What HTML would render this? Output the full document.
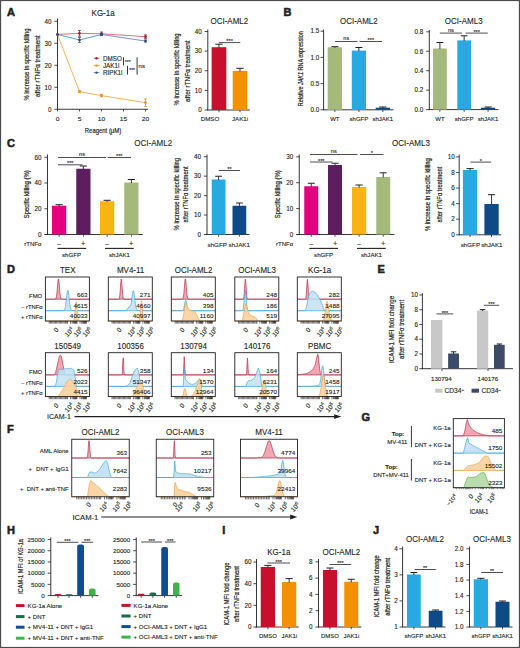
<!DOCTYPE html>
<html><head><meta charset="utf-8"><title>Figure</title>
<style>
html,body{margin:0;padding:0;background:#fff;}
body{width:520px;height:648px;overflow:hidden;}
svg{display:block;font-family:"Liberation Sans",sans-serif;}
text{stroke:#231f20;stroke-width:0.12px;}
text.yl{stroke-width:0.2px;}
text.pl{stroke-width:0.55px;}
</style></head><body>
<svg width="520" height="648" viewBox="0 0 520 648" fill="#231f20">
<rect width="520" height="648" fill="#fff"/>
<rect x="0.5" y="0.5" width="519" height="647" fill="none" stroke="#4a4a4a" stroke-width="1.2"/>
<text transform="translate(7 16.2)" font-size="11" class="pl" font-weight="bold">A</text>
<text transform="translate(103.1 16.3)" font-size="8.5" text-anchor="middle" textLength="23.12" lengthAdjust="spacingAndGlyphs">KG-1a</text>
<line x1="57.5" y1="18.5" x2="57.5" y2="109.65" stroke="#231f20" stroke-width="0.9"/>
<line x1="54.4" y1="109.25" x2="57.5" y2="109.25" stroke="#231f20" stroke-width="0.8"/>
<text transform="translate(51.4 111.52)" font-size="6.3" text-anchor="end">0</text>
<line x1="54.4" y1="87.25" x2="57.5" y2="87.25" stroke="#231f20" stroke-width="0.8"/>
<text transform="translate(51.4 89.52)" font-size="6.3" text-anchor="end">10</text>
<line x1="54.4" y1="65.25" x2="57.5" y2="65.25" stroke="#231f20" stroke-width="0.8"/>
<text transform="translate(51.4 67.52)" font-size="6.3" text-anchor="end">20</text>
<line x1="54.4" y1="43.25" x2="57.5" y2="43.25" stroke="#231f20" stroke-width="0.8"/>
<text transform="translate(51.4 45.52)" font-size="6.3" text-anchor="end">30</text>
<line x1="54.4" y1="21.25" x2="57.5" y2="21.25" stroke="#231f20" stroke-width="0.8"/>
<text transform="translate(51.4 23.52)" font-size="6.3" text-anchor="end">40</text>
<line x1="57.05" y1="109.25" x2="148" y2="109.25" stroke="#231f20" stroke-width="0.9"/>
<line x1="57.5" y1="109.25" x2="57.5" y2="111.45" stroke="#231f20" stroke-width="0.8"/>
<line x1="79.5" y1="109.25" x2="79.5" y2="111.45" stroke="#231f20" stroke-width="0.8"/>
<line x1="101.5" y1="109.25" x2="101.5" y2="111.45" stroke="#231f20" stroke-width="0.8"/>
<line x1="123.5" y1="109.25" x2="123.5" y2="111.45" stroke="#231f20" stroke-width="0.8"/>
<line x1="145.5" y1="109.25" x2="145.5" y2="111.45" stroke="#231f20" stroke-width="0.8"/>
<text transform="translate(57.5 121) scale(1 0.88)" font-size="6.6" text-anchor="middle">0</text>
<text transform="translate(79.5 121) scale(1 0.88)" font-size="6.6" text-anchor="middle">5</text>
<text transform="translate(101.5 121) scale(1 0.88)" font-size="6.6" text-anchor="middle">10</text>
<text transform="translate(123.5 121) scale(1 0.88)" font-size="6.6" text-anchor="middle">15</text>
<text transform="translate(145.5 121) scale(1 0.88)" font-size="6.6" text-anchor="middle">20</text>
<text transform="translate(103 132.9)" font-size="7.4" class="yl" text-anchor="middle" textLength="36.4" lengthAdjust="spacingAndGlyphs">Reagent (μM)</text>
<text transform="translate(28.51 64.5) rotate(-90)" font-size="6.91" class="yl" text-anchor="middle" textLength="72" lengthAdjust="spacingAndGlyphs">% increase in specific killing</text>
<text transform="translate(39.51 66.2) rotate(-90)" font-size="6.91" class="yl" text-anchor="middle" textLength="61.5" lengthAdjust="spacingAndGlyphs">after rTNFα treatment</text>
<path d="M57.5 34.45 L79.5 91.65 L101.5 95.61 L145.5 102.65" fill="none" stroke="#f2a63e" stroke-width="0.85"/>
<circle cx="57.5" cy="34.45" r="1.3" fill="#e8900e"/>
<line x1="79.5" y1="90.55" x2="79.5" y2="92.75" stroke="#e8900e" stroke-width="0.8"/>
<line x1="78.1" y1="90.55" x2="80.9" y2="90.55" stroke="#e8900e" stroke-width="0.8"/>
<line x1="78.1" y1="92.75" x2="80.9" y2="92.75" stroke="#e8900e" stroke-width="0.8"/>
<circle cx="79.5" cy="91.65" r="1.3" fill="#e8900e"/>
<line x1="101.5" y1="94.29" x2="101.5" y2="96.93" stroke="#e8900e" stroke-width="0.8"/>
<line x1="100.1" y1="94.29" x2="102.9" y2="94.29" stroke="#e8900e" stroke-width="0.8"/>
<line x1="100.1" y1="96.93" x2="102.9" y2="96.93" stroke="#e8900e" stroke-width="0.8"/>
<circle cx="101.5" cy="95.61" r="1.3" fill="#e8900e"/>
<line x1="145.5" y1="98.91" x2="145.5" y2="106.39" stroke="#e8900e" stroke-width="0.8"/>
<line x1="144.1" y1="98.91" x2="146.9" y2="98.91" stroke="#e8900e" stroke-width="0.8"/>
<line x1="144.1" y1="106.39" x2="146.9" y2="106.39" stroke="#e8900e" stroke-width="0.8"/>
<circle cx="145.5" cy="102.65" r="1.3" fill="#e8900e"/>
<path d="M57.5 34.45 L79.5 33.35 L101.5 33.79 L145.5 36.65" fill="none" stroke="#d4566c" stroke-width="0.85"/>
<circle cx="57.5" cy="34.45" r="1.3" fill="#a8142f"/>
<line x1="79.5" y1="30.49" x2="79.5" y2="36.21" stroke="#a8142f" stroke-width="0.8"/>
<line x1="78.1" y1="30.49" x2="80.9" y2="30.49" stroke="#a8142f" stroke-width="0.8"/>
<line x1="78.1" y1="36.21" x2="80.9" y2="36.21" stroke="#a8142f" stroke-width="0.8"/>
<circle cx="79.5" cy="33.35" r="1.3" fill="#a8142f"/>
<line x1="101.5" y1="32.03" x2="101.5" y2="35.55" stroke="#a8142f" stroke-width="0.8"/>
<line x1="100.1" y1="32.03" x2="102.9" y2="32.03" stroke="#a8142f" stroke-width="0.8"/>
<line x1="100.1" y1="35.55" x2="102.9" y2="35.55" stroke="#a8142f" stroke-width="0.8"/>
<circle cx="101.5" cy="33.79" r="1.3" fill="#a8142f"/>
<line x1="145.5" y1="34.89" x2="145.5" y2="38.41" stroke="#a8142f" stroke-width="0.8"/>
<line x1="144.1" y1="34.89" x2="146.9" y2="34.89" stroke="#a8142f" stroke-width="0.8"/>
<line x1="144.1" y1="38.41" x2="146.9" y2="38.41" stroke="#a8142f" stroke-width="0.8"/>
<circle cx="145.5" cy="36.65" r="1.3" fill="#a8142f"/>
<path d="M57.5 34.45 L79.5 39.95 L101.5 34.45 L145.5 41.05" fill="none" stroke="#5582b2" stroke-width="0.85"/>
<circle cx="57.5" cy="34.45" r="1.3" fill="#244f7e"/>
<line x1="79.5" y1="37.53" x2="79.5" y2="42.37" stroke="#244f7e" stroke-width="0.8"/>
<line x1="78.1" y1="37.53" x2="80.9" y2="37.53" stroke="#244f7e" stroke-width="0.8"/>
<line x1="78.1" y1="42.37" x2="80.9" y2="42.37" stroke="#244f7e" stroke-width="0.8"/>
<circle cx="79.5" cy="39.95" r="1.3" fill="#244f7e"/>
<line x1="101.5" y1="33.35" x2="101.5" y2="35.55" stroke="#244f7e" stroke-width="0.8"/>
<line x1="100.1" y1="33.35" x2="102.9" y2="33.35" stroke="#244f7e" stroke-width="0.8"/>
<line x1="100.1" y1="35.55" x2="102.9" y2="35.55" stroke="#244f7e" stroke-width="0.8"/>
<circle cx="101.5" cy="34.45" r="1.3" fill="#244f7e"/>
<line x1="145.5" y1="39.95" x2="145.5" y2="42.15" stroke="#244f7e" stroke-width="0.8"/>
<line x1="144.1" y1="39.95" x2="146.9" y2="39.95" stroke="#244f7e" stroke-width="0.8"/>
<line x1="144.1" y1="42.15" x2="146.9" y2="42.15" stroke="#244f7e" stroke-width="0.8"/>
<circle cx="145.5" cy="41.05" r="1.3" fill="#244f7e"/>
<line x1="93.6" y1="58.3" x2="99.4" y2="58.3" stroke="#d4566c" stroke-width="0.8"/>
<circle cx="96.5" cy="58.3" r="1.2" fill="#a8142f"/>
<text transform="translate(102.9 60.5)" font-size="6.3">DMSO</text>
<line x1="93.6" y1="65.6" x2="99.4" y2="65.6" stroke="#f2a63e" stroke-width="0.8"/>
<circle cx="96.5" cy="65.6" r="1.2" fill="#e8900e"/>
<text transform="translate(102.9 67.8)" font-size="6.3">JAK1i</text>
<line x1="93.6" y1="72.6" x2="99.4" y2="72.6" stroke="#5582b2" stroke-width="0.8"/>
<circle cx="96.5" cy="72.6" r="1.2" fill="#244f7e"/>
<text transform="translate(102.9 74.8)" font-size="6.3">RIPK1i</text>
<line x1="123.5" y1="57.3" x2="123.5" y2="65.4" stroke="#231f20" stroke-width="0.9"/>
<text transform="translate(124.8 64)" font-size="5">***</text>
<line x1="127.5" y1="65.8" x2="127.5" y2="74.6" stroke="#231f20" stroke-width="0.9"/>
<text transform="translate(129.2 72.4)" font-size="5">***</text>
<line x1="137.1" y1="57.3" x2="137.1" y2="74.6" stroke="#231f20" stroke-width="0.9"/>
<text transform="translate(138.6 67.8)" font-size="6">ns</text>
<text transform="translate(229.3 23.6)" font-size="8.5" text-anchor="middle" textLength="37.78" lengthAdjust="spacingAndGlyphs">OCI-AML2</text>
<line x1="207.8" y1="29.6" x2="207.8" y2="110.4" stroke="#231f20" stroke-width="0.9"/>
<line x1="204.7" y1="110" x2="207.8" y2="110" stroke="#231f20" stroke-width="0.8"/>
<text transform="translate(201.8 112.27)" font-size="6.3" text-anchor="end">0</text>
<line x1="204.7" y1="90.38" x2="207.8" y2="90.38" stroke="#231f20" stroke-width="0.8"/>
<text transform="translate(201.8 92.64)" font-size="6.3" text-anchor="end">10</text>
<line x1="204.7" y1="70.75" x2="207.8" y2="70.75" stroke="#231f20" stroke-width="0.8"/>
<text transform="translate(201.8 73.02)" font-size="6.3" text-anchor="end">20</text>
<line x1="204.7" y1="51.12" x2="207.8" y2="51.12" stroke="#231f20" stroke-width="0.8"/>
<text transform="translate(201.8 53.39)" font-size="6.3" text-anchor="end">30</text>
<line x1="204.7" y1="31.5" x2="207.8" y2="31.5" stroke="#231f20" stroke-width="0.8"/>
<text transform="translate(201.8 33.77)" font-size="6.3" text-anchor="end">40</text>
<line x1="207.35" y1="110" x2="249.8" y2="110" stroke="#231f20" stroke-width="0.9"/>
<line x1="219" y1="110" x2="219" y2="112.2" stroke="#231f20" stroke-width="0.8"/>
<line x1="240" y1="110" x2="240" y2="112.2" stroke="#231f20" stroke-width="0.8"/>
<rect x="211.6" y="47.2" width="14.7" height="62.8" fill="#c8102e"/>
<line x1="218.95" y1="47.7" x2="218.95" y2="44.2" stroke="#231f20" stroke-width="0.9"/>
<line x1="215.27" y1="44.2" x2="222.62" y2="44.2" stroke="#231f20" stroke-width="1"/>
<rect x="232.7" y="70.9" width="14.6" height="39.1" fill="#f39200"/>
<line x1="240" y1="71.4" x2="240" y2="68.3" stroke="#231f20" stroke-width="0.9"/>
<line x1="236.35" y1="68.3" x2="243.65" y2="68.3" stroke="#231f20" stroke-width="1"/>
<line x1="218.8" y1="42.6" x2="240.3" y2="42.6" stroke="#231f20" stroke-width="0.8"/>
<text transform="translate(229.55 43.2)" font-size="5.5" text-anchor="middle">***</text>
<text transform="translate(210 120.6)" font-size="6.2" text-anchor="middle">DMSO</text>
<text transform="translate(240 120.6)" font-size="6.2" text-anchor="middle">JAK1i</text>
<text transform="translate(179.21 69.4) rotate(-90)" font-size="6.91" class="yl" text-anchor="middle" textLength="72" lengthAdjust="spacingAndGlyphs">% increase in specific killing</text>
<text transform="translate(190.11 71.2) rotate(-90)" font-size="6.91" class="yl" text-anchor="middle" textLength="61.5" lengthAdjust="spacingAndGlyphs">after rTNFα treatment</text>
<text transform="translate(283.4 16.2)" font-size="11" class="pl" font-weight="bold">B</text>
<text transform="translate(358.8 23.6)" font-size="8.5" text-anchor="middle" textLength="37.78" lengthAdjust="spacingAndGlyphs">OCI-AML2</text>
<line x1="323.6" y1="29.5" x2="323.6" y2="110.2" stroke="#231f20" stroke-width="0.9"/>
<line x1="320.5" y1="109.8" x2="323.6" y2="109.8" stroke="#231f20" stroke-width="0.8"/>
<text transform="translate(319.3 112.07)" font-size="6.3" text-anchor="end">0.0</text>
<line x1="320.5" y1="83.6" x2="323.6" y2="83.6" stroke="#231f20" stroke-width="0.8"/>
<text transform="translate(319.3 85.87)" font-size="6.3" text-anchor="end">0.5</text>
<line x1="320.5" y1="57.4" x2="323.6" y2="57.4" stroke="#231f20" stroke-width="0.8"/>
<text transform="translate(319.3 59.67)" font-size="6.3" text-anchor="end">1.0</text>
<line x1="320.5" y1="31.2" x2="323.6" y2="31.2" stroke="#231f20" stroke-width="0.8"/>
<text transform="translate(319.3 33.47)" font-size="6.3" text-anchor="end">1.5</text>
<line x1="323.35" y1="109.8" x2="393.5" y2="109.8" stroke="#231f20" stroke-width="0.9"/>
<line x1="334.85" y1="109.8" x2="334.85" y2="112" stroke="#231f20" stroke-width="0.8"/>
<line x1="358.9" y1="109.8" x2="358.9" y2="112" stroke="#231f20" stroke-width="0.8"/>
<line x1="382.85" y1="109.8" x2="382.85" y2="112" stroke="#231f20" stroke-width="0.8"/>
<rect x="327.7" y="47.3" width="14.3" height="62.5" fill="#a5b97c"/>
<line x1="334.85" y1="47.8" x2="334.85" y2="46.7" stroke="#231f20" stroke-width="0.9"/>
<line x1="331.28" y1="46.7" x2="338.43" y2="46.7" stroke="#231f20" stroke-width="1"/>
<rect x="351.8" y="50.6" width="14.2" height="59.2" fill="#29a9e1"/>
<line x1="358.9" y1="51.1" x2="358.9" y2="47.5" stroke="#231f20" stroke-width="0.9"/>
<line x1="355.35" y1="47.5" x2="362.45" y2="47.5" stroke="#231f20" stroke-width="1"/>
<rect x="375.7" y="107.7" width="14.3" height="2.1" fill="#0d4a86"/>
<line x1="382.85" y1="108.2" x2="382.85" y2="107" stroke="#231f20" stroke-width="0.9"/>
<line x1="379.28" y1="107" x2="386.43" y2="107" stroke="#231f20" stroke-width="1"/>
<line x1="335" y1="41.5" x2="357.5" y2="41.5" stroke="#231f20" stroke-width="0.8"/>
<text transform="translate(346.25 40) scale(1 0.9)" font-size="5.6" text-anchor="middle">ns</text>
<line x1="359.6" y1="41.5" x2="382" y2="41.5" stroke="#231f20" stroke-width="0.8"/>
<text transform="translate(370.8 42.1)" font-size="5.5" text-anchor="middle">***</text>
<text transform="translate(334.85 121.2)" font-size="6" text-anchor="middle">WT</text>
<text transform="translate(358.9 121.2)" font-size="6" text-anchor="middle">shGFP</text>
<text transform="translate(382.85 121.2)" font-size="6" text-anchor="middle">shJAK1</text>
<text transform="translate(303.44 68.8) rotate(-90)" font-size="6.7" class="yl" text-anchor="middle" textLength="75" lengthAdjust="spacingAndGlyphs">Relative <tspan font-style="italic">JAK1</tspan> RNA expression</text>
<text transform="translate(463.7 23.6)" font-size="8.5" text-anchor="middle" textLength="37.78" lengthAdjust="spacingAndGlyphs">OCI-AML3</text>
<line x1="429.3" y1="30" x2="429.3" y2="110" stroke="#231f20" stroke-width="0.9"/>
<line x1="426.2" y1="109.6" x2="429.3" y2="109.6" stroke="#231f20" stroke-width="0.8"/>
<text transform="translate(423.3 111.87)" font-size="6.3" text-anchor="end">0.0</text>
<line x1="426.2" y1="90.15" x2="429.3" y2="90.15" stroke="#231f20" stroke-width="0.8"/>
<text transform="translate(423.3 92.42)" font-size="6.3" text-anchor="end">0.2</text>
<line x1="426.2" y1="70.7" x2="429.3" y2="70.7" stroke="#231f20" stroke-width="0.8"/>
<text transform="translate(423.3 72.97)" font-size="6.3" text-anchor="end">0.4</text>
<line x1="426.2" y1="51.25" x2="429.3" y2="51.25" stroke="#231f20" stroke-width="0.8"/>
<text transform="translate(423.3 53.52)" font-size="6.3" text-anchor="end">0.6</text>
<line x1="426.2" y1="31.8" x2="429.3" y2="31.8" stroke="#231f20" stroke-width="0.8"/>
<text transform="translate(423.3 34.07)" font-size="6.3" text-anchor="end">0.8</text>
<line x1="428.85" y1="109.6" x2="498.5" y2="109.6" stroke="#231f20" stroke-width="0.9"/>
<line x1="439.9" y1="109.6" x2="439.9" y2="111.8" stroke="#231f20" stroke-width="0.8"/>
<line x1="464.15" y1="109.6" x2="464.15" y2="111.8" stroke="#231f20" stroke-width="0.8"/>
<line x1="488.1" y1="109.6" x2="488.1" y2="111.8" stroke="#231f20" stroke-width="0.8"/>
<rect x="433" y="48.5" width="13.8" height="61.1" fill="#a5b97c"/>
<line x1="439.9" y1="49" x2="439.9" y2="42.5" stroke="#231f20" stroke-width="0.9"/>
<line x1="436.45" y1="42.5" x2="443.35" y2="42.5" stroke="#231f20" stroke-width="1"/>
<rect x="457.3" y="40.4" width="13.7" height="69.2" fill="#29a9e1"/>
<line x1="464.15" y1="40.9" x2="464.15" y2="35.8" stroke="#231f20" stroke-width="0.9"/>
<line x1="460.72" y1="35.8" x2="467.57" y2="35.8" stroke="#231f20" stroke-width="1"/>
<rect x="481" y="107.7" width="14.2" height="1.9" fill="#0d4a86"/>
<line x1="488.1" y1="108.2" x2="488.1" y2="107" stroke="#231f20" stroke-width="0.9"/>
<line x1="484.55" y1="107" x2="491.65" y2="107" stroke="#231f20" stroke-width="1"/>
<line x1="439.8" y1="33.1" x2="462" y2="33.1" stroke="#231f20" stroke-width="0.8"/>
<text transform="translate(450.9 31.6) scale(1 0.9)" font-size="5.6" text-anchor="middle">ns</text>
<line x1="465.6" y1="33.1" x2="487.7" y2="33.1" stroke="#231f20" stroke-width="0.8"/>
<text transform="translate(476.65 33.7)" font-size="5.5" text-anchor="middle">***</text>
<text transform="translate(439.9 121)" font-size="6" text-anchor="middle">WT</text>
<text transform="translate(464.15 121)" font-size="6" text-anchor="middle">shGFP</text>
<text transform="translate(488.1 121)" font-size="6" text-anchor="middle">shJAK1</text>
<text transform="translate(7 147.2)" font-size="11" class="pl" font-weight="bold">C</text>
<text transform="translate(153.2 145.8)" font-size="8.5" text-anchor="middle" textLength="37.78" lengthAdjust="spacingAndGlyphs">OCI-AML2</text>
<text transform="translate(411 145.8)" font-size="8.5" text-anchor="middle" textLength="37.78" lengthAdjust="spacingAndGlyphs">OCI-AML3</text>
<line x1="47.5" y1="154.5" x2="47.5" y2="234.9" stroke="#231f20" stroke-width="0.9"/>
<line x1="44.4" y1="234.5" x2="47.5" y2="234.5" stroke="#231f20" stroke-width="0.8"/>
<text transform="translate(41.5 236.77)" font-size="6.3" text-anchor="end">0</text>
<line x1="44.4" y1="208.75" x2="47.5" y2="208.75" stroke="#231f20" stroke-width="0.8"/>
<text transform="translate(41.5 211.02)" font-size="6.3" text-anchor="end">20</text>
<line x1="44.4" y1="183" x2="47.5" y2="183" stroke="#231f20" stroke-width="0.8"/>
<text transform="translate(41.5 185.27)" font-size="6.3" text-anchor="end">40</text>
<line x1="44.4" y1="157.25" x2="47.5" y2="157.25" stroke="#231f20" stroke-width="0.8"/>
<text transform="translate(41.5 159.52)" font-size="6.3" text-anchor="end">60</text>
<line x1="44.75" y1="234.5" x2="142.7" y2="234.5" stroke="#231f20" stroke-width="0.9"/>
<line x1="59.12" y1="234.5" x2="59.12" y2="236.7" stroke="#231f20" stroke-width="0.8"/>
<line x1="83.38" y1="234.5" x2="83.38" y2="236.7" stroke="#231f20" stroke-width="0.8"/>
<line x1="107.12" y1="234.5" x2="107.12" y2="236.7" stroke="#231f20" stroke-width="0.8"/>
<line x1="131.38" y1="234.5" x2="131.38" y2="236.7" stroke="#231f20" stroke-width="0.8"/>
<rect x="52" y="205.75" width="14.25" height="28.75" fill="#e5007e"/>
<line x1="59.12" y1="206.25" x2="59.12" y2="204.7" stroke="#231f20" stroke-width="0.9"/>
<line x1="55.56" y1="204.7" x2="62.69" y2="204.7" stroke="#231f20" stroke-width="1"/>
<rect x="76.25" y="168.75" width="14.25" height="65.75" fill="#5c1e5f"/>
<line x1="83.38" y1="169.25" x2="83.38" y2="166" stroke="#231f20" stroke-width="0.9"/>
<line x1="79.81" y1="166" x2="86.94" y2="166" stroke="#231f20" stroke-width="1"/>
<rect x="100" y="201.25" width="14.25" height="33.25" fill="#f7b413"/>
<line x1="107.12" y1="201.75" x2="107.12" y2="200.3" stroke="#231f20" stroke-width="0.9"/>
<line x1="103.56" y1="200.3" x2="110.69" y2="200.3" stroke="#231f20" stroke-width="1"/>
<rect x="124.25" y="182.5" width="14.25" height="52" fill="#a5b97c"/>
<line x1="131.38" y1="183" x2="131.38" y2="179.5" stroke="#231f20" stroke-width="0.9"/>
<line x1="127.81" y1="179.5" x2="134.94" y2="179.5" stroke="#231f20" stroke-width="1"/>
<line x1="58" y1="164.8" x2="82.5" y2="164.8" stroke="#231f20" stroke-width="0.8"/>
<text transform="translate(70.25 165.4)" font-size="5.5" text-anchor="middle">***</text>
<line x1="58" y1="157.5" x2="106" y2="157.5" stroke="#231f20" stroke-width="0.8"/>
<text transform="translate(82 156) scale(1 0.9)" font-size="5.6" text-anchor="middle">ns</text>
<line x1="107.5" y1="157.5" x2="131" y2="157.5" stroke="#231f20" stroke-width="0.8"/>
<text transform="translate(119.25 158.1)" font-size="5.5" text-anchor="middle">***</text>
<text transform="translate(41.4 246)" font-size="6" text-anchor="end">rTNFα</text>
<text transform="translate(59 246.2)" font-size="7.2" text-anchor="middle">–</text>
<text transform="translate(83 246.2)" font-size="7.2" text-anchor="middle">+</text>
<text transform="translate(107 246.2)" font-size="7.2" text-anchor="middle">–</text>
<text transform="translate(131 246.2)" font-size="7.2" text-anchor="middle">+</text>
<line x1="57.5" y1="248.4" x2="86.25" y2="248.4" stroke="#231f20" stroke-width="1.1"/>
<line x1="105" y1="248.4" x2="133.75" y2="248.4" stroke="#231f20" stroke-width="1.1"/>
<text transform="translate(71.5 257.4)" font-size="6.1" text-anchor="middle">shGFP</text>
<text transform="translate(119.5 257.4)" font-size="6.1" text-anchor="middle">shJAK1</text>
<text transform="translate(28.81 194.3) rotate(-90)" font-size="6.91" class="yl" text-anchor="middle" textLength="48" lengthAdjust="spacingAndGlyphs">Specific killing (%)</text>
<line x1="299.25" y1="154.5" x2="299.25" y2="234.9" stroke="#231f20" stroke-width="0.9"/>
<line x1="296.15" y1="234.5" x2="299.25" y2="234.5" stroke="#231f20" stroke-width="0.8"/>
<text transform="translate(293.25 236.77)" font-size="6.3" text-anchor="end">0</text>
<line x1="296.15" y1="208.6" x2="299.25" y2="208.6" stroke="#231f20" stroke-width="0.8"/>
<text transform="translate(293.25 210.87)" font-size="6.3" text-anchor="end">10</text>
<line x1="296.15" y1="182.7" x2="299.25" y2="182.7" stroke="#231f20" stroke-width="0.8"/>
<text transform="translate(293.25 184.97)" font-size="6.3" text-anchor="end">20</text>
<line x1="296.15" y1="156.8" x2="299.25" y2="156.8" stroke="#231f20" stroke-width="0.8"/>
<text transform="translate(293.25 159.07)" font-size="6.3" text-anchor="end">30</text>
<line x1="296.5" y1="234.5" x2="394.4" y2="234.5" stroke="#231f20" stroke-width="0.9"/>
<line x1="311.25" y1="234.5" x2="311.25" y2="236.7" stroke="#231f20" stroke-width="0.8"/>
<line x1="335" y1="234.5" x2="335" y2="236.7" stroke="#231f20" stroke-width="0.8"/>
<line x1="359.12" y1="234.5" x2="359.12" y2="236.7" stroke="#231f20" stroke-width="0.8"/>
<line x1="383.23" y1="234.5" x2="383.23" y2="236.7" stroke="#231f20" stroke-width="0.8"/>
<rect x="304.25" y="186.25" width="14" height="48.25" fill="#e5007e"/>
<line x1="311.25" y1="186.75" x2="311.25" y2="183.25" stroke="#231f20" stroke-width="0.9"/>
<line x1="307.75" y1="183.25" x2="314.75" y2="183.25" stroke="#231f20" stroke-width="1"/>
<rect x="328" y="165" width="14" height="69.5" fill="#5c1e5f"/>
<line x1="335" y1="165.5" x2="335" y2="163.25" stroke="#231f20" stroke-width="0.9"/>
<line x1="331.5" y1="163.25" x2="338.5" y2="163.25" stroke="#231f20" stroke-width="1"/>
<rect x="352" y="187" width="14.25" height="47.5" fill="#f7b413"/>
<line x1="359.12" y1="187.5" x2="359.12" y2="185" stroke="#231f20" stroke-width="0.9"/>
<line x1="355.56" y1="185" x2="362.69" y2="185" stroke="#231f20" stroke-width="1"/>
<rect x="376.25" y="177" width="13.95" height="57.5" fill="#a5b97c"/>
<line x1="383.23" y1="177.5" x2="383.23" y2="172.8" stroke="#231f20" stroke-width="0.9"/>
<line x1="379.74" y1="172.8" x2="386.71" y2="172.8" stroke="#231f20" stroke-width="1"/>
<line x1="310" y1="162" x2="332.5" y2="162" stroke="#231f20" stroke-width="0.8"/>
<text transform="translate(321.25 162.6)" font-size="5.5" text-anchor="middle">***</text>
<line x1="310" y1="154.5" x2="357.5" y2="154.5" stroke="#231f20" stroke-width="0.8"/>
<text transform="translate(333.75 153) scale(1 0.9)" font-size="5.6" text-anchor="middle">ns</text>
<line x1="360" y1="154.5" x2="383.5" y2="154.5" stroke="#231f20" stroke-width="0.8"/>
<text transform="translate(371.75 155.1)" font-size="5.5" text-anchor="middle">*</text>
<text transform="translate(293.15 246)" font-size="6" text-anchor="end">rTNFα</text>
<text transform="translate(311.25 246.2)" font-size="7.2" text-anchor="middle">–</text>
<text transform="translate(335 246.2)" font-size="7.2" text-anchor="middle">+</text>
<text transform="translate(359 246.2)" font-size="7.2" text-anchor="middle">–</text>
<text transform="translate(383 246.2)" font-size="7.2" text-anchor="middle">+</text>
<line x1="309.25" y1="248.4" x2="338" y2="248.4" stroke="#231f20" stroke-width="1.1"/>
<line x1="357" y1="248.4" x2="385.75" y2="248.4" stroke="#231f20" stroke-width="1.1"/>
<text transform="translate(323.6 257.4)" font-size="6.1" text-anchor="middle">shGFP</text>
<text transform="translate(371.4 257.4)" font-size="6.1" text-anchor="middle">shJAK1</text>
<text transform="translate(280.21 194.3) rotate(-90)" font-size="6.91" class="yl" text-anchor="middle" textLength="48" lengthAdjust="spacingAndGlyphs">Specific killing (%)</text>
<line x1="207" y1="154.5" x2="207" y2="234.9" stroke="#231f20" stroke-width="0.9"/>
<line x1="203.9" y1="234.5" x2="207" y2="234.5" stroke="#231f20" stroke-width="0.8"/>
<text transform="translate(201 236.77)" font-size="6.3" text-anchor="end">0</text>
<line x1="203.9" y1="215.05" x2="207" y2="215.05" stroke="#231f20" stroke-width="0.8"/>
<text transform="translate(201 217.32)" font-size="6.3" text-anchor="end">10</text>
<line x1="203.9" y1="195.6" x2="207" y2="195.6" stroke="#231f20" stroke-width="0.8"/>
<text transform="translate(201 197.87)" font-size="6.3" text-anchor="end">20</text>
<line x1="203.9" y1="176.15" x2="207" y2="176.15" stroke="#231f20" stroke-width="0.8"/>
<text transform="translate(201 178.42)" font-size="6.3" text-anchor="end">30</text>
<line x1="203.9" y1="156.7" x2="207" y2="156.7" stroke="#231f20" stroke-width="0.8"/>
<text transform="translate(201 158.97)" font-size="6.3" text-anchor="end">40</text>
<line x1="206.55" y1="234.5" x2="249.5" y2="234.5" stroke="#231f20" stroke-width="0.9"/>
<line x1="218.6" y1="234.5" x2="218.6" y2="236.7" stroke="#231f20" stroke-width="0.8"/>
<line x1="239.4" y1="234.5" x2="239.4" y2="236.7" stroke="#231f20" stroke-width="0.8"/>
<rect x="211.75" y="179.5" width="13.75" height="55" fill="#29a9e1"/>
<line x1="218.62" y1="180" x2="218.62" y2="176.25" stroke="#231f20" stroke-width="0.9"/>
<line x1="215.19" y1="176.25" x2="222.06" y2="176.25" stroke="#231f20" stroke-width="1"/>
<rect x="232.5" y="205.75" width="13.75" height="28.75" fill="#0d4a86"/>
<line x1="239.38" y1="206.25" x2="239.38" y2="203" stroke="#231f20" stroke-width="0.9"/>
<line x1="235.94" y1="203" x2="242.81" y2="203" stroke="#231f20" stroke-width="1"/>
<line x1="218.75" y1="170.5" x2="240" y2="170.5" stroke="#231f20" stroke-width="0.8"/>
<text transform="translate(229.38 171.1)" font-size="5.5" text-anchor="middle">**</text>
<text transform="translate(217.2 246.6)" font-size="6.2" text-anchor="middle">shGFP</text>
<text transform="translate(239.2 246.6)" font-size="6.2" text-anchor="middle">shJAK1</text>
<text transform="translate(178.71 194.2) rotate(-90)" font-size="6.91" class="yl" text-anchor="middle" textLength="72.5" lengthAdjust="spacingAndGlyphs">% increase in specific killing</text>
<text transform="translate(188.41 194.5) rotate(-90)" font-size="6.91" class="yl" text-anchor="middle" textLength="56" lengthAdjust="spacingAndGlyphs">after rTNFα treatment</text>
<line x1="459.2" y1="154.5" x2="459.2" y2="235.2" stroke="#231f20" stroke-width="0.9"/>
<line x1="456.1" y1="234.8" x2="459.2" y2="234.8" stroke="#231f20" stroke-width="0.8"/>
<text transform="translate(454.8 237.07)" font-size="6.3" text-anchor="end">0</text>
<line x1="456.1" y1="219.22" x2="459.2" y2="219.22" stroke="#231f20" stroke-width="0.8"/>
<text transform="translate(454.8 221.49)" font-size="6.3" text-anchor="end">2</text>
<line x1="456.1" y1="203.64" x2="459.2" y2="203.64" stroke="#231f20" stroke-width="0.8"/>
<text transform="translate(454.8 205.91)" font-size="6.3" text-anchor="end">4</text>
<line x1="456.1" y1="188.06" x2="459.2" y2="188.06" stroke="#231f20" stroke-width="0.8"/>
<text transform="translate(454.8 190.33)" font-size="6.3" text-anchor="end">6</text>
<line x1="456.1" y1="172.48" x2="459.2" y2="172.48" stroke="#231f20" stroke-width="0.8"/>
<text transform="translate(454.8 174.75)" font-size="6.3" text-anchor="end">8</text>
<line x1="456.1" y1="156.9" x2="459.2" y2="156.9" stroke="#231f20" stroke-width="0.8"/>
<text transform="translate(454.8 159.17)" font-size="6.3" text-anchor="end">10</text>
<line x1="458.75" y1="234.8" x2="501.2" y2="234.8" stroke="#231f20" stroke-width="0.9"/>
<line x1="470.1" y1="234.8" x2="470.1" y2="237" stroke="#231f20" stroke-width="0.8"/>
<line x1="491.5" y1="234.8" x2="491.5" y2="237" stroke="#231f20" stroke-width="0.8"/>
<rect x="462.9" y="170" width="14.3" height="64.8" fill="#29a9e1"/>
<line x1="470.05" y1="170.5" x2="470.05" y2="168.6" stroke="#231f20" stroke-width="0.9"/>
<line x1="466.47" y1="168.6" x2="473.62" y2="168.6" stroke="#231f20" stroke-width="1"/>
<rect x="484.4" y="204" width="14.3" height="30.8" fill="#0d4a86"/>
<line x1="491.55" y1="204.5" x2="491.55" y2="194.7" stroke="#231f20" stroke-width="0.9"/>
<line x1="487.97" y1="194.7" x2="495.12" y2="194.7" stroke="#231f20" stroke-width="1"/>
<line x1="470.4" y1="162.1" x2="491.1" y2="162.1" stroke="#231f20" stroke-width="0.8"/>
<text transform="translate(480.75 162.7)" font-size="5.5" text-anchor="middle">*</text>
<text transform="translate(470.4 246.6)" font-size="6.2" text-anchor="middle">shGFP</text>
<text transform="translate(491.8 246.6)" font-size="6.2" text-anchor="middle">shJAK1</text>
<text transform="translate(430.41 194.6) rotate(-90)" font-size="6.91" class="yl" text-anchor="middle" textLength="73" lengthAdjust="spacingAndGlyphs">% increase in specific killing</text>
<text transform="translate(441.71 194.6) rotate(-90)" font-size="6.91" class="yl" text-anchor="middle" textLength="56" lengthAdjust="spacingAndGlyphs">after rTNFα treatment</text>
<text transform="translate(7 272.6)" font-size="11" class="pl" font-weight="bold">D</text>
<text transform="translate(67.7 272.6)" font-size="8.5" text-anchor="middle" textLength="15.56" lengthAdjust="spacingAndGlyphs">TEX</text>
<path d="M45.4 299.2 L45.4 299.2 54.9 299.2 55.2 299.1 55.6 298.9 55.9 298.3 56.3 297.2 56.6 295.2 57 292.1 57.3 288.1 57.7 283.9 58 280.5 58.4 278.9 58.7 279.8 59.1 282.8 59.4 286.9 59.8 291 60.1 294.4 60.5 296.7 60.8 298.1 61.2 298.7 61.5 299 61.9 299.1 62.2 299.2 89.1 299.2 L89.4 299.2 Z" fill="#ee9dab" fill-opacity="0.9"/>
<path d="M45.4 299.2 54.9 299.2 55.2 299.1 55.6 298.9 55.9 298.3 56.3 297.2 56.6 295.2 57 292.1 57.3 288.1 57.7 283.9 58 280.5 58.4 278.9 58.7 279.8 59.1 282.8 59.4 286.9 59.8 291 60.1 294.4 60.5 296.7 60.8 298.1 61.2 298.7 61.5 299 61.9 299.1 62.2 299.2 89.1 299.2" fill="none" stroke="#b5304c" stroke-width="0.7"/>
<line x1="45.4" y1="299.2" x2="89.4" y2="299.2" stroke="#b5304c" stroke-width="0.7"/>
<path d="M45.4 310.7 L45.4 310.7 62.9 310.7 63.3 310.6 63.6 310.5 64 310.3 64.3 310 64.7 309.4 65 308.3 65.4 306.8 65.7 304.6 66.1 301.9 66.4 298.7 66.8 295.6 67.1 292.8 67.5 290.9 67.8 290.2 68.2 290.9 68.5 292.8 68.8 295.6 69.2 298.7 69.5 301.9 69.9 304.6 70.2 306.8 70.6 308.3 70.9 309.4 71.3 310 71.6 310.3 72 310.5 72.3 310.6 72.7 310.7 89.1 310.7 L89.4 310.7 Z" fill="#bfe0f5" fill-opacity="0.85"/>
<path d="M45.4 310.7 62.9 310.7 63.3 310.6 63.6 310.5 64 310.3 64.3 310 64.7 309.4 65 308.3 65.4 306.8 65.7 304.6 66.1 301.9 66.4 298.7 66.8 295.6 67.1 292.8 67.5 290.9 67.8 290.2 68.2 290.9 68.5 292.8 68.8 295.6 69.2 298.7 69.5 301.9 69.9 304.6 70.2 306.8 70.6 308.3 70.9 309.4 71.3 310 71.6 310.3 72 310.5 72.3 310.6 72.7 310.7 89.1 310.7" fill="none" stroke="#42a8d6" stroke-width="0.7"/>
<line x1="45.4" y1="310.7" x2="89.4" y2="310.7" stroke="#42a8d6" stroke-width="0.7"/>
<path d="M45.4 321 L45.4 321 72.7 321 73 320.9 73.4 320.7 73.7 320.3 74.1 319.3 74.4 317.5 74.8 314.5 75.1 310.5 75.5 306.3 75.8 303 76.2 301.7 76.5 303 76.9 306.3 77.2 310.5 77.6 314.5 77.9 317.5 78.3 319.3 78.6 320.3 79 320.7 79.3 320.9 79.7 321 89.1 321 L89.4 321 Z" fill="#f9d19c" fill-opacity="0.9"/>
<path d="M45.4 321 72.7 321 73 320.9 73.4 320.7 73.7 320.3 74.1 319.3 74.4 317.5 74.8 314.5 75.1 310.5 75.5 306.3 75.8 303 76.2 301.7 76.5 303 76.9 306.3 77.2 310.5 77.6 314.5 77.9 317.5 78.3 319.3 78.6 320.3 79 320.7 79.3 320.9 79.7 321 89.1 321" fill="none" stroke="#eca24a" stroke-width="0.7"/>
<text transform="translate(87.6 297) scale(1 0.85)" font-size="6.4" text-anchor="end">663</text>
<text transform="translate(87.6 308.1) scale(1 0.85)" font-size="6.4" text-anchor="end">4615</text>
<text transform="translate(87.6 317.9) scale(1 0.85)" font-size="6.4" text-anchor="end">40033</text>
<rect x="45.4" y="277" width="44" height="44" fill="none" stroke="#231f20" stroke-width="0.9"/>
<line x1="49.2" y1="321" x2="49.2" y2="323.6" stroke="#231f20" stroke-width="0.65"/>
<line x1="50.45" y1="321" x2="50.45" y2="323.6" stroke="#231f20" stroke-width="0.65"/>
<line x1="51.7" y1="321" x2="51.7" y2="323.6" stroke="#231f20" stroke-width="0.65"/>
<line x1="52.95" y1="321" x2="52.95" y2="323.6" stroke="#231f20" stroke-width="0.65"/>
<line x1="54.2" y1="321" x2="54.2" y2="323.6" stroke="#231f20" stroke-width="0.65"/>
<line x1="55.45" y1="321" x2="55.45" y2="323.6" stroke="#231f20" stroke-width="0.65"/>
<line x1="56.7" y1="321" x2="56.7" y2="323.6" stroke="#231f20" stroke-width="0.65"/>
<line x1="57.95" y1="321" x2="57.95" y2="323.6" stroke="#231f20" stroke-width="0.65"/>
<line x1="59.2" y1="321" x2="59.2" y2="323.6" stroke="#231f20" stroke-width="0.65"/>
<line x1="60.45" y1="321" x2="60.45" y2="323.6" stroke="#231f20" stroke-width="0.65"/>
<line x1="61.7" y1="321" x2="61.7" y2="323.6" stroke="#231f20" stroke-width="0.65"/>
<line x1="62.95" y1="321" x2="62.95" y2="323.6" stroke="#231f20" stroke-width="0.65"/>
<line x1="64.2" y1="321" x2="64.2" y2="323.6" stroke="#231f20" stroke-width="0.65"/>
<line x1="65.45" y1="321" x2="65.45" y2="323.6" stroke="#231f20" stroke-width="0.65"/>
<line x1="66.7" y1="321" x2="66.7" y2="323.6" stroke="#231f20" stroke-width="0.65"/>
<line x1="67.5" y1="321" x2="67.5" y2="323.6" stroke="#231f20" stroke-width="0.65"/>
<line x1="70.5" y1="321" x2="70.5" y2="323.6" stroke="#231f20" stroke-width="0.65"/>
<line x1="72.1" y1="321" x2="72.1" y2="323.6" stroke="#231f20" stroke-width="0.65"/>
<line x1="73.2" y1="321" x2="73.2" y2="323.6" stroke="#231f20" stroke-width="0.65"/>
<line x1="74" y1="321" x2="74" y2="323.6" stroke="#231f20" stroke-width="0.65"/>
<line x1="74.7" y1="321" x2="74.7" y2="323.6" stroke="#231f20" stroke-width="0.65"/>
<line x1="75.3" y1="321" x2="75.3" y2="323.6" stroke="#231f20" stroke-width="0.65"/>
<line x1="75.8" y1="321" x2="75.8" y2="323.6" stroke="#231f20" stroke-width="0.65"/>
<line x1="76.3" y1="321" x2="76.3" y2="323.6" stroke="#231f20" stroke-width="0.65"/>
<line x1="77" y1="321" x2="77" y2="323.6" stroke="#231f20" stroke-width="0.65"/>
<line x1="80" y1="321" x2="80" y2="323.6" stroke="#231f20" stroke-width="0.65"/>
<line x1="81.6" y1="321" x2="81.6" y2="323.6" stroke="#231f20" stroke-width="0.65"/>
<line x1="82.7" y1="321" x2="82.7" y2="323.6" stroke="#231f20" stroke-width="0.65"/>
<line x1="83.5" y1="321" x2="83.5" y2="323.6" stroke="#231f20" stroke-width="0.65"/>
<line x1="84.2" y1="321" x2="84.2" y2="323.6" stroke="#231f20" stroke-width="0.65"/>
<line x1="84.8" y1="321" x2="84.8" y2="323.6" stroke="#231f20" stroke-width="0.65"/>
<line x1="85.3" y1="321" x2="85.3" y2="323.6" stroke="#231f20" stroke-width="0.65"/>
<line x1="85.8" y1="321" x2="85.8" y2="323.6" stroke="#231f20" stroke-width="0.65"/>
<line x1="86.4" y1="321" x2="86.4" y2="323.6" stroke="#231f20" stroke-width="0.65"/>
<text transform="translate(57.7 331.5) rotate(-48)" font-size="6.6" text-anchor="middle">0</text>
<text transform="translate(67.5 337.2) rotate(-48)" font-size="6.6">10<tspan font-size="4.75" dy="-2.4">4</tspan></text>
<text transform="translate(76.5 337.2) rotate(-48)" font-size="6.6">10<tspan font-size="4.75" dy="-2.4">5</tspan></text>
<text transform="translate(85.5 337.2) rotate(-48)" font-size="6.6">10<tspan font-size="4.75" dy="-2.4">6</tspan></text>
<text transform="translate(130.6 272.6)" font-size="8.5" text-anchor="middle" textLength="27.42" lengthAdjust="spacingAndGlyphs">MV4-11</text>
<path d="M108.3 299.2 L108.3 299.2 118.4 299.2 118.8 299 119.1 298.7 119.5 297.6 119.8 295.3 120.2 291.3 120.5 286.1 120.9 281.3 121.2 278.9 121.6 280.3 121.9 284.6 122.3 289.9 122.6 294.3 123 297.1 123.3 298.4 123.7 299 124 299.1 124.4 299.2 152 299.2 L152.3 299.2 Z" fill="#ee9dab" fill-opacity="0.9"/>
<path d="M108.3 299.2 118.4 299.2 118.8 299 119.1 298.7 119.5 297.6 119.8 295.3 120.2 291.3 120.5 286.1 120.9 281.3 121.2 278.9 121.6 280.3 121.9 284.6 122.3 289.9 122.6 294.3 123 297.1 123.3 298.4 123.7 299 124 299.1 124.4 299.2 152 299.2" fill="none" stroke="#b5304c" stroke-width="0.7"/>
<line x1="108.3" y1="299.2" x2="152.3" y2="299.2" stroke="#b5304c" stroke-width="0.7"/>
<path d="M108.3 310.7 L108.3 310.7 125.1 310.7 125.4 310.5 125.8 310.3 126.1 310.1 126.5 309.9 126.8 309.7 127.2 309.5 127.5 309.1 127.9 308.5 128.2 308 128.6 307.4 128.9 306.8 129.3 306.9 129.6 306.8 130 306.5 130.3 305.8 130.7 305.2 131 304.1 131.4 302.2 131.7 299.4 132.1 296.4 132.4 293.8 132.8 291.8 133.1 290.7 133.5 290.8 133.8 292 134.2 294.1 134.5 296.8 134.9 299.8 135.2 302.6 135.6 305 135.9 306.9 136.3 308.3 136.6 309.3 137 309.9 137.3 310.3 137.7 310.5 138 310.6 138.4 310.7 152 310.7 L152.3 310.7 Z" fill="#bfe0f5" fill-opacity="0.85"/>
<path d="M108.3 310.7 125.1 310.7 125.4 310.5 125.8 310.3 126.1 310.1 126.5 309.9 126.8 309.7 127.2 309.5 127.5 309.1 127.9 308.5 128.2 308 128.6 307.4 128.9 306.8 129.3 306.9 129.6 306.8 130 306.5 130.3 305.8 130.7 305.2 131 304.1 131.4 302.2 131.7 299.4 132.1 296.4 132.4 293.8 132.8 291.8 133.1 290.7 133.5 290.8 133.8 292 134.2 294.1 134.5 296.8 134.9 299.8 135.2 302.6 135.6 305 135.9 306.9 136.3 308.3 136.6 309.3 137 309.9 137.3 310.3 137.7 310.5 138 310.6 138.4 310.7 152 310.7" fill="none" stroke="#42a8d6" stroke-width="0.7"/>
<line x1="108.3" y1="310.7" x2="152.3" y2="310.7" stroke="#42a8d6" stroke-width="0.7"/>
<path d="M108.3 321 L108.3 321 138 321 138.4 320.9 138.7 320.8 139.1 320.4 139.4 319.5 139.8 317.6 140.1 314.5 140.5 310.2 140.8 305.5 141.2 302 141.5 300.9 141.9 302.8 142.2 306.8 142.6 311.5 142.9 315.5 143.3 318.3 143.6 319.8 144 320.6 144.3 320.9 144.7 321 152 321 L152.3 321 Z" fill="#f9d19c" fill-opacity="0.9"/>
<path d="M108.3 321 138 321 138.4 320.9 138.7 320.8 139.1 320.4 139.4 319.5 139.8 317.6 140.1 314.5 140.5 310.2 140.8 305.5 141.2 302 141.5 300.9 141.9 302.8 142.2 306.8 142.6 311.5 142.9 315.5 143.3 318.3 143.6 319.8 144 320.6 144.3 320.9 144.7 321 152 321" fill="none" stroke="#eca24a" stroke-width="0.7"/>
<text transform="translate(150.5 297) scale(1 0.85)" font-size="6.4" text-anchor="end">271</text>
<text transform="translate(150.5 308.1) scale(1 0.85)" font-size="6.4" text-anchor="end">4660</text>
<text transform="translate(150.5 317.9) scale(1 0.85)" font-size="6.4" text-anchor="end">40997</text>
<rect x="108.3" y="277" width="44" height="44" fill="none" stroke="#231f20" stroke-width="0.9"/>
<line x1="112.1" y1="321" x2="112.1" y2="323.6" stroke="#231f20" stroke-width="0.65"/>
<line x1="113.35" y1="321" x2="113.35" y2="323.6" stroke="#231f20" stroke-width="0.65"/>
<line x1="114.6" y1="321" x2="114.6" y2="323.6" stroke="#231f20" stroke-width="0.65"/>
<line x1="115.85" y1="321" x2="115.85" y2="323.6" stroke="#231f20" stroke-width="0.65"/>
<line x1="117.1" y1="321" x2="117.1" y2="323.6" stroke="#231f20" stroke-width="0.65"/>
<line x1="118.35" y1="321" x2="118.35" y2="323.6" stroke="#231f20" stroke-width="0.65"/>
<line x1="119.6" y1="321" x2="119.6" y2="323.6" stroke="#231f20" stroke-width="0.65"/>
<line x1="120.85" y1="321" x2="120.85" y2="323.6" stroke="#231f20" stroke-width="0.65"/>
<line x1="122.1" y1="321" x2="122.1" y2="323.6" stroke="#231f20" stroke-width="0.65"/>
<line x1="123.35" y1="321" x2="123.35" y2="323.6" stroke="#231f20" stroke-width="0.65"/>
<line x1="124.6" y1="321" x2="124.6" y2="323.6" stroke="#231f20" stroke-width="0.65"/>
<line x1="125.85" y1="321" x2="125.85" y2="323.6" stroke="#231f20" stroke-width="0.65"/>
<line x1="127.1" y1="321" x2="127.1" y2="323.6" stroke="#231f20" stroke-width="0.65"/>
<line x1="128.35" y1="321" x2="128.35" y2="323.6" stroke="#231f20" stroke-width="0.65"/>
<line x1="129.6" y1="321" x2="129.6" y2="323.6" stroke="#231f20" stroke-width="0.65"/>
<line x1="130.4" y1="321" x2="130.4" y2="323.6" stroke="#231f20" stroke-width="0.65"/>
<line x1="133.4" y1="321" x2="133.4" y2="323.6" stroke="#231f20" stroke-width="0.65"/>
<line x1="135" y1="321" x2="135" y2="323.6" stroke="#231f20" stroke-width="0.65"/>
<line x1="136.1" y1="321" x2="136.1" y2="323.6" stroke="#231f20" stroke-width="0.65"/>
<line x1="136.9" y1="321" x2="136.9" y2="323.6" stroke="#231f20" stroke-width="0.65"/>
<line x1="137.6" y1="321" x2="137.6" y2="323.6" stroke="#231f20" stroke-width="0.65"/>
<line x1="138.2" y1="321" x2="138.2" y2="323.6" stroke="#231f20" stroke-width="0.65"/>
<line x1="138.7" y1="321" x2="138.7" y2="323.6" stroke="#231f20" stroke-width="0.65"/>
<line x1="139.2" y1="321" x2="139.2" y2="323.6" stroke="#231f20" stroke-width="0.65"/>
<line x1="139.9" y1="321" x2="139.9" y2="323.6" stroke="#231f20" stroke-width="0.65"/>
<line x1="142.9" y1="321" x2="142.9" y2="323.6" stroke="#231f20" stroke-width="0.65"/>
<line x1="144.5" y1="321" x2="144.5" y2="323.6" stroke="#231f20" stroke-width="0.65"/>
<line x1="145.6" y1="321" x2="145.6" y2="323.6" stroke="#231f20" stroke-width="0.65"/>
<line x1="146.4" y1="321" x2="146.4" y2="323.6" stroke="#231f20" stroke-width="0.65"/>
<line x1="147.1" y1="321" x2="147.1" y2="323.6" stroke="#231f20" stroke-width="0.65"/>
<line x1="147.7" y1="321" x2="147.7" y2="323.6" stroke="#231f20" stroke-width="0.65"/>
<line x1="148.2" y1="321" x2="148.2" y2="323.6" stroke="#231f20" stroke-width="0.65"/>
<line x1="148.7" y1="321" x2="148.7" y2="323.6" stroke="#231f20" stroke-width="0.65"/>
<line x1="149.3" y1="321" x2="149.3" y2="323.6" stroke="#231f20" stroke-width="0.65"/>
<text transform="translate(120.6 331.5) rotate(-48)" font-size="6.6" text-anchor="middle">0</text>
<text transform="translate(130.4 337.2) rotate(-48)" font-size="6.6">10<tspan font-size="4.75" dy="-2.4">4</tspan></text>
<text transform="translate(139.4 337.2) rotate(-48)" font-size="6.6">10<tspan font-size="4.75" dy="-2.4">5</tspan></text>
<text transform="translate(148.4 337.2) rotate(-48)" font-size="6.6">10<tspan font-size="4.75" dy="-2.4">6</tspan></text>
<text transform="translate(193.6 272.6)" font-size="8.5" text-anchor="middle" textLength="37.78" lengthAdjust="spacingAndGlyphs">OCI-AML2</text>
<path d="M171.3 299.2 L171.3 299.2 181.8 299.2 182.1 299.1 182.5 299 182.8 298.6 183.2 297.8 183.5 296.1 183.9 293.3 184.2 289.3 184.6 284.8 184.9 280.9 185.3 278.8 185.6 279.4 186 282.4 186.3 286.8 186.7 291.2 187 294.7 187.4 297 187.7 298.2 188.1 298.8 188.4 299.1 188.8 299.2 215 299.2 L215.3 299.2 Z" fill="#ee9dab" fill-opacity="0.9"/>
<path d="M171.3 299.2 181.8 299.2 182.1 299.1 182.5 299 182.8 298.6 183.2 297.8 183.5 296.1 183.9 293.3 184.2 289.3 184.6 284.8 184.9 280.9 185.3 278.8 185.6 279.4 186 282.4 186.3 286.8 186.7 291.2 187 294.7 187.4 297 187.7 298.2 188.1 298.8 188.4 299.1 188.8 299.2 215 299.2" fill="none" stroke="#b5304c" stroke-width="0.7"/>
<line x1="171.3" y1="299.2" x2="215.3" y2="299.2" stroke="#b5304c" stroke-width="0.7"/>
<path d="M171.3 310.7 L171.3 310.7 182.1 310.7 182.5 310.6 182.8 310.5 183.2 310.2 183.5 309.6 183.9 308.6 184.2 307 184.6 304.9 184.9 302.7 185.3 300.9 185.6 300.1 186 300.5 186.3 302.1 186.7 304.2 187 306.4 187.4 308.2 187.7 309.4 188.1 310.1 188.4 310.5 188.8 310.6 189.1 310.7 215 310.7 L215.3 310.7 Z" fill="#bfe0f5" fill-opacity="0.85"/>
<path d="M171.3 310.7 182.1 310.7 182.5 310.6 182.8 310.5 183.2 310.2 183.5 309.6 183.9 308.6 184.2 307 184.6 304.9 184.9 302.7 185.3 300.9 185.6 300.1 186 300.5 186.3 302.1 186.7 304.2 187 306.4 187.4 308.2 187.7 309.4 188.1 310.1 188.4 310.5 188.8 310.6 189.1 310.7 215 310.7" fill="none" stroke="#42a8d6" stroke-width="0.7"/>
<line x1="171.3" y1="310.7" x2="215.3" y2="310.7" stroke="#42a8d6" stroke-width="0.7"/>
<path d="M171.3 321 L171.3 321 182.1 321 182.5 320 182.8 318.4 183.2 316.7 183.5 315 183.9 313.2 184.2 310.8 184.6 308.5 184.9 306.1 185.3 303.8 185.6 303.4 186 303 186.3 304 186.7 304.9 187 305.9 187.4 306.8 187.7 307.3 188.1 307.8 188.4 308.3 188.8 308.8 189.1 309.3 189.5 309.8 189.8 310 190.2 310.1 190.5 310.2 190.9 310.3 191.2 310.4 191.6 310.5 191.9 310.6 192.3 310.7 192.6 310.8 193 310.8 193.3 310.9 194 310.9 194.4 311 194.7 311.5 195.1 312.1 195.4 312.7 195.8 313.2 196.1 313.8 196.5 314.4 196.8 315 197.2 315.7 197.5 316.4 197.9 317.2 198.2 317.9 198.6 318.7 198.9 319.4 199.3 320.2 199.6 320.9 200 321 215 321 L215.3 321 Z" fill="#f9d19c" fill-opacity="0.9"/>
<path d="M171.3 321 182.1 321 182.5 320 182.8 318.4 183.2 316.7 183.5 315 183.9 313.2 184.2 310.8 184.6 308.5 184.9 306.1 185.3 303.8 185.6 303.4 186 303 186.3 304 186.7 304.9 187 305.9 187.4 306.8 187.7 307.3 188.1 307.8 188.4 308.3 188.8 308.8 189.1 309.3 189.5 309.8 189.8 310 190.2 310.1 190.5 310.2 190.9 310.3 191.2 310.4 191.6 310.5 191.9 310.6 192.3 310.7 192.6 310.8 193 310.8 193.3 310.9 194 310.9 194.4 311 194.7 311.5 195.1 312.1 195.4 312.7 195.8 313.2 196.1 313.8 196.5 314.4 196.8 315 197.2 315.7 197.5 316.4 197.9 317.2 198.2 317.9 198.6 318.7 198.9 319.4 199.3 320.2 199.6 320.9 200 321 215 321" fill="none" stroke="#eca24a" stroke-width="0.7"/>
<text transform="translate(213.5 297) scale(1 0.85)" font-size="6.4" text-anchor="end">405</text>
<text transform="translate(213.5 308.1) scale(1 0.85)" font-size="6.4" text-anchor="end">398</text>
<text transform="translate(213.5 317.9) scale(1 0.85)" font-size="6.4" text-anchor="end">1160</text>
<rect x="171.3" y="277" width="44" height="44" fill="none" stroke="#231f20" stroke-width="0.9"/>
<line x1="175.1" y1="321" x2="175.1" y2="323.6" stroke="#231f20" stroke-width="0.65"/>
<line x1="176.35" y1="321" x2="176.35" y2="323.6" stroke="#231f20" stroke-width="0.65"/>
<line x1="177.6" y1="321" x2="177.6" y2="323.6" stroke="#231f20" stroke-width="0.65"/>
<line x1="178.85" y1="321" x2="178.85" y2="323.6" stroke="#231f20" stroke-width="0.65"/>
<line x1="180.1" y1="321" x2="180.1" y2="323.6" stroke="#231f20" stroke-width="0.65"/>
<line x1="181.35" y1="321" x2="181.35" y2="323.6" stroke="#231f20" stroke-width="0.65"/>
<line x1="182.6" y1="321" x2="182.6" y2="323.6" stroke="#231f20" stroke-width="0.65"/>
<line x1="183.85" y1="321" x2="183.85" y2="323.6" stroke="#231f20" stroke-width="0.65"/>
<line x1="185.1" y1="321" x2="185.1" y2="323.6" stroke="#231f20" stroke-width="0.65"/>
<line x1="186.35" y1="321" x2="186.35" y2="323.6" stroke="#231f20" stroke-width="0.65"/>
<line x1="187.6" y1="321" x2="187.6" y2="323.6" stroke="#231f20" stroke-width="0.65"/>
<line x1="188.85" y1="321" x2="188.85" y2="323.6" stroke="#231f20" stroke-width="0.65"/>
<line x1="190.1" y1="321" x2="190.1" y2="323.6" stroke="#231f20" stroke-width="0.65"/>
<line x1="191.35" y1="321" x2="191.35" y2="323.6" stroke="#231f20" stroke-width="0.65"/>
<line x1="192.6" y1="321" x2="192.6" y2="323.6" stroke="#231f20" stroke-width="0.65"/>
<line x1="193.4" y1="321" x2="193.4" y2="323.6" stroke="#231f20" stroke-width="0.65"/>
<line x1="196.4" y1="321" x2="196.4" y2="323.6" stroke="#231f20" stroke-width="0.65"/>
<line x1="198" y1="321" x2="198" y2="323.6" stroke="#231f20" stroke-width="0.65"/>
<line x1="199.1" y1="321" x2="199.1" y2="323.6" stroke="#231f20" stroke-width="0.65"/>
<line x1="199.9" y1="321" x2="199.9" y2="323.6" stroke="#231f20" stroke-width="0.65"/>
<line x1="200.6" y1="321" x2="200.6" y2="323.6" stroke="#231f20" stroke-width="0.65"/>
<line x1="201.2" y1="321" x2="201.2" y2="323.6" stroke="#231f20" stroke-width="0.65"/>
<line x1="201.7" y1="321" x2="201.7" y2="323.6" stroke="#231f20" stroke-width="0.65"/>
<line x1="202.2" y1="321" x2="202.2" y2="323.6" stroke="#231f20" stroke-width="0.65"/>
<line x1="202.9" y1="321" x2="202.9" y2="323.6" stroke="#231f20" stroke-width="0.65"/>
<line x1="205.9" y1="321" x2="205.9" y2="323.6" stroke="#231f20" stroke-width="0.65"/>
<line x1="207.5" y1="321" x2="207.5" y2="323.6" stroke="#231f20" stroke-width="0.65"/>
<line x1="208.6" y1="321" x2="208.6" y2="323.6" stroke="#231f20" stroke-width="0.65"/>
<line x1="209.4" y1="321" x2="209.4" y2="323.6" stroke="#231f20" stroke-width="0.65"/>
<line x1="210.1" y1="321" x2="210.1" y2="323.6" stroke="#231f20" stroke-width="0.65"/>
<line x1="210.7" y1="321" x2="210.7" y2="323.6" stroke="#231f20" stroke-width="0.65"/>
<line x1="211.2" y1="321" x2="211.2" y2="323.6" stroke="#231f20" stroke-width="0.65"/>
<line x1="211.7" y1="321" x2="211.7" y2="323.6" stroke="#231f20" stroke-width="0.65"/>
<line x1="212.3" y1="321" x2="212.3" y2="323.6" stroke="#231f20" stroke-width="0.65"/>
<text transform="translate(183.6 331.5) rotate(-48)" font-size="6.6" text-anchor="middle">0</text>
<text transform="translate(193.4 337.2) rotate(-48)" font-size="6.6">10<tspan font-size="4.75" dy="-2.4">4</tspan></text>
<text transform="translate(202.4 337.2) rotate(-48)" font-size="6.6">10<tspan font-size="4.75" dy="-2.4">5</tspan></text>
<text transform="translate(211.4 337.2) rotate(-48)" font-size="6.6">10<tspan font-size="4.75" dy="-2.4">6</tspan></text>
<text transform="translate(257.1 272.6)" font-size="8.5" text-anchor="middle" textLength="37.78" lengthAdjust="spacingAndGlyphs">OCI-AML3</text>
<path d="M234.8 299.2 L234.8 299.2 242.8 299.2 243.2 299.1 243.5 298.6 243.9 297.2 244.2 293.9 244.6 288.6 244.9 282.7 245.3 279.1 245.6 280.2 246 285.1 246.3 291.1 246.7 295.6 247 297.9 247.4 298.9 247.7 299.1 248.1 299.2 278.6 299.2 L278.8 299.2 Z" fill="#ee9dab" fill-opacity="0.9"/>
<path d="M234.8 299.2 242.8 299.2 243.2 299.1 243.5 298.6 243.9 297.2 244.2 293.9 244.6 288.6 244.9 282.7 245.3 279.1 245.6 280.2 246 285.1 246.3 291.1 246.7 295.6 247 297.9 247.4 298.9 247.7 299.1 248.1 299.2 278.6 299.2" fill="none" stroke="#b5304c" stroke-width="0.7"/>
<line x1="234.8" y1="299.2" x2="278.8" y2="299.2" stroke="#b5304c" stroke-width="0.7"/>
<path d="M234.8 310.7 L234.8 310.7 241.8 310.7 242.1 310.6 242.5 310.4 242.8 309.8 243.2 308.6 243.5 306.4 243.9 303.1 244.2 298.9 244.6 294.7 244.9 291.9 245.3 291.3 245.6 293.3 246 297 246.3 301.3 246.7 305.1 247 307.8 247.4 309.4 247.7 310.2 248.1 310.5 248.4 310.6 248.8 310.7 278.6 310.7 L278.8 310.7 Z" fill="#bfe0f5" fill-opacity="0.85"/>
<path d="M234.8 310.7 241.8 310.7 242.1 310.6 242.5 310.4 242.8 309.8 243.2 308.6 243.5 306.4 243.9 303.1 244.2 298.9 244.6 294.7 244.9 291.9 245.3 291.3 245.6 293.3 246 297 246.3 301.3 246.7 305.1 247 307.8 247.4 309.4 247.7 310.2 248.1 310.5 248.4 310.6 248.8 310.7 278.6 310.7" fill="none" stroke="#42a8d6" stroke-width="0.7"/>
<line x1="234.8" y1="310.7" x2="278.8" y2="310.7" stroke="#42a8d6" stroke-width="0.7"/>
<path d="M234.8 321 L234.8 321 242.1 321 242.5 320 242.8 318.2 243.2 316.4 243.5 314.6 243.9 312.8 244.2 311 244.6 309.2 244.9 307.4 245.3 305.6 245.6 303.7 246 303.5 246.3 304.4 246.7 305.4 247 306.9 247.4 308.7 247.7 310.5 248.1 311.4 248.4 312.1 248.8 312.8 249.1 313.5 249.5 314 249.8 314.3 250.2 314.6 250.5 314.8 250.9 315.1 251.2 315.4 251.6 315.7 251.9 315.9 252.3 316 252.6 316.2 253 316.3 253.3 316.4 253.7 316.5 254 316.6 254.4 316.8 254.7 316.9 255.1 317.3 255.4 317.7 255.8 318.1 256.1 318.5 256.5 318.9 256.8 319.3 257.2 319.7 257.5 320.1 257.9 320.5 258.2 320.9 258.6 321 278.6 321 L278.8 321 Z" fill="#f9d19c" fill-opacity="0.9"/>
<path d="M234.8 321 242.1 321 242.5 320 242.8 318.2 243.2 316.4 243.5 314.6 243.9 312.8 244.2 311 244.6 309.2 244.9 307.4 245.3 305.6 245.6 303.7 246 303.5 246.3 304.4 246.7 305.4 247 306.9 247.4 308.7 247.7 310.5 248.1 311.4 248.4 312.1 248.8 312.8 249.1 313.5 249.5 314 249.8 314.3 250.2 314.6 250.5 314.8 250.9 315.1 251.2 315.4 251.6 315.7 251.9 315.9 252.3 316 252.6 316.2 253 316.3 253.3 316.4 253.7 316.5 254 316.6 254.4 316.8 254.7 316.9 255.1 317.3 255.4 317.7 255.8 318.1 256.1 318.5 256.5 318.9 256.8 319.3 257.2 319.7 257.5 320.1 257.9 320.5 258.2 320.9 258.6 321 278.6 321" fill="none" stroke="#eca24a" stroke-width="0.7"/>
<text transform="translate(277 297) scale(1 0.85)" font-size="6.4" text-anchor="end">248</text>
<text transform="translate(277 308.1) scale(1 0.85)" font-size="6.4" text-anchor="end">186</text>
<text transform="translate(277 317.9) scale(1 0.85)" font-size="6.4" text-anchor="end">519</text>
<rect x="234.8" y="277" width="44" height="44" fill="none" stroke="#231f20" stroke-width="0.9"/>
<line x1="238.6" y1="321" x2="238.6" y2="323.6" stroke="#231f20" stroke-width="0.65"/>
<line x1="239.85" y1="321" x2="239.85" y2="323.6" stroke="#231f20" stroke-width="0.65"/>
<line x1="241.1" y1="321" x2="241.1" y2="323.6" stroke="#231f20" stroke-width="0.65"/>
<line x1="242.35" y1="321" x2="242.35" y2="323.6" stroke="#231f20" stroke-width="0.65"/>
<line x1="243.6" y1="321" x2="243.6" y2="323.6" stroke="#231f20" stroke-width="0.65"/>
<line x1="244.85" y1="321" x2="244.85" y2="323.6" stroke="#231f20" stroke-width="0.65"/>
<line x1="246.1" y1="321" x2="246.1" y2="323.6" stroke="#231f20" stroke-width="0.65"/>
<line x1="247.35" y1="321" x2="247.35" y2="323.6" stroke="#231f20" stroke-width="0.65"/>
<line x1="248.6" y1="321" x2="248.6" y2="323.6" stroke="#231f20" stroke-width="0.65"/>
<line x1="249.85" y1="321" x2="249.85" y2="323.6" stroke="#231f20" stroke-width="0.65"/>
<line x1="251.1" y1="321" x2="251.1" y2="323.6" stroke="#231f20" stroke-width="0.65"/>
<line x1="252.35" y1="321" x2="252.35" y2="323.6" stroke="#231f20" stroke-width="0.65"/>
<line x1="253.6" y1="321" x2="253.6" y2="323.6" stroke="#231f20" stroke-width="0.65"/>
<line x1="254.85" y1="321" x2="254.85" y2="323.6" stroke="#231f20" stroke-width="0.65"/>
<line x1="256.1" y1="321" x2="256.1" y2="323.6" stroke="#231f20" stroke-width="0.65"/>
<line x1="256.9" y1="321" x2="256.9" y2="323.6" stroke="#231f20" stroke-width="0.65"/>
<line x1="259.9" y1="321" x2="259.9" y2="323.6" stroke="#231f20" stroke-width="0.65"/>
<line x1="261.5" y1="321" x2="261.5" y2="323.6" stroke="#231f20" stroke-width="0.65"/>
<line x1="262.6" y1="321" x2="262.6" y2="323.6" stroke="#231f20" stroke-width="0.65"/>
<line x1="263.4" y1="321" x2="263.4" y2="323.6" stroke="#231f20" stroke-width="0.65"/>
<line x1="264.1" y1="321" x2="264.1" y2="323.6" stroke="#231f20" stroke-width="0.65"/>
<line x1="264.7" y1="321" x2="264.7" y2="323.6" stroke="#231f20" stroke-width="0.65"/>
<line x1="265.2" y1="321" x2="265.2" y2="323.6" stroke="#231f20" stroke-width="0.65"/>
<line x1="265.7" y1="321" x2="265.7" y2="323.6" stroke="#231f20" stroke-width="0.65"/>
<line x1="266.4" y1="321" x2="266.4" y2="323.6" stroke="#231f20" stroke-width="0.65"/>
<line x1="269.4" y1="321" x2="269.4" y2="323.6" stroke="#231f20" stroke-width="0.65"/>
<line x1="271" y1="321" x2="271" y2="323.6" stroke="#231f20" stroke-width="0.65"/>
<line x1="272.1" y1="321" x2="272.1" y2="323.6" stroke="#231f20" stroke-width="0.65"/>
<line x1="272.9" y1="321" x2="272.9" y2="323.6" stroke="#231f20" stroke-width="0.65"/>
<line x1="273.6" y1="321" x2="273.6" y2="323.6" stroke="#231f20" stroke-width="0.65"/>
<line x1="274.2" y1="321" x2="274.2" y2="323.6" stroke="#231f20" stroke-width="0.65"/>
<line x1="274.7" y1="321" x2="274.7" y2="323.6" stroke="#231f20" stroke-width="0.65"/>
<line x1="275.2" y1="321" x2="275.2" y2="323.6" stroke="#231f20" stroke-width="0.65"/>
<line x1="275.8" y1="321" x2="275.8" y2="323.6" stroke="#231f20" stroke-width="0.65"/>
<text transform="translate(247.1 331.5) rotate(-48)" font-size="6.6" text-anchor="middle">0</text>
<text transform="translate(256.9 337.2) rotate(-48)" font-size="6.6">10<tspan font-size="4.75" dy="-2.4">4</tspan></text>
<text transform="translate(265.9 337.2) rotate(-48)" font-size="6.6">10<tspan font-size="4.75" dy="-2.4">5</tspan></text>
<text transform="translate(274.9 337.2) rotate(-48)" font-size="6.6">10<tspan font-size="4.75" dy="-2.4">6</tspan></text>
<text transform="translate(319.6 272.6)" font-size="8.5" text-anchor="middle" textLength="23.12" lengthAdjust="spacingAndGlyphs">KG-1a</text>
<path d="M297.3 299.2 L297.3 299.2 304.7 299.2 305 299.1 305.4 298.9 305.7 298.1 306.1 296.1 306.4 292 306.8 286.1 307.1 280.9 307.5 279.2 307.8 282.1 308.2 287.9 308.5 293.4 308.9 296.8 309.2 298.5 309.6 299 309.9 299.2 341.1 299.2 L341.3 299.2 Z" fill="#ee9dab" fill-opacity="0.9"/>
<path d="M297.3 299.2 304.7 299.2 305 299.1 305.4 298.9 305.7 298.1 306.1 296.1 306.4 292 306.8 286.1 307.1 280.9 307.5 279.2 307.8 282.1 308.2 287.9 308.5 293.4 308.9 296.8 309.2 298.5 309.6 299 309.9 299.2 341.1 299.2" fill="none" stroke="#b5304c" stroke-width="0.7"/>
<line x1="297.3" y1="299.2" x2="341.3" y2="299.2" stroke="#b5304c" stroke-width="0.7"/>
<path d="M297.3 310.7 L297.3 310.7 305 310.7 305.4 310.5 305.7 309.5 306.1 308.4 306.4 307.1 306.8 305.2 307.1 303.3 307.5 301.3 307.8 299.4 308.2 298.1 308.5 296.8 308.9 295.6 309.2 294.3 309.6 293.5 309.9 292.9 310.3 292.3 310.6 292.1 311 292 311.3 291.8 311.7 291.7 312 291.5 312.4 291.4 312.7 291.2 313.1 291.4 313.4 291.6 313.8 291.7 314.1 291.9 314.5 292.1 314.8 292.3 315.2 292.6 315.5 292.9 315.9 293.2 316.2 293.6 316.6 293.9 316.9 294.2 317.3 294.7 317.6 295.2 318 295.8 318.3 296.4 318.7 296.9 319 297.5 319.4 298.1 319.7 298.7 320.1 299.4 320.4 300.3 320.8 301.1 321.1 302 321.5 302.9 321.8 303.7 322.2 304.6 322.5 305.5 322.9 306.3 323.2 307.4 323.6 308.4 323.9 309.5 324.3 310.5 324.6 310.7 341.1 310.7 L341.3 310.7 Z" fill="#bfe0f5" fill-opacity="0.85"/>
<path d="M297.3 310.7 305 310.7 305.4 310.5 305.7 309.5 306.1 308.4 306.4 307.1 306.8 305.2 307.1 303.3 307.5 301.3 307.8 299.4 308.2 298.1 308.5 296.8 308.9 295.6 309.2 294.3 309.6 293.5 309.9 292.9 310.3 292.3 310.6 292.1 311 292 311.3 291.8 311.7 291.7 312 291.5 312.4 291.4 312.7 291.2 313.1 291.4 313.4 291.6 313.8 291.7 314.1 291.9 314.5 292.1 314.8 292.3 315.2 292.6 315.5 292.9 315.9 293.2 316.2 293.6 316.6 293.9 316.9 294.2 317.3 294.7 317.6 295.2 318 295.8 318.3 296.4 318.7 296.9 319 297.5 319.4 298.1 319.7 298.7 320.1 299.4 320.4 300.3 320.8 301.1 321.1 302 321.5 302.9 321.8 303.7 322.2 304.6 322.5 305.5 322.9 306.3 323.2 307.4 323.6 308.4 323.9 309.5 324.3 310.5 324.6 310.7 341.1 310.7" fill="none" stroke="#42a8d6" stroke-width="0.7"/>
<line x1="297.3" y1="310.7" x2="341.3" y2="310.7" stroke="#42a8d6" stroke-width="0.7"/>
<path d="M297.3 321 L297.3 321 321.5 321 321.8 320.9 322.2 320.8 322.5 320.7 322.9 320.4 323.2 320 323.6 319.3 323.9 318.3 324.3 317 324.6 315.2 325 313 325.3 310.5 325.7 307.9 326 305.5 326.4 303.4 326.7 301.9 327.1 301.3 327.4 301.7 327.8 302.9 328.1 304.8 328.5 307.2 328.8 309.8 329.2 312.3 329.5 314.6 329.9 316.5 330.2 318 330.6 319.1 330.9 319.8 331.3 320.3 331.6 320.6 332 320.8 332.3 320.9 332.7 321 341.1 321 L341.3 321 Z" fill="#f9d19c" fill-opacity="0.9"/>
<path d="M297.3 321 321.5 321 321.8 320.9 322.2 320.8 322.5 320.7 322.9 320.4 323.2 320 323.6 319.3 323.9 318.3 324.3 317 324.6 315.2 325 313 325.3 310.5 325.7 307.9 326 305.5 326.4 303.4 326.7 301.9 327.1 301.3 327.4 301.7 327.8 302.9 328.1 304.8 328.5 307.2 328.8 309.8 329.2 312.3 329.5 314.6 329.9 316.5 330.2 318 330.6 319.1 330.9 319.8 331.3 320.3 331.6 320.6 332 320.8 332.3 320.9 332.7 321 341.1 321" fill="none" stroke="#eca24a" stroke-width="0.7"/>
<text transform="translate(339.5 297) scale(1 0.85)" font-size="6.4" text-anchor="end">282</text>
<text transform="translate(339.5 308.1) scale(1 0.85)" font-size="6.4" text-anchor="end">1488</text>
<text transform="translate(339.5 317.9) scale(1 0.85)" font-size="6.4" text-anchor="end">27095</text>
<rect x="297.3" y="277" width="44" height="44" fill="none" stroke="#231f20" stroke-width="0.9"/>
<line x1="301.1" y1="321" x2="301.1" y2="323.6" stroke="#231f20" stroke-width="0.65"/>
<line x1="302.35" y1="321" x2="302.35" y2="323.6" stroke="#231f20" stroke-width="0.65"/>
<line x1="303.6" y1="321" x2="303.6" y2="323.6" stroke="#231f20" stroke-width="0.65"/>
<line x1="304.85" y1="321" x2="304.85" y2="323.6" stroke="#231f20" stroke-width="0.65"/>
<line x1="306.1" y1="321" x2="306.1" y2="323.6" stroke="#231f20" stroke-width="0.65"/>
<line x1="307.35" y1="321" x2="307.35" y2="323.6" stroke="#231f20" stroke-width="0.65"/>
<line x1="308.6" y1="321" x2="308.6" y2="323.6" stroke="#231f20" stroke-width="0.65"/>
<line x1="309.85" y1="321" x2="309.85" y2="323.6" stroke="#231f20" stroke-width="0.65"/>
<line x1="311.1" y1="321" x2="311.1" y2="323.6" stroke="#231f20" stroke-width="0.65"/>
<line x1="312.35" y1="321" x2="312.35" y2="323.6" stroke="#231f20" stroke-width="0.65"/>
<line x1="313.6" y1="321" x2="313.6" y2="323.6" stroke="#231f20" stroke-width="0.65"/>
<line x1="314.85" y1="321" x2="314.85" y2="323.6" stroke="#231f20" stroke-width="0.65"/>
<line x1="316.1" y1="321" x2="316.1" y2="323.6" stroke="#231f20" stroke-width="0.65"/>
<line x1="317.35" y1="321" x2="317.35" y2="323.6" stroke="#231f20" stroke-width="0.65"/>
<line x1="318.6" y1="321" x2="318.6" y2="323.6" stroke="#231f20" stroke-width="0.65"/>
<line x1="319.4" y1="321" x2="319.4" y2="323.6" stroke="#231f20" stroke-width="0.65"/>
<line x1="322.4" y1="321" x2="322.4" y2="323.6" stroke="#231f20" stroke-width="0.65"/>
<line x1="324" y1="321" x2="324" y2="323.6" stroke="#231f20" stroke-width="0.65"/>
<line x1="325.1" y1="321" x2="325.1" y2="323.6" stroke="#231f20" stroke-width="0.65"/>
<line x1="325.9" y1="321" x2="325.9" y2="323.6" stroke="#231f20" stroke-width="0.65"/>
<line x1="326.6" y1="321" x2="326.6" y2="323.6" stroke="#231f20" stroke-width="0.65"/>
<line x1="327.2" y1="321" x2="327.2" y2="323.6" stroke="#231f20" stroke-width="0.65"/>
<line x1="327.7" y1="321" x2="327.7" y2="323.6" stroke="#231f20" stroke-width="0.65"/>
<line x1="328.2" y1="321" x2="328.2" y2="323.6" stroke="#231f20" stroke-width="0.65"/>
<line x1="328.9" y1="321" x2="328.9" y2="323.6" stroke="#231f20" stroke-width="0.65"/>
<line x1="331.9" y1="321" x2="331.9" y2="323.6" stroke="#231f20" stroke-width="0.65"/>
<line x1="333.5" y1="321" x2="333.5" y2="323.6" stroke="#231f20" stroke-width="0.65"/>
<line x1="334.6" y1="321" x2="334.6" y2="323.6" stroke="#231f20" stroke-width="0.65"/>
<line x1="335.4" y1="321" x2="335.4" y2="323.6" stroke="#231f20" stroke-width="0.65"/>
<line x1="336.1" y1="321" x2="336.1" y2="323.6" stroke="#231f20" stroke-width="0.65"/>
<line x1="336.7" y1="321" x2="336.7" y2="323.6" stroke="#231f20" stroke-width="0.65"/>
<line x1="337.2" y1="321" x2="337.2" y2="323.6" stroke="#231f20" stroke-width="0.65"/>
<line x1="337.7" y1="321" x2="337.7" y2="323.6" stroke="#231f20" stroke-width="0.65"/>
<line x1="338.3" y1="321" x2="338.3" y2="323.6" stroke="#231f20" stroke-width="0.65"/>
<text transform="translate(309.6 331.5) rotate(-48)" font-size="6.6" text-anchor="middle">0</text>
<text transform="translate(319.4 337.2) rotate(-48)" font-size="6.6">10<tspan font-size="4.75" dy="-2.4">4</tspan></text>
<text transform="translate(328.4 337.2) rotate(-48)" font-size="6.6">10<tspan font-size="4.75" dy="-2.4">5</tspan></text>
<text transform="translate(337.4 337.2) rotate(-48)" font-size="6.6">10<tspan font-size="4.75" dy="-2.4">6</tspan></text>
<text transform="translate(42.2 298)" font-size="5.9" text-anchor="end">FMO</text>
<text transform="translate(42.6 308.8)" font-size="5.8" text-anchor="end">– rTNFα</text>
<text transform="translate(42.6 319)" font-size="5.8" text-anchor="end">+ rTNFα</text>
<text transform="translate(67.7 348.9)" font-size="8.5" text-anchor="middle" textLength="26.69" lengthAdjust="spacingAndGlyphs">150549</text>
<path d="M45.4 374.9 L45.4 374.9 53.5 374.9 53.8 374.6 54.2 374.3 54.5 374 54.9 373.7 55.2 373.4 55.6 372.6 55.9 371.1 56.3 369.6 56.6 368.1 57 366.6 57.3 365.1 57.7 363.6 58 362.1 58.4 360.6 58.7 359.1 59.1 357.5 59.4 356 59.8 355.6 60.1 355.2 60.5 355.2 60.8 355.7 61.2 356.1 61.5 357 61.9 358.9 62.2 360.8 62.6 362.7 62.9 364.7 63.3 366.4 63.6 368.2 64 370 64.3 371.8 64.7 373.6 65 374.9 89.1 374.9 L89.4 374.9 Z" fill="#ee9dab" fill-opacity="0.9"/>
<path d="M45.4 374.9 53.5 374.9 53.8 374.6 54.2 374.3 54.5 374 54.9 373.7 55.2 373.4 55.6 372.6 55.9 371.1 56.3 369.6 56.6 368.1 57 366.6 57.3 365.1 57.7 363.6 58 362.1 58.4 360.6 58.7 359.1 59.1 357.5 59.4 356 59.8 355.6 60.1 355.2 60.5 355.2 60.8 355.7 61.2 356.1 61.5 357 61.9 358.9 62.2 360.8 62.6 362.7 62.9 364.7 63.3 366.4 63.6 368.2 64 370 64.3 371.8 64.7 373.6 65 374.9 89.1 374.9" fill="none" stroke="#b5304c" stroke-width="0.7"/>
<line x1="45.4" y1="374.9" x2="89.4" y2="374.9" stroke="#b5304c" stroke-width="0.7"/>
<path d="M45.4 386.4 L45.4 386.4 54.9 386.4 55.2 385.6 55.6 384.6 55.9 383.7 56.3 382.7 56.6 380.9 57 378.5 57.3 376.1 57.7 373.8 58 371.8 58.4 371.1 58.7 370.4 59.1 369.7 59.4 369 59.8 369 60.1 369.1 60.5 369.1 60.8 369.2 61.2 369.2 61.5 369.3 61.9 369.3 62.2 369.4 62.6 369.4 62.9 369.3 63.3 369.2 63.6 369.1 64 369.1 64.3 369 64.7 368.9 65 368.9 65.4 368.8 65.7 368.7 66.1 368.6 66.4 368.6 66.8 368.5 67.1 368.4 67.8 368.4 68.2 368.5 68.5 368.6 68.8 368.7 69.5 368.7 69.9 368.5 70.2 368.3 70.6 368.1 70.9 368 71.3 368.3 71.6 368.6 72 368.9 72.3 369.1 72.7 369.3 73 369.5 73.4 369.7 73.7 369.9 74.1 371.2 74.4 373.4 74.8 375.5 75.1 377.7 75.5 379.9 75.8 382.5 76.2 385 76.5 386.4 89.1 386.4 L89.4 386.4 Z" fill="#bfe0f5" fill-opacity="0.85"/>
<path d="M45.4 386.4 54.9 386.4 55.2 385.6 55.6 384.6 55.9 383.7 56.3 382.7 56.6 380.9 57 378.5 57.3 376.1 57.7 373.8 58 371.8 58.4 371.1 58.7 370.4 59.1 369.7 59.4 369 59.8 369 60.1 369.1 60.5 369.1 60.8 369.2 61.2 369.2 61.5 369.3 61.9 369.3 62.2 369.4 62.6 369.4 62.9 369.3 63.3 369.2 63.6 369.1 64 369.1 64.3 369 64.7 368.9 65 368.9 65.4 368.8 65.7 368.7 66.1 368.6 66.4 368.6 66.8 368.5 67.1 368.4 67.8 368.4 68.2 368.5 68.5 368.6 68.8 368.7 69.5 368.7 69.9 368.5 70.2 368.3 70.6 368.1 70.9 368 71.3 368.3 71.6 368.6 72 368.9 72.3 369.1 72.7 369.3 73 369.5 73.4 369.7 73.7 369.9 74.1 371.2 74.4 373.4 74.8 375.5 75.1 377.7 75.5 379.9 75.8 382.5 76.2 385 76.5 386.4 89.1 386.4" fill="none" stroke="#42a8d6" stroke-width="0.7"/>
<line x1="45.4" y1="386.4" x2="89.4" y2="386.4" stroke="#42a8d6" stroke-width="0.7"/>
<path d="M45.4 396.6 L45.4 396.6 57.7 396.6 58 396.5 58.4 396 58.7 395.5 59.1 395 59.4 394.5 59.8 394 60.1 393.5 60.5 393 60.8 392.5 61.2 392 61.5 391.5 61.9 391 62.2 390.4 62.6 389.8 62.9 389.2 63.3 388.5 63.6 387.9 64 387.2 64.3 386.6 64.7 386 65 385.3 65.4 384.7 65.7 384 66.1 383.4 66.4 382.7 66.8 382.1 67.1 381.6 67.5 381.3 67.8 381 68.2 380.7 68.5 380.4 68.8 380.1 69.2 379.8 69.5 379.5 69.9 379.2 70.2 378.9 70.6 379 70.9 379.5 71.3 380 71.6 380.4 72 380.9 72.3 381.4 72.7 381.8 73 382.3 73.4 382.8 73.7 383.2 74.1 383.7 74.4 384.2 74.8 384.7 75.1 385.4 75.5 386.1 75.8 386.8 76.2 387.5 76.5 388.2 76.9 388.9 77.2 389.6 77.6 390.3 77.9 391 78.3 391.7 78.6 392.4 79 392.8 79.3 393.3 79.7 393.7 80 394.2 80.4 394.6 80.7 395.1 81.1 395.6 81.4 396 81.8 396.5 82.1 396.6 89.1 396.6 L89.4 396.6 Z" fill="#f9d19c" fill-opacity="0.9"/>
<path d="M45.4 396.6 57.7 396.6 58 396.5 58.4 396 58.7 395.5 59.1 395 59.4 394.5 59.8 394 60.1 393.5 60.5 393 60.8 392.5 61.2 392 61.5 391.5 61.9 391 62.2 390.4 62.6 389.8 62.9 389.2 63.3 388.5 63.6 387.9 64 387.2 64.3 386.6 64.7 386 65 385.3 65.4 384.7 65.7 384 66.1 383.4 66.4 382.7 66.8 382.1 67.1 381.6 67.5 381.3 67.8 381 68.2 380.7 68.5 380.4 68.8 380.1 69.2 379.8 69.5 379.5 69.9 379.2 70.2 378.9 70.6 379 70.9 379.5 71.3 380 71.6 380.4 72 380.9 72.3 381.4 72.7 381.8 73 382.3 73.4 382.8 73.7 383.2 74.1 383.7 74.4 384.2 74.8 384.7 75.1 385.4 75.5 386.1 75.8 386.8 76.2 387.5 76.5 388.2 76.9 388.9 77.2 389.6 77.6 390.3 77.9 391 78.3 391.7 78.6 392.4 79 392.8 79.3 393.3 79.7 393.7 80 394.2 80.4 394.6 80.7 395.1 81.1 395.6 81.4 396 81.8 396.5 82.1 396.6 89.1 396.6" fill="none" stroke="#eca24a" stroke-width="0.7"/>
<text transform="translate(87.6 372.7) scale(1 0.85)" font-size="6.4" text-anchor="end">526</text>
<text transform="translate(87.6 383.8) scale(1 0.85)" font-size="6.4" text-anchor="end">2023</text>
<text transform="translate(87.6 393.6) scale(1 0.85)" font-size="6.4" text-anchor="end">4415</text>
<rect x="45.4" y="352.7" width="44" height="43.9" fill="none" stroke="#231f20" stroke-width="0.9"/>
<line x1="49.2" y1="396.6" x2="49.2" y2="399.2" stroke="#231f20" stroke-width="0.65"/>
<line x1="50.45" y1="396.6" x2="50.45" y2="399.2" stroke="#231f20" stroke-width="0.65"/>
<line x1="51.7" y1="396.6" x2="51.7" y2="399.2" stroke="#231f20" stroke-width="0.65"/>
<line x1="52.95" y1="396.6" x2="52.95" y2="399.2" stroke="#231f20" stroke-width="0.65"/>
<line x1="54.2" y1="396.6" x2="54.2" y2="399.2" stroke="#231f20" stroke-width="0.65"/>
<line x1="55.45" y1="396.6" x2="55.45" y2="399.2" stroke="#231f20" stroke-width="0.65"/>
<line x1="56.7" y1="396.6" x2="56.7" y2="399.2" stroke="#231f20" stroke-width="0.65"/>
<line x1="57.95" y1="396.6" x2="57.95" y2="399.2" stroke="#231f20" stroke-width="0.65"/>
<line x1="59.2" y1="396.6" x2="59.2" y2="399.2" stroke="#231f20" stroke-width="0.65"/>
<line x1="60.45" y1="396.6" x2="60.45" y2="399.2" stroke="#231f20" stroke-width="0.65"/>
<line x1="61.7" y1="396.6" x2="61.7" y2="399.2" stroke="#231f20" stroke-width="0.65"/>
<line x1="62.95" y1="396.6" x2="62.95" y2="399.2" stroke="#231f20" stroke-width="0.65"/>
<line x1="64.2" y1="396.6" x2="64.2" y2="399.2" stroke="#231f20" stroke-width="0.65"/>
<line x1="65.45" y1="396.6" x2="65.45" y2="399.2" stroke="#231f20" stroke-width="0.65"/>
<line x1="66.7" y1="396.6" x2="66.7" y2="399.2" stroke="#231f20" stroke-width="0.65"/>
<line x1="67.5" y1="396.6" x2="67.5" y2="399.2" stroke="#231f20" stroke-width="0.65"/>
<line x1="70.5" y1="396.6" x2="70.5" y2="399.2" stroke="#231f20" stroke-width="0.65"/>
<line x1="72.1" y1="396.6" x2="72.1" y2="399.2" stroke="#231f20" stroke-width="0.65"/>
<line x1="73.2" y1="396.6" x2="73.2" y2="399.2" stroke="#231f20" stroke-width="0.65"/>
<line x1="74" y1="396.6" x2="74" y2="399.2" stroke="#231f20" stroke-width="0.65"/>
<line x1="74.7" y1="396.6" x2="74.7" y2="399.2" stroke="#231f20" stroke-width="0.65"/>
<line x1="75.3" y1="396.6" x2="75.3" y2="399.2" stroke="#231f20" stroke-width="0.65"/>
<line x1="75.8" y1="396.6" x2="75.8" y2="399.2" stroke="#231f20" stroke-width="0.65"/>
<line x1="76.3" y1="396.6" x2="76.3" y2="399.2" stroke="#231f20" stroke-width="0.65"/>
<line x1="77" y1="396.6" x2="77" y2="399.2" stroke="#231f20" stroke-width="0.65"/>
<line x1="80" y1="396.6" x2="80" y2="399.2" stroke="#231f20" stroke-width="0.65"/>
<line x1="81.6" y1="396.6" x2="81.6" y2="399.2" stroke="#231f20" stroke-width="0.65"/>
<line x1="82.7" y1="396.6" x2="82.7" y2="399.2" stroke="#231f20" stroke-width="0.65"/>
<line x1="83.5" y1="396.6" x2="83.5" y2="399.2" stroke="#231f20" stroke-width="0.65"/>
<line x1="84.2" y1="396.6" x2="84.2" y2="399.2" stroke="#231f20" stroke-width="0.65"/>
<line x1="84.8" y1="396.6" x2="84.8" y2="399.2" stroke="#231f20" stroke-width="0.65"/>
<line x1="85.3" y1="396.6" x2="85.3" y2="399.2" stroke="#231f20" stroke-width="0.65"/>
<line x1="85.8" y1="396.6" x2="85.8" y2="399.2" stroke="#231f20" stroke-width="0.65"/>
<line x1="86.4" y1="396.6" x2="86.4" y2="399.2" stroke="#231f20" stroke-width="0.65"/>
<text transform="translate(57.7 407.1) rotate(-48)" font-size="6.6" text-anchor="middle">0</text>
<text transform="translate(67.5 412.8) rotate(-48)" font-size="6.6">10<tspan font-size="4.75" dy="-2.4">4</tspan></text>
<text transform="translate(76.5 412.8) rotate(-48)" font-size="6.6">10<tspan font-size="4.75" dy="-2.4">5</tspan></text>
<text transform="translate(85.5 412.8) rotate(-48)" font-size="6.6">10<tspan font-size="4.75" dy="-2.4">6</tspan></text>
<text transform="translate(130.6 348.9)" font-size="8.5" text-anchor="middle" textLength="26.69" lengthAdjust="spacingAndGlyphs">100356</text>
<path d="M108.3 374.9 L108.3 374.9 121.6 374.9 121.9 374.5 122.3 372.5 122.6 366.4 123 358.6 123.3 357.8 123.7 365.2 124 371.9 124.4 374.4 124.7 374.9 152 374.9 L152.3 374.9 Z" fill="#ee9dab" fill-opacity="0.9"/>
<path d="M108.3 374.9 121.6 374.9 121.9 374.5 122.3 372.5 122.6 366.4 123 358.6 123.3 357.8 123.7 365.2 124 371.9 124.4 374.4 124.7 374.9 152 374.9" fill="none" stroke="#b5304c" stroke-width="0.7"/>
<line x1="108.3" y1="374.9" x2="152.3" y2="374.9" stroke="#b5304c" stroke-width="0.7"/>
<path d="M108.3 386.4 L108.3 386.4 125.1 386.4 125.4 386.3 125.8 386.2 126.1 386.1 126.5 385.9 126.8 385.8 127.2 385.6 127.5 385.5 127.9 385.3 128.2 385.2 128.6 384.7 128.9 384.2 129.3 383.7 129.6 383.2 130 382.7 130.3 382.1 130.7 381 131 379.8 131.4 378.6 131.7 377.5 132.1 376.5 132.4 375.6 132.8 374.7 133.1 373.9 133.5 373 133.8 372.1 134.2 371.3 134.5 370.8 134.9 370.4 135.2 370 135.6 369.6 135.9 369.3 136.3 368.9 136.6 368.5 137 368.2 137.3 368.3 137.7 369.2 138 370.1 138.4 371 138.7 371.9 139.1 374.5 139.4 377.4 139.8 380.2 140.1 382.4 140.5 384.6 140.8 386.4 152 386.4 L152.3 386.4 Z" fill="#bfe0f5" fill-opacity="0.85"/>
<path d="M108.3 386.4 125.1 386.4 125.4 386.3 125.8 386.2 126.1 386.1 126.5 385.9 126.8 385.8 127.2 385.6 127.5 385.5 127.9 385.3 128.2 385.2 128.6 384.7 128.9 384.2 129.3 383.7 129.6 383.2 130 382.7 130.3 382.1 130.7 381 131 379.8 131.4 378.6 131.7 377.5 132.1 376.5 132.4 375.6 132.8 374.7 133.1 373.9 133.5 373 133.8 372.1 134.2 371.3 134.5 370.8 134.9 370.4 135.2 370 135.6 369.6 135.9 369.3 136.3 368.9 136.6 368.5 137 368.2 137.3 368.3 137.7 369.2 138 370.1 138.4 371 138.7 371.9 139.1 374.5 139.4 377.4 139.8 380.2 140.1 382.4 140.5 384.6 140.8 386.4 152 386.4" fill="none" stroke="#42a8d6" stroke-width="0.7"/>
<line x1="108.3" y1="386.4" x2="152.3" y2="386.4" stroke="#42a8d6" stroke-width="0.7"/>
<path d="M108.3 396.6 L108.3 396.6 132.8 396.6 133.1 395.7 133.5 394.9 133.8 394 134.2 393.2 134.5 392.3 134.9 391.4 135.2 390.6 135.6 389.8 135.9 389.1 136.3 388.4 136.6 387.7 137 387 137.3 386.2 137.7 385.5 138 384.8 138.4 384.1 138.7 383.6 139.1 383 139.4 382.5 139.8 381.9 140.1 381.8 140.5 382.2 140.8 382.6 141.2 383 141.5 383.4 141.9 383.8 142.2 384.2 142.6 385.2 142.9 386.3 143.3 387.4 143.6 388.5 144 389.5 144.3 390.6 144.7 391.7 145 392.8 145.4 393.8 145.7 394.9 146.1 396 146.4 396.6 152 396.6 L152.3 396.6 Z" fill="#f9d19c" fill-opacity="0.9"/>
<path d="M108.3 396.6 132.8 396.6 133.1 395.7 133.5 394.9 133.8 394 134.2 393.2 134.5 392.3 134.9 391.4 135.2 390.6 135.6 389.8 135.9 389.1 136.3 388.4 136.6 387.7 137 387 137.3 386.2 137.7 385.5 138 384.8 138.4 384.1 138.7 383.6 139.1 383 139.4 382.5 139.8 381.9 140.1 381.8 140.5 382.2 140.8 382.6 141.2 383 141.5 383.4 141.9 383.8 142.2 384.2 142.6 385.2 142.9 386.3 143.3 387.4 143.6 388.5 144 389.5 144.3 390.6 144.7 391.7 145 392.8 145.4 393.8 145.7 394.9 146.1 396 146.4 396.6 152 396.6" fill="none" stroke="#eca24a" stroke-width="0.7"/>
<text transform="translate(150.5 372.7) scale(1 0.85)" font-size="6.4" text-anchor="end">358</text>
<text transform="translate(150.5 383.8) scale(1 0.85)" font-size="6.4" text-anchor="end">51347</text>
<text transform="translate(150.5 393.6) scale(1 0.85)" font-size="6.4" text-anchor="end">96406</text>
<rect x="108.3" y="352.7" width="44" height="43.9" fill="none" stroke="#231f20" stroke-width="0.9"/>
<line x1="112.1" y1="396.6" x2="112.1" y2="399.2" stroke="#231f20" stroke-width="0.65"/>
<line x1="113.35" y1="396.6" x2="113.35" y2="399.2" stroke="#231f20" stroke-width="0.65"/>
<line x1="114.6" y1="396.6" x2="114.6" y2="399.2" stroke="#231f20" stroke-width="0.65"/>
<line x1="115.85" y1="396.6" x2="115.85" y2="399.2" stroke="#231f20" stroke-width="0.65"/>
<line x1="117.1" y1="396.6" x2="117.1" y2="399.2" stroke="#231f20" stroke-width="0.65"/>
<line x1="118.35" y1="396.6" x2="118.35" y2="399.2" stroke="#231f20" stroke-width="0.65"/>
<line x1="119.6" y1="396.6" x2="119.6" y2="399.2" stroke="#231f20" stroke-width="0.65"/>
<line x1="120.85" y1="396.6" x2="120.85" y2="399.2" stroke="#231f20" stroke-width="0.65"/>
<line x1="122.1" y1="396.6" x2="122.1" y2="399.2" stroke="#231f20" stroke-width="0.65"/>
<line x1="123.35" y1="396.6" x2="123.35" y2="399.2" stroke="#231f20" stroke-width="0.65"/>
<line x1="124.6" y1="396.6" x2="124.6" y2="399.2" stroke="#231f20" stroke-width="0.65"/>
<line x1="125.85" y1="396.6" x2="125.85" y2="399.2" stroke="#231f20" stroke-width="0.65"/>
<line x1="127.1" y1="396.6" x2="127.1" y2="399.2" stroke="#231f20" stroke-width="0.65"/>
<line x1="128.35" y1="396.6" x2="128.35" y2="399.2" stroke="#231f20" stroke-width="0.65"/>
<line x1="129.6" y1="396.6" x2="129.6" y2="399.2" stroke="#231f20" stroke-width="0.65"/>
<line x1="130.4" y1="396.6" x2="130.4" y2="399.2" stroke="#231f20" stroke-width="0.65"/>
<line x1="133.4" y1="396.6" x2="133.4" y2="399.2" stroke="#231f20" stroke-width="0.65"/>
<line x1="135" y1="396.6" x2="135" y2="399.2" stroke="#231f20" stroke-width="0.65"/>
<line x1="136.1" y1="396.6" x2="136.1" y2="399.2" stroke="#231f20" stroke-width="0.65"/>
<line x1="136.9" y1="396.6" x2="136.9" y2="399.2" stroke="#231f20" stroke-width="0.65"/>
<line x1="137.6" y1="396.6" x2="137.6" y2="399.2" stroke="#231f20" stroke-width="0.65"/>
<line x1="138.2" y1="396.6" x2="138.2" y2="399.2" stroke="#231f20" stroke-width="0.65"/>
<line x1="138.7" y1="396.6" x2="138.7" y2="399.2" stroke="#231f20" stroke-width="0.65"/>
<line x1="139.2" y1="396.6" x2="139.2" y2="399.2" stroke="#231f20" stroke-width="0.65"/>
<line x1="139.9" y1="396.6" x2="139.9" y2="399.2" stroke="#231f20" stroke-width="0.65"/>
<line x1="142.9" y1="396.6" x2="142.9" y2="399.2" stroke="#231f20" stroke-width="0.65"/>
<line x1="144.5" y1="396.6" x2="144.5" y2="399.2" stroke="#231f20" stroke-width="0.65"/>
<line x1="145.6" y1="396.6" x2="145.6" y2="399.2" stroke="#231f20" stroke-width="0.65"/>
<line x1="146.4" y1="396.6" x2="146.4" y2="399.2" stroke="#231f20" stroke-width="0.65"/>
<line x1="147.1" y1="396.6" x2="147.1" y2="399.2" stroke="#231f20" stroke-width="0.65"/>
<line x1="147.7" y1="396.6" x2="147.7" y2="399.2" stroke="#231f20" stroke-width="0.65"/>
<line x1="148.2" y1="396.6" x2="148.2" y2="399.2" stroke="#231f20" stroke-width="0.65"/>
<line x1="148.7" y1="396.6" x2="148.7" y2="399.2" stroke="#231f20" stroke-width="0.65"/>
<line x1="149.3" y1="396.6" x2="149.3" y2="399.2" stroke="#231f20" stroke-width="0.65"/>
<text transform="translate(120.6 407.1) rotate(-48)" font-size="6.6" text-anchor="middle">0</text>
<text transform="translate(130.4 412.8) rotate(-48)" font-size="6.6">10<tspan font-size="4.75" dy="-2.4">4</tspan></text>
<text transform="translate(139.4 412.8) rotate(-48)" font-size="6.6">10<tspan font-size="4.75" dy="-2.4">5</tspan></text>
<text transform="translate(148.4 412.8) rotate(-48)" font-size="6.6">10<tspan font-size="4.75" dy="-2.4">6</tspan></text>
<text transform="translate(193.6 348.9)" font-size="8.5" text-anchor="middle" textLength="26.69" lengthAdjust="spacingAndGlyphs">130794</text>
<path d="M171.3 374.9 L171.3 374.9 182.8 374.9 183.2 374.3 183.5 371.2 183.9 363.2 184.2 356.6 184.6 360.6 184.9 369.3 185.3 373.8 185.6 374.8 186 374.9 215 374.9 L215.3 374.9 Z" fill="#ee9dab" fill-opacity="0.9"/>
<path d="M171.3 374.9 182.8 374.9 183.2 374.3 183.5 371.2 183.9 363.2 184.2 356.6 184.6 360.6 184.9 369.3 185.3 373.8 185.6 374.8 186 374.9 215 374.9" fill="none" stroke="#b5304c" stroke-width="0.7"/>
<line x1="171.3" y1="374.9" x2="215.3" y2="374.9" stroke="#b5304c" stroke-width="0.7"/>
<path d="M171.3 386.4 L171.3 386.4 182.5 386.4 182.8 386.2 183.2 385.3 183.5 380.9 183.9 373.8 184.2 368.3 184.6 370 184.9 375 185.3 378.6 185.6 379.9 186 380.2 186.3 380.3 186.7 380.7 187 381.2 187.4 381.6 187.7 382 188.1 382.5 188.4 382.8 188.8 383 189.1 383.2 189.5 383.4 189.8 383.7 190.2 383.9 190.5 384 190.9 384 191.2 384.1 191.6 384.1 191.9 384.2 192.3 384.3 193 384.3 193.3 384.2 193.7 384.1 194 384 194.4 383.8 194.7 383.7 195.1 383.6 195.4 383.4 195.8 383 196.1 382.6 196.5 382.2 196.8 381.8 197.2 381.3 197.5 380.9 197.9 380.6 198.2 380.2 198.6 379.8 198.9 379.4 199.3 379 199.6 378.7 200 379.1 200.3 379.6 200.7 380.1 201 381.3 201.4 382.7 201.7 384.1 202.1 385.6 202.4 386.4 215 386.4 L215.3 386.4 Z" fill="#bfe0f5" fill-opacity="0.85"/>
<path d="M171.3 386.4 182.5 386.4 182.8 386.2 183.2 385.3 183.5 380.9 183.9 373.8 184.2 368.3 184.6 370 184.9 375 185.3 378.6 185.6 379.9 186 380.2 186.3 380.3 186.7 380.7 187 381.2 187.4 381.6 187.7 382 188.1 382.5 188.4 382.8 188.8 383 189.1 383.2 189.5 383.4 189.8 383.7 190.2 383.9 190.5 384 190.9 384 191.2 384.1 191.6 384.1 191.9 384.2 192.3 384.3 193 384.3 193.3 384.2 193.7 384.1 194 384 194.4 383.8 194.7 383.7 195.1 383.6 195.4 383.4 195.8 383 196.1 382.6 196.5 382.2 196.8 381.8 197.2 381.3 197.5 380.9 197.9 380.6 198.2 380.2 198.6 379.8 198.9 379.4 199.3 379 199.6 378.7 200 379.1 200.3 379.6 200.7 380.1 201 381.3 201.4 382.7 201.7 384.1 202.1 385.6 202.4 386.4 215 386.4" fill="none" stroke="#42a8d6" stroke-width="0.7"/>
<line x1="171.3" y1="386.4" x2="215.3" y2="386.4" stroke="#42a8d6" stroke-width="0.7"/>
<path d="M171.3 396.6 L171.3 396.6 181.4 396.6 181.8 396.5 182.1 396.4 182.5 396 182.8 395.4 183.2 394.3 183.5 392.8 183.9 391.1 184.2 389.6 184.6 388.6 184.9 388.5 185.3 389.4 185.6 390.9 186 392.6 186.3 394.1 186.7 395.3 187 395.9 187.4 396.3 187.7 396.5 188.1 396.6 189.1 396.6 189.5 396.5 189.8 396.4 190.2 396.3 190.5 396.2 190.9 396.1 191.2 395.9 191.6 395.8 191.9 395.7 192.3 395.6 192.6 395 193 394.4 193.3 393.8 193.7 393.2 194 392.6 194.4 392 194.7 391.4 195.1 390.8 195.4 390 195.8 389 196.1 388 196.5 387 196.8 386 197.2 385 197.5 384 197.9 383 198.2 382.1 198.6 381.2 198.9 380.3 199.3 379.4 199.6 378.5 200 379.1 200.3 380.1 200.7 381 201 383.4 201.4 386.4 201.7 389.5 202.1 392.5 202.4 394.5 202.8 396.6 215 396.6 L215.3 396.6 Z" fill="#f9d19c" fill-opacity="0.9"/>
<path d="M171.3 396.6 181.4 396.6 181.8 396.5 182.1 396.4 182.5 396 182.8 395.4 183.2 394.3 183.5 392.8 183.9 391.1 184.2 389.6 184.6 388.6 184.9 388.5 185.3 389.4 185.6 390.9 186 392.6 186.3 394.1 186.7 395.3 187 395.9 187.4 396.3 187.7 396.5 188.1 396.6 189.1 396.6 189.5 396.5 189.8 396.4 190.2 396.3 190.5 396.2 190.9 396.1 191.2 395.9 191.6 395.8 191.9 395.7 192.3 395.6 192.6 395 193 394.4 193.3 393.8 193.7 393.2 194 392.6 194.4 392 194.7 391.4 195.1 390.8 195.4 390 195.8 389 196.1 388 196.5 387 196.8 386 197.2 385 197.5 384 197.9 383 198.2 382.1 198.6 381.2 198.9 380.3 199.3 379.4 199.6 378.5 200 379.1 200.3 380.1 200.7 381 201 383.4 201.4 386.4 201.7 389.5 202.1 392.5 202.4 394.5 202.8 396.6 215 396.6" fill="none" stroke="#eca24a" stroke-width="0.7"/>
<text transform="translate(213.5 372.7) scale(1 0.85)" font-size="6.4" text-anchor="end">134</text>
<text transform="translate(213.5 383.8) scale(1 0.85)" font-size="6.4" text-anchor="end">1570</text>
<text transform="translate(213.5 393.6) scale(1 0.85)" font-size="6.4" text-anchor="end">12964</text>
<rect x="171.3" y="352.7" width="44" height="43.9" fill="none" stroke="#231f20" stroke-width="0.9"/>
<line x1="175.1" y1="396.6" x2="175.1" y2="399.2" stroke="#231f20" stroke-width="0.65"/>
<line x1="176.35" y1="396.6" x2="176.35" y2="399.2" stroke="#231f20" stroke-width="0.65"/>
<line x1="177.6" y1="396.6" x2="177.6" y2="399.2" stroke="#231f20" stroke-width="0.65"/>
<line x1="178.85" y1="396.6" x2="178.85" y2="399.2" stroke="#231f20" stroke-width="0.65"/>
<line x1="180.1" y1="396.6" x2="180.1" y2="399.2" stroke="#231f20" stroke-width="0.65"/>
<line x1="181.35" y1="396.6" x2="181.35" y2="399.2" stroke="#231f20" stroke-width="0.65"/>
<line x1="182.6" y1="396.6" x2="182.6" y2="399.2" stroke="#231f20" stroke-width="0.65"/>
<line x1="183.85" y1="396.6" x2="183.85" y2="399.2" stroke="#231f20" stroke-width="0.65"/>
<line x1="185.1" y1="396.6" x2="185.1" y2="399.2" stroke="#231f20" stroke-width="0.65"/>
<line x1="186.35" y1="396.6" x2="186.35" y2="399.2" stroke="#231f20" stroke-width="0.65"/>
<line x1="187.6" y1="396.6" x2="187.6" y2="399.2" stroke="#231f20" stroke-width="0.65"/>
<line x1="188.85" y1="396.6" x2="188.85" y2="399.2" stroke="#231f20" stroke-width="0.65"/>
<line x1="190.1" y1="396.6" x2="190.1" y2="399.2" stroke="#231f20" stroke-width="0.65"/>
<line x1="191.35" y1="396.6" x2="191.35" y2="399.2" stroke="#231f20" stroke-width="0.65"/>
<line x1="192.6" y1="396.6" x2="192.6" y2="399.2" stroke="#231f20" stroke-width="0.65"/>
<line x1="193.4" y1="396.6" x2="193.4" y2="399.2" stroke="#231f20" stroke-width="0.65"/>
<line x1="196.4" y1="396.6" x2="196.4" y2="399.2" stroke="#231f20" stroke-width="0.65"/>
<line x1="198" y1="396.6" x2="198" y2="399.2" stroke="#231f20" stroke-width="0.65"/>
<line x1="199.1" y1="396.6" x2="199.1" y2="399.2" stroke="#231f20" stroke-width="0.65"/>
<line x1="199.9" y1="396.6" x2="199.9" y2="399.2" stroke="#231f20" stroke-width="0.65"/>
<line x1="200.6" y1="396.6" x2="200.6" y2="399.2" stroke="#231f20" stroke-width="0.65"/>
<line x1="201.2" y1="396.6" x2="201.2" y2="399.2" stroke="#231f20" stroke-width="0.65"/>
<line x1="201.7" y1="396.6" x2="201.7" y2="399.2" stroke="#231f20" stroke-width="0.65"/>
<line x1="202.2" y1="396.6" x2="202.2" y2="399.2" stroke="#231f20" stroke-width="0.65"/>
<line x1="202.9" y1="396.6" x2="202.9" y2="399.2" stroke="#231f20" stroke-width="0.65"/>
<line x1="205.9" y1="396.6" x2="205.9" y2="399.2" stroke="#231f20" stroke-width="0.65"/>
<line x1="207.5" y1="396.6" x2="207.5" y2="399.2" stroke="#231f20" stroke-width="0.65"/>
<line x1="208.6" y1="396.6" x2="208.6" y2="399.2" stroke="#231f20" stroke-width="0.65"/>
<line x1="209.4" y1="396.6" x2="209.4" y2="399.2" stroke="#231f20" stroke-width="0.65"/>
<line x1="210.1" y1="396.6" x2="210.1" y2="399.2" stroke="#231f20" stroke-width="0.65"/>
<line x1="210.7" y1="396.6" x2="210.7" y2="399.2" stroke="#231f20" stroke-width="0.65"/>
<line x1="211.2" y1="396.6" x2="211.2" y2="399.2" stroke="#231f20" stroke-width="0.65"/>
<line x1="211.7" y1="396.6" x2="211.7" y2="399.2" stroke="#231f20" stroke-width="0.65"/>
<line x1="212.3" y1="396.6" x2="212.3" y2="399.2" stroke="#231f20" stroke-width="0.65"/>
<text transform="translate(183.6 407.1) rotate(-48)" font-size="6.6" text-anchor="middle">0</text>
<text transform="translate(193.4 412.8) rotate(-48)" font-size="6.6">10<tspan font-size="4.75" dy="-2.4">4</tspan></text>
<text transform="translate(202.4 412.8) rotate(-48)" font-size="6.6">10<tspan font-size="4.75" dy="-2.4">5</tspan></text>
<text transform="translate(211.4 412.8) rotate(-48)" font-size="6.6">10<tspan font-size="4.75" dy="-2.4">6</tspan></text>
<text transform="translate(257.1 348.9)" font-size="8.5" text-anchor="middle" textLength="26.69" lengthAdjust="spacingAndGlyphs">140176</text>
<path d="M234.8 374.9 L234.8 374.9 246 374.9 246.3 374.5 246.7 372.1 247 365.1 247.4 358 247.7 360.3 248.1 368.6 248.4 373.6 248.8 374.8 249.1 374.9 278.6 374.9 L278.8 374.9 Z" fill="#ee9dab" fill-opacity="0.9"/>
<path d="M234.8 374.9 246 374.9 246.3 374.5 246.7 372.1 247 365.1 247.4 358 247.7 360.3 248.1 368.6 248.4 373.6 248.8 374.8 249.1 374.9 278.6 374.9" fill="none" stroke="#b5304c" stroke-width="0.7"/>
<line x1="234.8" y1="374.9" x2="278.8" y2="374.9" stroke="#b5304c" stroke-width="0.7"/>
<path d="M234.8 386.4 L234.8 386.4 245.6 386.4 246 385.9 246.3 384.9 246.7 383.9 247 383 247.4 382.2 247.7 381.7 248.1 381.2 248.4 380.8 248.8 380.8 249.1 380.7 249.5 380.6 249.8 380.6 250.2 380.5 250.5 380.4 250.9 380.4 251.2 380.3 251.6 380.2 251.9 380 252.3 379.7 252.6 379.4 253 379.2 253.3 378.9 253.7 378.6 254 378.3 254.4 378.1 254.7 377.3 255.1 376.4 255.4 375.4 255.8 374.4 256.1 373.5 256.5 372.6 256.8 371.7 257.2 370.9 257.5 370 257.9 369.2 258.2 368.3 258.6 368.5 258.9 369.6 259.3 370.6 259.6 371.6 260 373.5 260.3 376 260.7 378.5 261.1 381 261.4 383.5 261.8 386 262.1 386.4 278.6 386.4 L278.8 386.4 Z" fill="#bfe0f5" fill-opacity="0.85"/>
<path d="M234.8 386.4 245.6 386.4 246 385.9 246.3 384.9 246.7 383.9 247 383 247.4 382.2 247.7 381.7 248.1 381.2 248.4 380.8 248.8 380.8 249.1 380.7 249.5 380.6 249.8 380.6 250.2 380.5 250.5 380.4 250.9 380.4 251.2 380.3 251.6 380.2 251.9 380 252.3 379.7 252.6 379.4 253 379.2 253.3 378.9 253.7 378.6 254 378.3 254.4 378.1 254.7 377.3 255.1 376.4 255.4 375.4 255.8 374.4 256.1 373.5 256.5 372.6 256.8 371.7 257.2 370.9 257.5 370 257.9 369.2 258.2 368.3 258.6 368.5 258.9 369.6 259.3 370.6 259.6 371.6 260 373.5 260.3 376 260.7 378.5 261.1 381 261.4 383.5 261.8 386 262.1 386.4 278.6 386.4" fill="none" stroke="#42a8d6" stroke-width="0.7"/>
<line x1="234.8" y1="386.4" x2="278.8" y2="386.4" stroke="#42a8d6" stroke-width="0.7"/>
<path d="M234.8 396.6 L234.8 396.6 257.9 396.6 258.2 396.5 258.6 396.5 258.9 396.3 259.3 396.2 259.6 395.9 260 395.5 260.3 394.8 260.7 394 261.1 392.9 261.4 391.6 261.8 390 262.1 388.3 262.5 386.5 262.8 384.8 263.2 383.2 263.5 382.1 263.9 381.4 264.2 381.2 264.6 381.7 264.9 382.7 265.3 384.1 265.6 385.7 266 387.5 266.3 389.3 266.7 391 267 392.4 267.4 393.6 267.7 394.5 268.1 395.2 268.4 395.7 268.8 396.1 269.1 396.3 269.5 396.4 269.8 396.5 270.2 396.5 270.5 396.6 278.6 396.6 L278.8 396.6 Z" fill="#f9d19c" fill-opacity="0.9"/>
<path d="M234.8 396.6 257.9 396.6 258.2 396.5 258.6 396.5 258.9 396.3 259.3 396.2 259.6 395.9 260 395.5 260.3 394.8 260.7 394 261.1 392.9 261.4 391.6 261.8 390 262.1 388.3 262.5 386.5 262.8 384.8 263.2 383.2 263.5 382.1 263.9 381.4 264.2 381.2 264.6 381.7 264.9 382.7 265.3 384.1 265.6 385.7 266 387.5 266.3 389.3 266.7 391 267 392.4 267.4 393.6 267.7 394.5 268.1 395.2 268.4 395.7 268.8 396.1 269.1 396.3 269.5 396.4 269.8 396.5 270.2 396.5 270.5 396.6 278.6 396.6" fill="none" stroke="#eca24a" stroke-width="0.7"/>
<text transform="translate(277 372.7) scale(1 0.85)" font-size="6.4" text-anchor="end">164</text>
<text transform="translate(277 383.8) scale(1 0.85)" font-size="6.4" text-anchor="end">6231</text>
<text transform="translate(277 393.6) scale(1 0.85)" font-size="6.4" text-anchor="end">20570</text>
<rect x="234.8" y="352.7" width="44" height="43.9" fill="none" stroke="#231f20" stroke-width="0.9"/>
<line x1="238.6" y1="396.6" x2="238.6" y2="399.2" stroke="#231f20" stroke-width="0.65"/>
<line x1="239.85" y1="396.6" x2="239.85" y2="399.2" stroke="#231f20" stroke-width="0.65"/>
<line x1="241.1" y1="396.6" x2="241.1" y2="399.2" stroke="#231f20" stroke-width="0.65"/>
<line x1="242.35" y1="396.6" x2="242.35" y2="399.2" stroke="#231f20" stroke-width="0.65"/>
<line x1="243.6" y1="396.6" x2="243.6" y2="399.2" stroke="#231f20" stroke-width="0.65"/>
<line x1="244.85" y1="396.6" x2="244.85" y2="399.2" stroke="#231f20" stroke-width="0.65"/>
<line x1="246.1" y1="396.6" x2="246.1" y2="399.2" stroke="#231f20" stroke-width="0.65"/>
<line x1="247.35" y1="396.6" x2="247.35" y2="399.2" stroke="#231f20" stroke-width="0.65"/>
<line x1="248.6" y1="396.6" x2="248.6" y2="399.2" stroke="#231f20" stroke-width="0.65"/>
<line x1="249.85" y1="396.6" x2="249.85" y2="399.2" stroke="#231f20" stroke-width="0.65"/>
<line x1="251.1" y1="396.6" x2="251.1" y2="399.2" stroke="#231f20" stroke-width="0.65"/>
<line x1="252.35" y1="396.6" x2="252.35" y2="399.2" stroke="#231f20" stroke-width="0.65"/>
<line x1="253.6" y1="396.6" x2="253.6" y2="399.2" stroke="#231f20" stroke-width="0.65"/>
<line x1="254.85" y1="396.6" x2="254.85" y2="399.2" stroke="#231f20" stroke-width="0.65"/>
<line x1="256.1" y1="396.6" x2="256.1" y2="399.2" stroke="#231f20" stroke-width="0.65"/>
<line x1="256.9" y1="396.6" x2="256.9" y2="399.2" stroke="#231f20" stroke-width="0.65"/>
<line x1="259.9" y1="396.6" x2="259.9" y2="399.2" stroke="#231f20" stroke-width="0.65"/>
<line x1="261.5" y1="396.6" x2="261.5" y2="399.2" stroke="#231f20" stroke-width="0.65"/>
<line x1="262.6" y1="396.6" x2="262.6" y2="399.2" stroke="#231f20" stroke-width="0.65"/>
<line x1="263.4" y1="396.6" x2="263.4" y2="399.2" stroke="#231f20" stroke-width="0.65"/>
<line x1="264.1" y1="396.6" x2="264.1" y2="399.2" stroke="#231f20" stroke-width="0.65"/>
<line x1="264.7" y1="396.6" x2="264.7" y2="399.2" stroke="#231f20" stroke-width="0.65"/>
<line x1="265.2" y1="396.6" x2="265.2" y2="399.2" stroke="#231f20" stroke-width="0.65"/>
<line x1="265.7" y1="396.6" x2="265.7" y2="399.2" stroke="#231f20" stroke-width="0.65"/>
<line x1="266.4" y1="396.6" x2="266.4" y2="399.2" stroke="#231f20" stroke-width="0.65"/>
<line x1="269.4" y1="396.6" x2="269.4" y2="399.2" stroke="#231f20" stroke-width="0.65"/>
<line x1="271" y1="396.6" x2="271" y2="399.2" stroke="#231f20" stroke-width="0.65"/>
<line x1="272.1" y1="396.6" x2="272.1" y2="399.2" stroke="#231f20" stroke-width="0.65"/>
<line x1="272.9" y1="396.6" x2="272.9" y2="399.2" stroke="#231f20" stroke-width="0.65"/>
<line x1="273.6" y1="396.6" x2="273.6" y2="399.2" stroke="#231f20" stroke-width="0.65"/>
<line x1="274.2" y1="396.6" x2="274.2" y2="399.2" stroke="#231f20" stroke-width="0.65"/>
<line x1="274.7" y1="396.6" x2="274.7" y2="399.2" stroke="#231f20" stroke-width="0.65"/>
<line x1="275.2" y1="396.6" x2="275.2" y2="399.2" stroke="#231f20" stroke-width="0.65"/>
<line x1="275.8" y1="396.6" x2="275.8" y2="399.2" stroke="#231f20" stroke-width="0.65"/>
<text transform="translate(247.1 407.1) rotate(-48)" font-size="6.6" text-anchor="middle">0</text>
<text transform="translate(256.9 412.8) rotate(-48)" font-size="6.6">10<tspan font-size="4.75" dy="-2.4">4</tspan></text>
<text transform="translate(265.9 412.8) rotate(-48)" font-size="6.6">10<tspan font-size="4.75" dy="-2.4">5</tspan></text>
<text transform="translate(274.9 412.8) rotate(-48)" font-size="6.6">10<tspan font-size="4.75" dy="-2.4">6</tspan></text>
<text transform="translate(319.6 348.9)" font-size="8.5" text-anchor="middle" textLength="23.11" lengthAdjust="spacingAndGlyphs">PBMC</text>
<path d="M297.3 374.9 L297.3 374.7 297.7 374.7 298 374.6 299.1 374.6 299.4 374.5 300.1 374.5 300.5 374.4 301.5 374.4 301.9 374.3 302.2 374.3 302.6 374.2 302.9 374.2 303.3 374.1 303.6 374 304 373.9 304.3 373.9 304.7 373.8 305 373.7 305.4 373.7 305.7 373.6 306.1 373.5 306.4 373.4 306.8 373.4 307.1 373.3 307.5 373.2 307.8 373 308.2 372.8 308.5 372.6 308.9 372.4 309.2 372.1 309.6 371.9 309.9 371.7 310.3 371.5 310.6 371.3 311 371.1 311.3 370.9 311.7 370.7 312 370.5 312.4 370.1 312.7 369.5 313.1 368.8 313.4 368.2 313.8 367.5 314.1 366.9 314.5 366.3 314.8 365.6 315.2 364.8 315.5 363.3 315.9 361.7 316.2 360.2 316.6 358.6 316.9 357.1 317.3 355.6 317.6 354.2 318 354.3 318.3 356.6 318.7 359 319 362.8 319.4 366.6 319.7 369.1 320.1 371.3 320.4 373.6 320.8 374.9 341.1 374.9 L341.3 374.9 Z" fill="#ee9dab" fill-opacity="0.9"/>
<path d="M297.3 374.7 297.7 374.7 298 374.6 299.1 374.6 299.4 374.5 300.1 374.5 300.5 374.4 301.5 374.4 301.9 374.3 302.2 374.3 302.6 374.2 302.9 374.2 303.3 374.1 303.6 374 304 373.9 304.3 373.9 304.7 373.8 305 373.7 305.4 373.7 305.7 373.6 306.1 373.5 306.4 373.4 306.8 373.4 307.1 373.3 307.5 373.2 307.8 373 308.2 372.8 308.5 372.6 308.9 372.4 309.2 372.1 309.6 371.9 309.9 371.7 310.3 371.5 310.6 371.3 311 371.1 311.3 370.9 311.7 370.7 312 370.5 312.4 370.1 312.7 369.5 313.1 368.8 313.4 368.2 313.8 367.5 314.1 366.9 314.5 366.3 314.8 365.6 315.2 364.8 315.5 363.3 315.9 361.7 316.2 360.2 316.6 358.6 316.9 357.1 317.3 355.6 317.6 354.2 318 354.3 318.3 356.6 318.7 359 319 362.8 319.4 366.6 319.7 369.1 320.1 371.3 320.4 373.6 320.8 374.9 341.1 374.9" fill="none" stroke="#b5304c" stroke-width="0.7"/>
<line x1="297.3" y1="374.9" x2="341.3" y2="374.9" stroke="#b5304c" stroke-width="0.7"/>
<path d="M297.3 386.4 L297.3 386.4 309.9 386.4 310.3 386.3 311.3 386.3 311.7 386.2 312 386.2 312.4 386.1 312.7 386.1 313.1 386 313.4 386 313.8 385.9 314.1 385.8 314.5 385.7 314.8 385.7 315.2 385.6 315.5 385.5 315.9 385.5 316.2 385.4 318 385.4 318.3 385.3 318.7 385.3 319 385.1 319.4 384.7 319.7 384 320.1 382.7 320.4 380.9 320.8 378.4 321.1 375.4 321.5 372.1 321.8 369.1 322.2 366.8 322.5 365.7 322.9 366.1 323.2 367.8 323.6 370.6 323.9 373.9 324.3 377.2 324.6 380.1 325 382.4 325.3 384 325.7 385.1 326 385.7 326.4 386.1 326.7 386.3 327.1 386.3 327.4 386.4 341.1 386.4 L341.3 386.4 Z" fill="#bfe0f5" fill-opacity="0.85"/>
<path d="M297.3 386.4 309.9 386.4 310.3 386.3 311.3 386.3 311.7 386.2 312 386.2 312.4 386.1 312.7 386.1 313.1 386 313.4 386 313.8 385.9 314.1 385.8 314.5 385.7 314.8 385.7 315.2 385.6 315.5 385.5 315.9 385.5 316.2 385.4 318 385.4 318.3 385.3 318.7 385.3 319 385.1 319.4 384.7 319.7 384 320.1 382.7 320.4 380.9 320.8 378.4 321.1 375.4 321.5 372.1 321.8 369.1 322.2 366.8 322.5 365.7 322.9 366.1 323.2 367.8 323.6 370.6 323.9 373.9 324.3 377.2 324.6 380.1 325 382.4 325.3 384 325.7 385.1 326 385.7 326.4 386.1 326.7 386.3 327.1 386.3 327.4 386.4 341.1 386.4" fill="none" stroke="#42a8d6" stroke-width="0.7"/>
<line x1="297.3" y1="386.4" x2="341.3" y2="386.4" stroke="#42a8d6" stroke-width="0.7"/>
<path d="M297.3 396.6 L297.3 396.6 317.3 396.6 317.6 396.5 318 396.4 318.3 396.3 318.7 396.1 319 395.7 319.4 395.2 319.7 394.3 320.1 393.2 320.4 391.6 320.8 389.7 321.1 387.4 321.5 384.8 321.8 382.2 322.2 379.6 322.5 377.5 322.9 376 323.2 375.3 323.6 375.5 323.9 376.6 324.3 378.4 324.6 380.7 325 383.3 325.3 385.9 325.7 388.4 326 390.6 326.4 392.3 326.7 393.7 327.1 394.7 327.4 395.4 327.8 395.9 328.1 396.2 328.5 396.4 328.8 396.5 329.2 396.5 329.5 396.6 341.1 396.6 L341.3 396.6 Z" fill="#f9d19c" fill-opacity="0.9"/>
<path d="M297.3 396.6 317.3 396.6 317.6 396.5 318 396.4 318.3 396.3 318.7 396.1 319 395.7 319.4 395.2 319.7 394.3 320.1 393.2 320.4 391.6 320.8 389.7 321.1 387.4 321.5 384.8 321.8 382.2 322.2 379.6 322.5 377.5 322.9 376 323.2 375.3 323.6 375.5 323.9 376.6 324.3 378.4 324.6 380.7 325 383.3 325.3 385.9 325.7 388.4 326 390.6 326.4 392.3 326.7 393.7 327.1 394.7 327.4 395.4 327.8 395.9 328.1 396.2 328.5 396.4 328.8 396.5 329.2 396.5 329.5 396.6 341.1 396.6" fill="none" stroke="#eca24a" stroke-width="0.7"/>
<text transform="translate(339.5 372.7) scale(1 0.85)" font-size="6.4" text-anchor="end">245</text>
<text transform="translate(339.5 383.8) scale(1 0.85)" font-size="6.4" text-anchor="end">1458</text>
<text transform="translate(339.5 393.6) scale(1 0.85)" font-size="6.4" text-anchor="end">1917</text>
<rect x="297.3" y="352.7" width="44" height="43.9" fill="none" stroke="#231f20" stroke-width="0.9"/>
<line x1="301.1" y1="396.6" x2="301.1" y2="399.2" stroke="#231f20" stroke-width="0.65"/>
<line x1="302.35" y1="396.6" x2="302.35" y2="399.2" stroke="#231f20" stroke-width="0.65"/>
<line x1="303.6" y1="396.6" x2="303.6" y2="399.2" stroke="#231f20" stroke-width="0.65"/>
<line x1="304.85" y1="396.6" x2="304.85" y2="399.2" stroke="#231f20" stroke-width="0.65"/>
<line x1="306.1" y1="396.6" x2="306.1" y2="399.2" stroke="#231f20" stroke-width="0.65"/>
<line x1="307.35" y1="396.6" x2="307.35" y2="399.2" stroke="#231f20" stroke-width="0.65"/>
<line x1="308.6" y1="396.6" x2="308.6" y2="399.2" stroke="#231f20" stroke-width="0.65"/>
<line x1="309.85" y1="396.6" x2="309.85" y2="399.2" stroke="#231f20" stroke-width="0.65"/>
<line x1="311.1" y1="396.6" x2="311.1" y2="399.2" stroke="#231f20" stroke-width="0.65"/>
<line x1="312.35" y1="396.6" x2="312.35" y2="399.2" stroke="#231f20" stroke-width="0.65"/>
<line x1="313.6" y1="396.6" x2="313.6" y2="399.2" stroke="#231f20" stroke-width="0.65"/>
<line x1="314.85" y1="396.6" x2="314.85" y2="399.2" stroke="#231f20" stroke-width="0.65"/>
<line x1="316.1" y1="396.6" x2="316.1" y2="399.2" stroke="#231f20" stroke-width="0.65"/>
<line x1="317.35" y1="396.6" x2="317.35" y2="399.2" stroke="#231f20" stroke-width="0.65"/>
<line x1="318.6" y1="396.6" x2="318.6" y2="399.2" stroke="#231f20" stroke-width="0.65"/>
<line x1="319.4" y1="396.6" x2="319.4" y2="399.2" stroke="#231f20" stroke-width="0.65"/>
<line x1="322.4" y1="396.6" x2="322.4" y2="399.2" stroke="#231f20" stroke-width="0.65"/>
<line x1="324" y1="396.6" x2="324" y2="399.2" stroke="#231f20" stroke-width="0.65"/>
<line x1="325.1" y1="396.6" x2="325.1" y2="399.2" stroke="#231f20" stroke-width="0.65"/>
<line x1="325.9" y1="396.6" x2="325.9" y2="399.2" stroke="#231f20" stroke-width="0.65"/>
<line x1="326.6" y1="396.6" x2="326.6" y2="399.2" stroke="#231f20" stroke-width="0.65"/>
<line x1="327.2" y1="396.6" x2="327.2" y2="399.2" stroke="#231f20" stroke-width="0.65"/>
<line x1="327.7" y1="396.6" x2="327.7" y2="399.2" stroke="#231f20" stroke-width="0.65"/>
<line x1="328.2" y1="396.6" x2="328.2" y2="399.2" stroke="#231f20" stroke-width="0.65"/>
<line x1="328.9" y1="396.6" x2="328.9" y2="399.2" stroke="#231f20" stroke-width="0.65"/>
<line x1="331.9" y1="396.6" x2="331.9" y2="399.2" stroke="#231f20" stroke-width="0.65"/>
<line x1="333.5" y1="396.6" x2="333.5" y2="399.2" stroke="#231f20" stroke-width="0.65"/>
<line x1="334.6" y1="396.6" x2="334.6" y2="399.2" stroke="#231f20" stroke-width="0.65"/>
<line x1="335.4" y1="396.6" x2="335.4" y2="399.2" stroke="#231f20" stroke-width="0.65"/>
<line x1="336.1" y1="396.6" x2="336.1" y2="399.2" stroke="#231f20" stroke-width="0.65"/>
<line x1="336.7" y1="396.6" x2="336.7" y2="399.2" stroke="#231f20" stroke-width="0.65"/>
<line x1="337.2" y1="396.6" x2="337.2" y2="399.2" stroke="#231f20" stroke-width="0.65"/>
<line x1="337.7" y1="396.6" x2="337.7" y2="399.2" stroke="#231f20" stroke-width="0.65"/>
<line x1="338.3" y1="396.6" x2="338.3" y2="399.2" stroke="#231f20" stroke-width="0.65"/>
<text transform="translate(309.6 407.1) rotate(-48)" font-size="6.6" text-anchor="middle">0</text>
<text transform="translate(319.4 412.8) rotate(-48)" font-size="6.6">10<tspan font-size="4.75" dy="-2.4">4</tspan></text>
<text transform="translate(328.4 412.8) rotate(-48)" font-size="6.6">10<tspan font-size="4.75" dy="-2.4">5</tspan></text>
<text transform="translate(337.4 412.8) rotate(-48)" font-size="6.6">10<tspan font-size="4.75" dy="-2.4">6</tspan></text>
<text transform="translate(42.2 373.7)" font-size="5.9" text-anchor="end">FMO</text>
<text transform="translate(42.6 384.5)" font-size="5.8" text-anchor="end">– rTNFα</text>
<text transform="translate(42.6 394.7)" font-size="5.8" text-anchor="end">+ rTNFα</text>
<text transform="translate(47 419.2)" font-size="7.4" textLength="23.8" lengthAdjust="spacingAndGlyphs">ICAM-1</text>
<line x1="74.5" y1="416.6" x2="336" y2="416.6" stroke="#231f20" stroke-width="1.1"/>
<path d="M334.2 414.2 L341.3 416.6 L334.2 419 Z" fill="#231f20"/>
<text transform="translate(377.6 272.6)" font-size="11" class="pl" font-weight="bold">E</text>
<line x1="422.4" y1="293.2" x2="422.4" y2="369.1" stroke="#231f20" stroke-width="0.9"/>
<line x1="419.3" y1="368.7" x2="422.4" y2="368.7" stroke="#231f20" stroke-width="0.8"/>
<text transform="translate(418 370.97)" font-size="6.3" text-anchor="end">0</text>
<line x1="419.3" y1="353.96" x2="422.4" y2="353.96" stroke="#231f20" stroke-width="0.8"/>
<text transform="translate(418 356.23)" font-size="6.3" text-anchor="end">2</text>
<line x1="419.3" y1="339.22" x2="422.4" y2="339.22" stroke="#231f20" stroke-width="0.8"/>
<text transform="translate(418 341.49)" font-size="6.3" text-anchor="end">4</text>
<line x1="419.3" y1="324.48" x2="422.4" y2="324.48" stroke="#231f20" stroke-width="0.8"/>
<text transform="translate(418 326.75)" font-size="6.3" text-anchor="end">6</text>
<line x1="419.3" y1="309.74" x2="422.4" y2="309.74" stroke="#231f20" stroke-width="0.8"/>
<text transform="translate(418 312.01)" font-size="6.3" text-anchor="end">8</text>
<line x1="419.3" y1="295" x2="422.4" y2="295" stroke="#231f20" stroke-width="0.8"/>
<text transform="translate(418 297.27)" font-size="6.3" text-anchor="end">10</text>
<line x1="421.95" y1="368.7" x2="513" y2="368.7" stroke="#231f20" stroke-width="0.9"/>
<line x1="442" y1="368.7" x2="442" y2="370.9" stroke="#231f20" stroke-width="0.8"/>
<line x1="488" y1="368.7" x2="488" y2="370.9" stroke="#231f20" stroke-width="0.8"/>
<rect x="431" y="320" width="11.3" height="48.7" fill="#c8c8c8"/>
<rect x="448.1" y="353.5" width="10.9" height="15.2" fill="#3d4c66"/>
<line x1="453.55" y1="354" x2="453.55" y2="351.8" stroke="#231f20" stroke-width="0.9"/>
<line x1="450.83" y1="351.8" x2="456.27" y2="351.8" stroke="#231f20" stroke-width="1"/>
<rect x="477" y="310.6" width="11.2" height="58.1" fill="#c8c8c8"/>
<line x1="482.6" y1="311.1" x2="482.6" y2="309.6" stroke="#231f20" stroke-width="0.9"/>
<line x1="479.8" y1="309.6" x2="485.4" y2="309.6" stroke="#231f20" stroke-width="1"/>
<rect x="494" y="344.8" width="10.7" height="23.9" fill="#3d4c66"/>
<line x1="499.35" y1="345.3" x2="499.35" y2="344" stroke="#231f20" stroke-width="0.9"/>
<line x1="496.68" y1="344" x2="502.03" y2="344" stroke="#231f20" stroke-width="1"/>
<line x1="436.5" y1="313.9" x2="453.2" y2="313.9" stroke="#231f20" stroke-width="0.8"/>
<text transform="translate(444.85 314.5)" font-size="5.5" text-anchor="middle">***</text>
<line x1="483.7" y1="305.3" x2="499.3" y2="305.3" stroke="#231f20" stroke-width="0.8"/>
<text transform="translate(491.5 305.9)" font-size="5.5" text-anchor="middle">***</text>
<text transform="translate(441.3 381.4)" font-size="6.2" text-anchor="middle">130794</text>
<text transform="translate(487.8 381.4)" font-size="6.2" text-anchor="middle">140176</text>
<text transform="translate(393.61 329.4) rotate(-90)" font-size="6.91" class="yl" text-anchor="middle" textLength="67" lengthAdjust="spacingAndGlyphs">ICAM-1 MFI fold change</text>
<text transform="translate(403.71 329.4) rotate(-90)" font-size="6.91" class="yl" text-anchor="middle" textLength="59" lengthAdjust="spacingAndGlyphs">after rTNFα treatment</text>
<rect x="435.2" y="388.7" width="7.3" height="4" fill="#c8c8c8"/>
<text transform="translate(444.6 393.2)" font-size="6.6">CD34<tspan font-size="4.4" dy="-2.4">+</tspan></text>
<rect x="471.5" y="388.7" width="7.5" height="4" fill="#3d4c66"/>
<text transform="translate(481.5 393.2)" font-size="6.6">CD34<tspan font-size="4.4" dy="-2.4">–</tspan></text>
<text transform="translate(7 432.8)" font-size="11" class="pl" font-weight="bold">F</text>
<text transform="translate(100.5 434.6)" font-size="8.5" text-anchor="middle" textLength="37.78" lengthAdjust="spacingAndGlyphs">OCI-AML2</text>
<path d="M71.8 458 L71.8 458 86.4 458 86.8 457.9 87.1 457.6 87.5 456.5 87.8 453.9 88.2 449.5 88.5 444.2 88.9 440.6 89.2 440.9 89.6 444.9 89.9 450.2 90.3 454.4 90.6 456.7 91 457.6 91.3 457.9 91.7 458 129.1 458 L129.2 458 Z" fill="#ee9dab" fill-opacity="0.9"/>
<path d="M71.8 458 86.4 458 86.8 457.9 87.1 457.6 87.5 456.5 87.8 453.9 88.2 449.5 88.5 444.2 88.9 440.6 89.2 440.9 89.6 444.9 89.9 450.2 90.3 454.4 90.6 456.7 91 457.6 91.3 457.9 91.7 458 129.1 458" fill="none" stroke="#b5304c" stroke-width="0.7"/>
<line x1="71.75" y1="458" x2="129.25" y2="458" stroke="#b5304c" stroke-width="0.7"/>
<path d="M71.8 477.5 L71.8 477.5 87.5 477.5 87.8 476.6 88.2 475.6 88.5 474.5 88.9 473.7 89.2 473.2 89.6 472.7 89.9 472.2 90.3 472.1 90.6 472 91 471.9 91.3 471.8 91.7 472 92 472.1 92.4 472.3 92.7 472.4 93.1 472.5 93.4 472.7 93.8 472.8 94.1 473 94.5 473 94.8 472.9 95.2 472.7 95.5 472.6 95.9 472.5 96.2 472.3 96.6 472.2 96.9 472 97.3 471.7 97.6 471.4 98 471 98.3 470.7 98.7 470.4 99 470.1 99.4 469.8 99.7 469.5 100.1 468.9 100.4 468.3 100.8 467.7 101.1 467.1 101.5 466.5 101.8 466 102.2 465.4 102.5 464.8 102.9 464.2 103.2 463.6 103.6 463.1 103.9 462.7 104.3 462.2 104.6 461.7 105 461.3 105.3 460.9 105.7 460.8 106 460.7 106.4 460.7 106.7 461.4 107.1 462 107.4 462.7 107.8 463.5 108.1 465.3 108.5 467 108.8 468.7 109.2 470.5 109.5 471.8 109.9 473 110.2 474.3 110.6 475.5 110.9 476.4 111.3 476.9 111.6 477.4 112 477.5 129.1 477.5 L129.2 477.5 Z" fill="#bfe0f5" fill-opacity="0.9"/>
<path d="M71.8 477.5 87.5 477.5 87.8 476.6 88.2 475.6 88.5 474.5 88.9 473.7 89.2 473.2 89.6 472.7 89.9 472.2 90.3 472.1 90.6 472 91 471.9 91.3 471.8 91.7 472 92 472.1 92.4 472.3 92.7 472.4 93.1 472.5 93.4 472.7 93.8 472.8 94.1 473 94.5 473 94.8 472.9 95.2 472.7 95.5 472.6 95.9 472.5 96.2 472.3 96.6 472.2 96.9 472 97.3 471.7 97.6 471.4 98 471 98.3 470.7 98.7 470.4 99 470.1 99.4 469.8 99.7 469.5 100.1 468.9 100.4 468.3 100.8 467.7 101.1 467.1 101.5 466.5 101.8 466 102.2 465.4 102.5 464.8 102.9 464.2 103.2 463.6 103.6 463.1 103.9 462.7 104.3 462.2 104.6 461.7 105 461.3 105.3 460.9 105.7 460.8 106 460.7 106.4 460.7 106.7 461.4 107.1 462 107.4 462.7 107.8 463.5 108.1 465.3 108.5 467 108.8 468.7 109.2 470.5 109.5 471.8 109.9 473 110.2 474.3 110.6 475.5 110.9 476.4 111.3 476.9 111.6 477.4 112 477.5 129.1 477.5" fill="none" stroke="#42a8d6" stroke-width="0.7"/>
<line x1="71.75" y1="477.5" x2="129.25" y2="477.5" stroke="#42a8d6" stroke-width="0.7"/>
<path d="M71.8 496.8 L71.8 496.8 87.5 496.8 87.8 494.5 88.2 491.9 88.5 489.3 88.9 487.1 89.2 485.5 89.6 483.8 89.9 482.1 90.3 481.2 90.6 480.7 91 480.6 91.3 481.1 91.7 481.6 92 481.8 92.4 482.1 92.7 482.3 93.1 482.6 93.4 482.8 93.8 483.1 94.1 483.4 94.5 483.6 94.8 483.9 95.2 484.1 95.5 484.4 95.9 484.7 96.2 485 96.6 485.3 96.9 485.6 97.3 485.9 97.6 486.2 98 486.5 98.3 486.8 98.7 487.1 99 487.4 99.4 487.7 99.7 488 100.1 488.4 100.4 488.8 100.8 489.2 101.1 489.6 101.5 490 101.8 490.4 102.2 490.8 102.5 491.2 102.9 491.5 103.2 491.9 103.6 492.2 103.9 492.5 104.3 492.8 104.6 493.2 105 493.5 105.3 493.8 105.7 494.1 106 494.4 106.4 494.6 106.7 494.9 107.1 495.2 107.4 495.4 107.8 495.7 108.1 495.9 108.5 496.2 108.8 496.5 109.2 496.7 109.5 496.8 129.1 496.8 L129.2 496.8 Z" fill="#f9d19c" fill-opacity="0.9"/>
<path d="M71.8 496.8 87.5 496.8 87.8 494.5 88.2 491.9 88.5 489.3 88.9 487.1 89.2 485.5 89.6 483.8 89.9 482.1 90.3 481.2 90.6 480.7 91 480.6 91.3 481.1 91.7 481.6 92 481.8 92.4 482.1 92.7 482.3 93.1 482.6 93.4 482.8 93.8 483.1 94.1 483.4 94.5 483.6 94.8 483.9 95.2 484.1 95.5 484.4 95.9 484.7 96.2 485 96.6 485.3 96.9 485.6 97.3 485.9 97.6 486.2 98 486.5 98.3 486.8 98.7 487.1 99 487.4 99.4 487.7 99.7 488 100.1 488.4 100.4 488.8 100.8 489.2 101.1 489.6 101.5 490 101.8 490.4 102.2 490.8 102.5 491.2 102.9 491.5 103.2 491.9 103.6 492.2 103.9 492.5 104.3 492.8 104.6 493.2 105 493.5 105.3 493.8 105.7 494.1 106 494.4 106.4 494.6 106.7 494.9 107.1 495.2 107.4 495.4 107.8 495.7 108.1 495.9 108.5 496.2 108.8 496.5 109.2 496.7 109.5 496.8 129.1 496.8" fill="none" stroke="#eca24a" stroke-width="0.7"/>
<text transform="translate(127.05 454.85) scale(1 0.85)" font-size="6.4" text-anchor="end">363</text>
<text transform="translate(127.05 472.75) scale(1 0.85)" font-size="6.4" text-anchor="end">7642</text>
<text transform="translate(127.05 490.65) scale(1 0.85)" font-size="6.4" text-anchor="end">2283</text>
<rect x="71.75" y="439.25" width="57.5" height="57.5" fill="none" stroke="#231f20" stroke-width="0.9"/>
<line x1="76.72" y1="496.75" x2="76.72" y2="499.35" stroke="#231f20" stroke-width="0.65"/>
<line x1="78.35" y1="496.75" x2="78.35" y2="499.35" stroke="#231f20" stroke-width="0.65"/>
<line x1="79.98" y1="496.75" x2="79.98" y2="499.35" stroke="#231f20" stroke-width="0.65"/>
<line x1="81.62" y1="496.75" x2="81.62" y2="499.35" stroke="#231f20" stroke-width="0.65"/>
<line x1="83.25" y1="496.75" x2="83.25" y2="499.35" stroke="#231f20" stroke-width="0.65"/>
<line x1="84.88" y1="496.75" x2="84.88" y2="499.35" stroke="#231f20" stroke-width="0.65"/>
<line x1="86.52" y1="496.75" x2="86.52" y2="499.35" stroke="#231f20" stroke-width="0.65"/>
<line x1="88.15" y1="496.75" x2="88.15" y2="499.35" stroke="#231f20" stroke-width="0.65"/>
<line x1="89.78" y1="496.75" x2="89.78" y2="499.35" stroke="#231f20" stroke-width="0.65"/>
<line x1="91.42" y1="496.75" x2="91.42" y2="499.35" stroke="#231f20" stroke-width="0.65"/>
<line x1="93.05" y1="496.75" x2="93.05" y2="499.35" stroke="#231f20" stroke-width="0.65"/>
<line x1="94.68" y1="496.75" x2="94.68" y2="499.35" stroke="#231f20" stroke-width="0.65"/>
<line x1="96.32" y1="496.75" x2="96.32" y2="499.35" stroke="#231f20" stroke-width="0.65"/>
<line x1="97.95" y1="496.75" x2="97.95" y2="499.35" stroke="#231f20" stroke-width="0.65"/>
<line x1="99.59" y1="496.75" x2="99.59" y2="499.35" stroke="#231f20" stroke-width="0.65"/>
<line x1="100.63" y1="496.75" x2="100.63" y2="499.35" stroke="#231f20" stroke-width="0.65"/>
<line x1="104.55" y1="496.75" x2="104.55" y2="499.35" stroke="#231f20" stroke-width="0.65"/>
<line x1="106.64" y1="496.75" x2="106.64" y2="499.35" stroke="#231f20" stroke-width="0.65"/>
<line x1="108.08" y1="496.75" x2="108.08" y2="499.35" stroke="#231f20" stroke-width="0.65"/>
<line x1="109.12" y1="496.75" x2="109.12" y2="499.35" stroke="#231f20" stroke-width="0.65"/>
<line x1="110.04" y1="496.75" x2="110.04" y2="499.35" stroke="#231f20" stroke-width="0.65"/>
<line x1="110.82" y1="496.75" x2="110.82" y2="499.35" stroke="#231f20" stroke-width="0.65"/>
<line x1="111.48" y1="496.75" x2="111.48" y2="499.35" stroke="#231f20" stroke-width="0.65"/>
<line x1="112.13" y1="496.75" x2="112.13" y2="499.35" stroke="#231f20" stroke-width="0.65"/>
<line x1="113.05" y1="496.75" x2="113.05" y2="499.35" stroke="#231f20" stroke-width="0.65"/>
<line x1="116.97" y1="496.75" x2="116.97" y2="499.35" stroke="#231f20" stroke-width="0.65"/>
<line x1="119.06" y1="496.75" x2="119.06" y2="499.35" stroke="#231f20" stroke-width="0.65"/>
<line x1="120.49" y1="496.75" x2="120.49" y2="499.35" stroke="#231f20" stroke-width="0.65"/>
<line x1="121.54" y1="496.75" x2="121.54" y2="499.35" stroke="#231f20" stroke-width="0.65"/>
<line x1="122.45" y1="496.75" x2="122.45" y2="499.35" stroke="#231f20" stroke-width="0.65"/>
<line x1="123.24" y1="496.75" x2="123.24" y2="499.35" stroke="#231f20" stroke-width="0.65"/>
<line x1="123.89" y1="496.75" x2="123.89" y2="499.35" stroke="#231f20" stroke-width="0.65"/>
<line x1="124.55" y1="496.75" x2="124.55" y2="499.35" stroke="#231f20" stroke-width="0.65"/>
<line x1="125.33" y1="496.75" x2="125.33" y2="499.35" stroke="#231f20" stroke-width="0.65"/>
<text transform="translate(90.2 506.15) rotate(-48)" font-size="6.6" text-anchor="middle">0</text>
<text transform="translate(102.25 512.15) rotate(-48)" font-size="6.6">10<tspan font-size="4.75" dy="-2.4">4</tspan></text>
<text transform="translate(115.35 512.15) rotate(-48)" font-size="6.6">10<tspan font-size="4.75" dy="-2.4">5</tspan></text>
<text transform="translate(125.95 511.75) rotate(-48)" font-size="6.6">10<tspan font-size="4.75" dy="-2.4">6</tspan></text>
<text transform="translate(185 434.6)" font-size="8.5" text-anchor="middle" textLength="37.78" lengthAdjust="spacingAndGlyphs">OCI-AML3</text>
<path d="M156.2 458 L156.2 458 172.7 458 173 457.9 173.4 456.9 173.7 452.2 174.1 443.4 174.4 440.7 174.8 448.5 175.1 455.6 175.5 457.7 175.8 458 213.6 458 L213.8 458 Z" fill="#ee9dab" fill-opacity="0.9"/>
<path d="M156.2 458 172.7 458 173 457.9 173.4 456.9 173.7 452.2 174.1 443.4 174.4 440.7 174.8 448.5 175.1 455.6 175.5 457.7 175.8 458 213.6 458" fill="none" stroke="#b5304c" stroke-width="0.7"/>
<line x1="156.25" y1="458" x2="213.75" y2="458" stroke="#b5304c" stroke-width="0.7"/>
<path d="M156.2 477.5 L156.2 477.5 173 477.5 173.4 477.4 173.7 476.4 174.1 471.5 174.4 463.7 174.8 460.9 175.1 464.6 175.5 469.7 175.8 471.9 176.2 472.1 176.5 472.3 176.9 472.6 177.2 472.8 177.6 473 177.9 473.1 178.3 473.1 178.6 473.2 179.3 473.2 179.7 473.3 180 473.3 180.4 473.4 180.7 473.4 181.1 473.5 181.8 473.5 182.1 473.6 183.5 473.6 183.9 473.7 185.6 473.7 186 473.8 187.7 473.8 188.1 473.9 189.5 473.9 189.8 474 190.2 474.1 190.5 474.2 190.9 474.3 191.2 474.4 191.6 474.5 191.9 474.7 192.3 474.8 192.6 474.9 193 475 193.3 475.1 193.7 475.2 194 475.3 194.4 475.4 194.7 475.5 195.1 475.6 195.4 475.7 195.8 475.8 196.1 475.8 196.5 475.9 196.8 476 197.2 476.1 197.5 476.2 197.9 476.3 198.2 476.4 198.6 476.4 198.9 476.5 199.3 476.6 199.6 476.7 200 476.7 200.3 476.8 200.7 476.8 201 476.9 201.4 476.9 201.7 477 202.1 477 202.4 477.1 202.8 477.1 203.1 477.2 203.5 477.2 203.8 477.3 204.2 477.3 204.5 477.4 204.9 477.4 205.2 477.5 213.6 477.5 L213.8 477.5 Z" fill="#bfe0f5" fill-opacity="0.9"/>
<path d="M156.2 477.5 173 477.5 173.4 477.4 173.7 476.4 174.1 471.5 174.4 463.7 174.8 460.9 175.1 464.6 175.5 469.7 175.8 471.9 176.2 472.1 176.5 472.3 176.9 472.6 177.2 472.8 177.6 473 177.9 473.1 178.3 473.1 178.6 473.2 179.3 473.2 179.7 473.3 180 473.3 180.4 473.4 180.7 473.4 181.1 473.5 181.8 473.5 182.1 473.6 183.5 473.6 183.9 473.7 185.6 473.7 186 473.8 187.7 473.8 188.1 473.9 189.5 473.9 189.8 474 190.2 474.1 190.5 474.2 190.9 474.3 191.2 474.4 191.6 474.5 191.9 474.7 192.3 474.8 192.6 474.9 193 475 193.3 475.1 193.7 475.2 194 475.3 194.4 475.4 194.7 475.5 195.1 475.6 195.4 475.7 195.8 475.8 196.1 475.8 196.5 475.9 196.8 476 197.2 476.1 197.5 476.2 197.9 476.3 198.2 476.4 198.6 476.4 198.9 476.5 199.3 476.6 199.6 476.7 200 476.7 200.3 476.8 200.7 476.8 201 476.9 201.4 476.9 201.7 477 202.1 477 202.4 477.1 202.8 477.1 203.1 477.2 203.5 477.2 203.8 477.3 204.2 477.3 204.5 477.4 204.9 477.4 205.2 477.5 213.6 477.5" fill="none" stroke="#42a8d6" stroke-width="0.7"/>
<line x1="156.25" y1="477.5" x2="213.75" y2="477.5" stroke="#42a8d6" stroke-width="0.7"/>
<path d="M156.2 496.8 L156.2 496.8 170.9 496.8 171.3 496.7 173.4 496.7 173.7 496.5 174.1 495.2 174.4 489.4 174.8 484.7 175.1 482.5 175.5 482.7 175.8 484.1 176.2 485.9 176.5 486.8 176.9 487.3 177.2 487.8 177.6 488.3 177.9 488.8 178.3 489.3 178.6 489.4 179 489.5 179.3 489.7 179.7 489.8 180 489.9 180.4 490 180.7 490.2 181.1 490.3 181.4 490.4 181.8 490.5 182.1 490.7 182.5 490.8 182.8 490.9 183.2 491 183.5 491.1 183.9 491.2 184.2 491.2 184.6 491.3 184.9 491.4 185.3 491.5 185.6 491.5 186 491.6 186.3 491.7 186.7 491.7 187 491.8 187.4 491.9 187.7 491.9 188.1 492 188.4 492.1 188.8 492.1 189.1 492.2 189.5 492.3 189.8 492.4 190.2 492.7 190.5 492.9 190.9 493.1 191.2 493.3 191.6 493.6 191.9 493.8 192.3 494 192.6 494.2 193 494.5 193.3 494.7 193.7 494.9 194 495.1 194.4 495.3 194.7 495.5 195.1 495.7 195.4 496 195.8 496.2 196.1 496.4 196.5 496.6 196.8 496.8 213.6 496.8 L213.8 496.8 Z" fill="#f9d19c" fill-opacity="0.9"/>
<path d="M156.2 496.8 170.9 496.8 171.3 496.7 173.4 496.7 173.7 496.5 174.1 495.2 174.4 489.4 174.8 484.7 175.1 482.5 175.5 482.7 175.8 484.1 176.2 485.9 176.5 486.8 176.9 487.3 177.2 487.8 177.6 488.3 177.9 488.8 178.3 489.3 178.6 489.4 179 489.5 179.3 489.7 179.7 489.8 180 489.9 180.4 490 180.7 490.2 181.1 490.3 181.4 490.4 181.8 490.5 182.1 490.7 182.5 490.8 182.8 490.9 183.2 491 183.5 491.1 183.9 491.2 184.2 491.2 184.6 491.3 184.9 491.4 185.3 491.5 185.6 491.5 186 491.6 186.3 491.7 186.7 491.7 187 491.8 187.4 491.9 187.7 491.9 188.1 492 188.4 492.1 188.8 492.1 189.1 492.2 189.5 492.3 189.8 492.4 190.2 492.7 190.5 492.9 190.9 493.1 191.2 493.3 191.6 493.6 191.9 493.8 192.3 494 192.6 494.2 193 494.5 193.3 494.7 193.7 494.9 194 495.1 194.4 495.3 194.7 495.5 195.1 495.7 195.4 496 195.8 496.2 196.1 496.4 196.5 496.6 196.8 496.8 213.6 496.8" fill="none" stroke="#eca24a" stroke-width="0.7"/>
<text transform="translate(211.55 454.85) scale(1 0.85)" font-size="6.4" text-anchor="end">253</text>
<text transform="translate(211.55 472.75) scale(1 0.85)" font-size="6.4" text-anchor="end">10217</text>
<text transform="translate(211.55 490.65) scale(1 0.85)" font-size="6.4" text-anchor="end">9536</text>
<rect x="156.25" y="439.25" width="57.5" height="57.5" fill="none" stroke="#231f20" stroke-width="0.9"/>
<line x1="161.22" y1="496.75" x2="161.22" y2="499.35" stroke="#231f20" stroke-width="0.65"/>
<line x1="162.85" y1="496.75" x2="162.85" y2="499.35" stroke="#231f20" stroke-width="0.65"/>
<line x1="164.48" y1="496.75" x2="164.48" y2="499.35" stroke="#231f20" stroke-width="0.65"/>
<line x1="166.12" y1="496.75" x2="166.12" y2="499.35" stroke="#231f20" stroke-width="0.65"/>
<line x1="167.75" y1="496.75" x2="167.75" y2="499.35" stroke="#231f20" stroke-width="0.65"/>
<line x1="169.38" y1="496.75" x2="169.38" y2="499.35" stroke="#231f20" stroke-width="0.65"/>
<line x1="171.02" y1="496.75" x2="171.02" y2="499.35" stroke="#231f20" stroke-width="0.65"/>
<line x1="172.65" y1="496.75" x2="172.65" y2="499.35" stroke="#231f20" stroke-width="0.65"/>
<line x1="174.28" y1="496.75" x2="174.28" y2="499.35" stroke="#231f20" stroke-width="0.65"/>
<line x1="175.92" y1="496.75" x2="175.92" y2="499.35" stroke="#231f20" stroke-width="0.65"/>
<line x1="177.55" y1="496.75" x2="177.55" y2="499.35" stroke="#231f20" stroke-width="0.65"/>
<line x1="179.18" y1="496.75" x2="179.18" y2="499.35" stroke="#231f20" stroke-width="0.65"/>
<line x1="180.82" y1="496.75" x2="180.82" y2="499.35" stroke="#231f20" stroke-width="0.65"/>
<line x1="182.45" y1="496.75" x2="182.45" y2="499.35" stroke="#231f20" stroke-width="0.65"/>
<line x1="184.09" y1="496.75" x2="184.09" y2="499.35" stroke="#231f20" stroke-width="0.65"/>
<line x1="185.13" y1="496.75" x2="185.13" y2="499.35" stroke="#231f20" stroke-width="0.65"/>
<line x1="189.05" y1="496.75" x2="189.05" y2="499.35" stroke="#231f20" stroke-width="0.65"/>
<line x1="191.14" y1="496.75" x2="191.14" y2="499.35" stroke="#231f20" stroke-width="0.65"/>
<line x1="192.58" y1="496.75" x2="192.58" y2="499.35" stroke="#231f20" stroke-width="0.65"/>
<line x1="193.62" y1="496.75" x2="193.62" y2="499.35" stroke="#231f20" stroke-width="0.65"/>
<line x1="194.54" y1="496.75" x2="194.54" y2="499.35" stroke="#231f20" stroke-width="0.65"/>
<line x1="195.32" y1="496.75" x2="195.32" y2="499.35" stroke="#231f20" stroke-width="0.65"/>
<line x1="195.98" y1="496.75" x2="195.98" y2="499.35" stroke="#231f20" stroke-width="0.65"/>
<line x1="196.63" y1="496.75" x2="196.63" y2="499.35" stroke="#231f20" stroke-width="0.65"/>
<line x1="197.55" y1="496.75" x2="197.55" y2="499.35" stroke="#231f20" stroke-width="0.65"/>
<line x1="201.47" y1="496.75" x2="201.47" y2="499.35" stroke="#231f20" stroke-width="0.65"/>
<line x1="203.56" y1="496.75" x2="203.56" y2="499.35" stroke="#231f20" stroke-width="0.65"/>
<line x1="204.99" y1="496.75" x2="204.99" y2="499.35" stroke="#231f20" stroke-width="0.65"/>
<line x1="206.04" y1="496.75" x2="206.04" y2="499.35" stroke="#231f20" stroke-width="0.65"/>
<line x1="206.95" y1="496.75" x2="206.95" y2="499.35" stroke="#231f20" stroke-width="0.65"/>
<line x1="207.74" y1="496.75" x2="207.74" y2="499.35" stroke="#231f20" stroke-width="0.65"/>
<line x1="208.39" y1="496.75" x2="208.39" y2="499.35" stroke="#231f20" stroke-width="0.65"/>
<line x1="209.05" y1="496.75" x2="209.05" y2="499.35" stroke="#231f20" stroke-width="0.65"/>
<line x1="209.83" y1="496.75" x2="209.83" y2="499.35" stroke="#231f20" stroke-width="0.65"/>
<text transform="translate(176.7 506.05) rotate(-48)" font-size="6.6" text-anchor="middle">0</text>
<text transform="translate(178 512.25) rotate(-48)" font-size="6.6">10<tspan font-size="4.75" dy="-2.4">4</tspan></text>
<text transform="translate(195.5 511.95) rotate(-48)" font-size="6.6">10<tspan font-size="4.75" dy="-2.4">5</tspan></text>
<text transform="translate(208.6 511.95) rotate(-48)" font-size="6.6">10<tspan font-size="4.75" dy="-2.4">6</tspan></text>
<text transform="translate(269 434.6)" font-size="8.5" text-anchor="middle" textLength="27.42" lengthAdjust="spacingAndGlyphs">MV4-11</text>
<path d="M240.5 458 L240.5 458 256.6 458 256.9 457.9 257.3 457.8 257.6 457.6 258 457.5 258.3 457.4 258.7 457.5 259 457.6 259.4 457.7 259.8 457.7 260.1 457.8 260.5 457.7 260.8 457.6 261.2 457.5 261.5 457.3 261.9 457.1 262.2 456.8 262.6 456.4 262.9 456 263.3 455.4 263.6 454.8 264 454 264.3 453.2 264.7 452.3 265 451.2 265.4 450.1 265.7 448.9 266.1 447.7 266.4 446.5 266.8 445.3 267.1 444.2 267.5 443.2 267.8 442.3 268.2 441.6 268.5 441.1 268.9 440.8 269.2 440.7 269.6 440.9 269.9 441.3 270.3 442 270.6 442.8 271 443.7 271.3 444.8 271.7 446 272 447.2 272.4 448.4 272.7 449.6 273.1 450.7 273.4 451.8 273.8 452.8 274.1 453.7 274.5 454.5 274.8 455.2 275.2 455.7 275.5 456.2 275.9 456.6 276.2 457 276.6 457.2 276.9 457.4 277.3 457.6 277.6 457.7 278 457.8 278.3 457.8 278.7 457.9 279.4 457.9 279.7 458 297.2 458 L297.5 458 Z" fill="#ee9dab" fill-opacity="0.9"/>
<path d="M240.5 458 256.6 458 256.9 457.9 257.3 457.8 257.6 457.6 258 457.5 258.3 457.4 258.7 457.5 259 457.6 259.4 457.7 259.8 457.7 260.1 457.8 260.5 457.7 260.8 457.6 261.2 457.5 261.5 457.3 261.9 457.1 262.2 456.8 262.6 456.4 262.9 456 263.3 455.4 263.6 454.8 264 454 264.3 453.2 264.7 452.3 265 451.2 265.4 450.1 265.7 448.9 266.1 447.7 266.4 446.5 266.8 445.3 267.1 444.2 267.5 443.2 267.8 442.3 268.2 441.6 268.5 441.1 268.9 440.8 269.2 440.7 269.6 440.9 269.9 441.3 270.3 442 270.6 442.8 271 443.7 271.3 444.8 271.7 446 272 447.2 272.4 448.4 272.7 449.6 273.1 450.7 273.4 451.8 273.8 452.8 274.1 453.7 274.5 454.5 274.8 455.2 275.2 455.7 275.5 456.2 275.9 456.6 276.2 457 276.6 457.2 276.9 457.4 277.3 457.6 277.6 457.7 278 457.8 278.3 457.8 278.7 457.9 279.4 457.9 279.7 458 297.2 458" fill="none" stroke="#b5304c" stroke-width="0.7"/>
<line x1="240.5" y1="458" x2="297.5" y2="458" stroke="#b5304c" stroke-width="0.7"/>
<path d="M240.5 477.5 L240.5 477.5 252.7 477.5 253.1 477.4 254.1 477.4 254.5 477.3 255.2 477.3 255.5 477.2 256.2 477.2 256.6 477.1 257.3 477.1 257.6 477 258.3 477 258.7 476.9 259.8 476.9 260.1 476.8 260.8 476.8 261.2 476.7 261.9 476.7 262.2 476.6 262.9 476.6 263.3 476.5 264 476.5 264.3 476.4 265.4 476.4 265.7 476.3 266.4 476.3 266.8 476.2 267.5 476.2 267.8 476.1 268.5 476.1 268.9 476 269.2 476 269.6 475.9 269.9 475.9 270.3 475.8 270.6 475.8 271 475.7 271.3 475.7 271.7 475.6 272 475.6 272.4 475.5 272.7 475.5 273.1 475.4 273.4 475.4 273.8 475.3 274.1 475.2 274.5 475.1 274.8 475 275.2 474.9 275.5 474.8 275.9 474.7 276.2 474.6 276.6 474.5 276.9 474.5 277.3 474.4 277.6 474.3 278 474.1 278.3 474 278.7 473.8 279 473.6 279.4 473.4 279.7 473.1 280.1 472.6 280.4 471.8 280.8 470.7 281.1 469.1 281.5 467 281.8 464.5 282.2 462.2 282.5 460.7 282.9 460.4 283.2 461.5 283.6 463.8 283.9 466.7 284.3 469.6 284.6 472.1 285 474 285.3 475.4 285.7 476.2 286 476.8 286.4 477.3 286.7 477.5 297.2 477.5 L297.5 477.5 Z" fill="#bfe0f5" fill-opacity="0.9"/>
<path d="M240.5 477.5 252.7 477.5 253.1 477.4 254.1 477.4 254.5 477.3 255.2 477.3 255.5 477.2 256.2 477.2 256.6 477.1 257.3 477.1 257.6 477 258.3 477 258.7 476.9 259.8 476.9 260.1 476.8 260.8 476.8 261.2 476.7 261.9 476.7 262.2 476.6 262.9 476.6 263.3 476.5 264 476.5 264.3 476.4 265.4 476.4 265.7 476.3 266.4 476.3 266.8 476.2 267.5 476.2 267.8 476.1 268.5 476.1 268.9 476 269.2 476 269.6 475.9 269.9 475.9 270.3 475.8 270.6 475.8 271 475.7 271.3 475.7 271.7 475.6 272 475.6 272.4 475.5 272.7 475.5 273.1 475.4 273.4 475.4 273.8 475.3 274.1 475.2 274.5 475.1 274.8 475 275.2 474.9 275.5 474.8 275.9 474.7 276.2 474.6 276.6 474.5 276.9 474.5 277.3 474.4 277.6 474.3 278 474.1 278.3 474 278.7 473.8 279 473.6 279.4 473.4 279.7 473.1 280.1 472.6 280.4 471.8 280.8 470.7 281.1 469.1 281.5 467 281.8 464.5 282.2 462.2 282.5 460.7 282.9 460.4 283.2 461.5 283.6 463.8 283.9 466.7 284.3 469.6 284.6 472.1 285 474 285.3 475.4 285.7 476.2 286 476.8 286.4 477.3 286.7 477.5 297.2 477.5" fill="none" stroke="#42a8d6" stroke-width="0.7"/>
<line x1="240.5" y1="477.5" x2="297.5" y2="477.5" stroke="#42a8d6" stroke-width="0.7"/>
<path d="M240.5 496.8 L240.5 496.8 261.5 496.8 261.9 496.7 262.2 496.7 262.6 496.6 263.3 496.6 263.6 496.5 264.3 496.5 264.7 496.4 265.4 496.4 265.7 496.3 266.4 496.3 266.8 496.2 267.1 496.2 267.5 496.1 268.2 496.1 268.5 496 269.2 496 269.6 495.9 269.9 495.9 270.3 495.8 270.6 495.8 271 495.7 271.7 495.7 272 495.6 272.4 495.6 272.7 495.5 273.1 495.5 273.4 495.4 273.8 495.3 274.1 495.1 274.5 494.9 274.8 494.9 275.2 494.7 275.5 494.4 275.9 494 276.2 493.2 276.6 492.2 276.9 490.8 277.3 489.1 277.6 487.3 278 485.5 278.3 483.8 278.7 482.3 279 481.2 279.4 480.5 279.7 480.4 280.1 480.8 280.4 481.8 280.8 483.1 281.1 484.8 281.5 486.6 281.8 488.4 282.2 490.1 282.5 491.6 282.9 493 283.2 494 283.6 494.9 283.9 495.5 284.3 495.9 284.6 496.2 285 496.4 285.3 496.6 285.7 496.6 286 496.7 295.1 496.7 295.5 496.8 297.2 496.8 L297.5 496.8 Z" fill="#f9d19c" fill-opacity="0.9"/>
<path d="M240.5 496.8 261.5 496.8 261.9 496.7 262.2 496.7 262.6 496.6 263.3 496.6 263.6 496.5 264.3 496.5 264.7 496.4 265.4 496.4 265.7 496.3 266.4 496.3 266.8 496.2 267.1 496.2 267.5 496.1 268.2 496.1 268.5 496 269.2 496 269.6 495.9 269.9 495.9 270.3 495.8 270.6 495.8 271 495.7 271.7 495.7 272 495.6 272.4 495.6 272.7 495.5 273.1 495.5 273.4 495.4 273.8 495.3 274.1 495.1 274.5 494.9 274.8 494.9 275.2 494.7 275.5 494.4 275.9 494 276.2 493.2 276.6 492.2 276.9 490.8 277.3 489.1 277.6 487.3 278 485.5 278.3 483.8 278.7 482.3 279 481.2 279.4 480.5 279.7 480.4 280.1 480.8 280.4 481.8 280.8 483.1 281.1 484.8 281.5 486.6 281.8 488.4 282.2 490.1 282.5 491.6 282.9 493 283.2 494 283.6 494.9 283.9 495.5 284.3 495.9 284.6 496.2 285 496.4 285.3 496.6 285.7 496.6 286 496.7 295.1 496.7 295.5 496.8 297.2 496.8" fill="none" stroke="#eca24a" stroke-width="0.7"/>
<text transform="translate(295.3 454.85) scale(1 0.85)" font-size="6.4" text-anchor="end">4774</text>
<text transform="translate(295.3 472.75) scale(1 0.85)" font-size="6.4" text-anchor="end">39964</text>
<text transform="translate(295.3 490.65) scale(1 0.85)" font-size="6.4" text-anchor="end">22413</text>
<rect x="240.5" y="439.25" width="57" height="57.5" fill="none" stroke="#231f20" stroke-width="0.9"/>
<line x1="245.42" y1="496.75" x2="245.42" y2="499.35" stroke="#231f20" stroke-width="0.65"/>
<line x1="247.04" y1="496.75" x2="247.04" y2="499.35" stroke="#231f20" stroke-width="0.65"/>
<line x1="248.66" y1="496.75" x2="248.66" y2="499.35" stroke="#231f20" stroke-width="0.65"/>
<line x1="250.28" y1="496.75" x2="250.28" y2="499.35" stroke="#231f20" stroke-width="0.65"/>
<line x1="251.9" y1="496.75" x2="251.9" y2="499.35" stroke="#231f20" stroke-width="0.65"/>
<line x1="253.52" y1="496.75" x2="253.52" y2="499.35" stroke="#231f20" stroke-width="0.65"/>
<line x1="255.14" y1="496.75" x2="255.14" y2="499.35" stroke="#231f20" stroke-width="0.65"/>
<line x1="256.76" y1="496.75" x2="256.76" y2="499.35" stroke="#231f20" stroke-width="0.65"/>
<line x1="258.38" y1="496.75" x2="258.38" y2="499.35" stroke="#231f20" stroke-width="0.65"/>
<line x1="260" y1="496.75" x2="260" y2="499.35" stroke="#231f20" stroke-width="0.65"/>
<line x1="261.62" y1="496.75" x2="261.62" y2="499.35" stroke="#231f20" stroke-width="0.65"/>
<line x1="263.24" y1="496.75" x2="263.24" y2="499.35" stroke="#231f20" stroke-width="0.65"/>
<line x1="264.85" y1="496.75" x2="264.85" y2="499.35" stroke="#231f20" stroke-width="0.65"/>
<line x1="266.47" y1="496.75" x2="266.47" y2="499.35" stroke="#231f20" stroke-width="0.65"/>
<line x1="268.09" y1="496.75" x2="268.09" y2="499.35" stroke="#231f20" stroke-width="0.65"/>
<line x1="269.13" y1="496.75" x2="269.13" y2="499.35" stroke="#231f20" stroke-width="0.65"/>
<line x1="273.02" y1="496.75" x2="273.02" y2="499.35" stroke="#231f20" stroke-width="0.65"/>
<line x1="275.09" y1="496.75" x2="275.09" y2="499.35" stroke="#231f20" stroke-width="0.65"/>
<line x1="276.51" y1="496.75" x2="276.51" y2="499.35" stroke="#231f20" stroke-width="0.65"/>
<line x1="277.55" y1="496.75" x2="277.55" y2="499.35" stroke="#231f20" stroke-width="0.65"/>
<line x1="278.46" y1="496.75" x2="278.46" y2="499.35" stroke="#231f20" stroke-width="0.65"/>
<line x1="279.23" y1="496.75" x2="279.23" y2="499.35" stroke="#231f20" stroke-width="0.65"/>
<line x1="279.88" y1="496.75" x2="279.88" y2="499.35" stroke="#231f20" stroke-width="0.65"/>
<line x1="280.53" y1="496.75" x2="280.53" y2="499.35" stroke="#231f20" stroke-width="0.65"/>
<line x1="281.44" y1="496.75" x2="281.44" y2="499.35" stroke="#231f20" stroke-width="0.65"/>
<line x1="285.32" y1="496.75" x2="285.32" y2="499.35" stroke="#231f20" stroke-width="0.65"/>
<line x1="287.4" y1="496.75" x2="287.4" y2="499.35" stroke="#231f20" stroke-width="0.65"/>
<line x1="288.82" y1="496.75" x2="288.82" y2="499.35" stroke="#231f20" stroke-width="0.65"/>
<line x1="289.86" y1="496.75" x2="289.86" y2="499.35" stroke="#231f20" stroke-width="0.65"/>
<line x1="290.76" y1="496.75" x2="290.76" y2="499.35" stroke="#231f20" stroke-width="0.65"/>
<line x1="291.54" y1="496.75" x2="291.54" y2="499.35" stroke="#231f20" stroke-width="0.65"/>
<line x1="292.19" y1="496.75" x2="292.19" y2="499.35" stroke="#231f20" stroke-width="0.65"/>
<line x1="292.84" y1="496.75" x2="292.84" y2="499.35" stroke="#231f20" stroke-width="0.65"/>
<line x1="293.61" y1="496.75" x2="293.61" y2="499.35" stroke="#231f20" stroke-width="0.65"/>
<text transform="translate(258.7 506.65) rotate(-48)" font-size="6.6" text-anchor="middle">0</text>
<text transform="translate(270.4 512.35) rotate(-48)" font-size="6.6">10<tspan font-size="4.75" dy="-2.4">4</tspan></text>
<text transform="translate(282.25 512.35) rotate(-48)" font-size="6.6">10<tspan font-size="4.75" dy="-2.4">5</tspan></text>
<text transform="translate(293.5 512.35) rotate(-48)" font-size="6.6">10<tspan font-size="4.75" dy="-2.4">6</tspan></text>
<text transform="translate(68.6 452.5)" font-size="6" text-anchor="end">AML Alone</text>
<text transform="translate(30.25 471.3)" font-size="6" text-anchor="middle">+</text>
<text transform="translate(68.6 471.3)" font-size="6" text-anchor="end" textLength="32.6" lengthAdjust="spacingAndGlyphs">DNT + IgG1</text>
<text transform="translate(21.65 490.6)" font-size="6" text-anchor="middle">+</text>
<text transform="translate(68.6 490.6)" font-size="6" text-anchor="end" textLength="41.9" lengthAdjust="spacingAndGlyphs">DNT + anti-TNF</text>
<text transform="translate(72.4 519.6)" font-size="7.8" textLength="26" lengthAdjust="spacingAndGlyphs">ICAM-1</text>
<line x1="101.3" y1="517" x2="292" y2="517" stroke="#231f20" stroke-width="1.1"/>
<path d="M290.2 514.6 L297.3 517 L290.2 519.4 Z" fill="#231f20"/>
<text transform="translate(361.6 421.2)" font-size="11" class="pl" font-weight="bold">G</text>
<path d="M453.3 435.9 L453.3 435.9 463.1 435.9 463.5 435.4 463.8 434.2 464.2 433.1 464.5 431.9 464.9 430.6 465.2 428.7 465.6 426.7 465.9 424.8 466.3 422.9 466.6 421.7 467 420.6 467.3 419.6 467.7 420.2 468 421.5 468.4 422.7 468.7 423.8 469.1 424.8 469.4 425.7 469.8 426.1 470.1 426.6 470.5 427 470.8 427.5 471.2 427.8 471.5 428.2 471.9 428.6 472.2 428.9 472.6 429.3 472.9 429.7 473.3 430 473.6 430.3 474 430.5 474.3 430.8 474.7 431 475 431.3 475.4 431.5 475.7 431.8 476.1 431.9 476.4 432.1 476.8 432.3 477.1 432.5 477.5 432.6 477.8 432.8 478.2 433 478.5 433.2 478.9 433.3 479.2 433.5 479.6 433.6 479.9 433.7 480.3 433.8 480.6 433.9 481 434 481.3 434.1 481.7 434.2 482 434.3 482.4 434.4 482.7 434.5 483.1 434.6 483.4 434.7 483.8 434.7 484.1 434.8 484.5 434.9 484.8 435 485.2 435.1 485.5 435.2 485.9 435.3 486.2 435.4 486.6 435.4 486.9 435.5 487.3 435.5 487.6 435.6 488 435.6 488.3 435.7 488.7 435.7 489 435.8 489.4 435.8 489.7 435.9 504.4 435.9 L504.4 435.9 Z" fill="#ee9dab" fill-opacity="0.9"/>
<path d="M453.3 435.9 463.1 435.9 463.5 435.4 463.8 434.2 464.2 433.1 464.5 431.9 464.9 430.6 465.2 428.7 465.6 426.7 465.9 424.8 466.3 422.9 466.6 421.7 467 420.6 467.3 419.6 467.7 420.2 468 421.5 468.4 422.7 468.7 423.8 469.1 424.8 469.4 425.7 469.8 426.1 470.1 426.6 470.5 427 470.8 427.5 471.2 427.8 471.5 428.2 471.9 428.6 472.2 428.9 472.6 429.3 472.9 429.7 473.3 430 473.6 430.3 474 430.5 474.3 430.8 474.7 431 475 431.3 475.4 431.5 475.7 431.8 476.1 431.9 476.4 432.1 476.8 432.3 477.1 432.5 477.5 432.6 477.8 432.8 478.2 433 478.5 433.2 478.9 433.3 479.2 433.5 479.6 433.6 479.9 433.7 480.3 433.8 480.6 433.9 481 434 481.3 434.1 481.7 434.2 482 434.3 482.4 434.4 482.7 434.5 483.1 434.6 483.4 434.7 483.8 434.7 484.1 434.8 484.5 434.9 484.8 435 485.2 435.1 485.5 435.2 485.9 435.3 486.2 435.4 486.6 435.4 486.9 435.5 487.3 435.5 487.6 435.6 488 435.6 488.3 435.7 488.7 435.7 489 435.8 489.4 435.8 489.7 435.9 504.4 435.9" fill="none" stroke="#b5304c" stroke-width="0.7"/>
<line x1="453.3" y1="435.88" x2="504.4" y2="435.88" stroke="#b5304c" stroke-width="0.7"/>
<path d="M453.3 453.1 L453.3 453.1 463.1 453.1 463.5 452.6 463.8 451.2 464.2 449.9 464.5 448.5 464.9 447.1 465.2 445.6 465.6 444 465.9 442.5 466.3 440.9 466.6 439.9 467 439 467.3 438.1 467.7 437.6 468 439.3 468.4 441 468.7 442.7 469.1 443.3 469.4 443.5 469.8 443.6 470.1 443.8 470.5 443.9 470.8 444.2 471.2 444.4 471.5 444.6 471.9 444.8 472.2 445 472.6 445.2 472.9 445.4 473.3 445.6 473.6 445.8 474 446 474.3 446.2 474.7 446.4 475 446.6 475.4 446.7 475.7 446.9 476.1 447.1 476.4 447.3 476.8 447.5 477.1 447.7 477.5 447.9 477.8 448.1 478.2 448.3 478.5 448.5 478.9 448.7 479.2 448.9 479.6 449.1 479.9 449.3 480.3 449.5 480.6 449.6 481 449.8 481.3 449.9 481.7 450.1 482 450.2 482.4 450.4 482.7 450.5 483.1 450.7 483.4 450.8 483.8 451 484.1 451.2 484.5 451.4 484.8 451.6 485.2 451.8 485.5 452 485.9 452.3 486.2 452.5 486.6 452.7 486.9 452.9 487.3 453.1 504.4 453.1 L504.4 453.1 Z" fill="#bfe0f5" fill-opacity="0.9"/>
<path d="M453.3 453.1 463.1 453.1 463.5 452.6 463.8 451.2 464.2 449.9 464.5 448.5 464.9 447.1 465.2 445.6 465.6 444 465.9 442.5 466.3 440.9 466.6 439.9 467 439 467.3 438.1 467.7 437.6 468 439.3 468.4 441 468.7 442.7 469.1 443.3 469.4 443.5 469.8 443.6 470.1 443.8 470.5 443.9 470.8 444.2 471.2 444.4 471.5 444.6 471.9 444.8 472.2 445 472.6 445.2 472.9 445.4 473.3 445.6 473.6 445.8 474 446 474.3 446.2 474.7 446.4 475 446.6 475.4 446.7 475.7 446.9 476.1 447.1 476.4 447.3 476.8 447.5 477.1 447.7 477.5 447.9 477.8 448.1 478.2 448.3 478.5 448.5 478.9 448.7 479.2 448.9 479.6 449.1 479.9 449.3 480.3 449.5 480.6 449.6 481 449.8 481.3 449.9 481.7 450.1 482 450.2 482.4 450.4 482.7 450.5 483.1 450.7 483.4 450.8 483.8 451 484.1 451.2 484.5 451.4 484.8 451.6 485.2 451.8 485.5 452 485.9 452.3 486.2 452.5 486.6 452.7 486.9 452.9 487.3 453.1 504.4 453.1" fill="none" stroke="#42a8d6" stroke-width="0.7"/>
<line x1="453.3" y1="453.15" x2="504.4" y2="453.15" stroke="#42a8d6" stroke-width="0.7"/>
<path d="M453.3 470.4 L453.3 470.4 463.8 470.4 464.2 470 464.5 469.6 464.9 469.1 465.2 468.7 465.6 468.2 465.9 467.8 466.3 467.5 466.6 467.2 467 466.9 467.3 466.6 467.7 466.3 468 466 468.4 465.7 468.7 465.6 469.1 465.5 469.4 465.5 469.8 465.4 470.1 465.4 470.5 465.3 470.8 465.3 471.2 465.2 471.5 465.2 471.9 465.1 472.6 465.1 472.9 465 473.3 465 473.6 464.8 474 464.7 474.3 464.6 474.7 464.4 475 464.3 475.4 464.2 475.7 464.1 476.1 463.9 476.4 463.8 476.8 463.7 477.1 463.5 477.5 463.4 477.8 463.3 478.2 463.1 478.5 463 478.9 462.9 479.2 462.7 479.6 462.2 479.9 461.7 480.3 461.2 480.6 460.7 481 460.2 481.3 459.8 481.7 459.3 482 458.8 482.4 458.3 482.7 457.9 483.1 457.6 483.4 457.3 483.8 457 484.1 456.7 484.5 456.4 484.8 456.1 485.2 456.1 485.5 456 485.9 455.9 486.2 455.8 486.6 455.7 486.9 455.8 487.3 456.2 487.6 456.5 488 456.8 488.3 457.1 488.7 457.9 489 458.7 489.4 459.5 489.7 460.3 490.1 461.1 490.4 461.9 490.8 462.7 491.1 463.4 491.5 464.1 491.8 464.8 492.2 465.6 492.5 466.3 492.9 467 493.2 467.7 493.6 468.5 493.9 468.9 494.3 469.1 494.6 469.3 495 469.5 495.3 469.7 495.7 469.8 496 470 496.4 470.2 496.7 470.4 504.4 470.4 L504.4 470.4 Z" fill="#f9d19c" fill-opacity="0.9"/>
<path d="M453.3 470.4 463.8 470.4 464.2 470 464.5 469.6 464.9 469.1 465.2 468.7 465.6 468.2 465.9 467.8 466.3 467.5 466.6 467.2 467 466.9 467.3 466.6 467.7 466.3 468 466 468.4 465.7 468.7 465.6 469.1 465.5 469.4 465.5 469.8 465.4 470.1 465.4 470.5 465.3 470.8 465.3 471.2 465.2 471.5 465.2 471.9 465.1 472.6 465.1 472.9 465 473.3 465 473.6 464.8 474 464.7 474.3 464.6 474.7 464.4 475 464.3 475.4 464.2 475.7 464.1 476.1 463.9 476.4 463.8 476.8 463.7 477.1 463.5 477.5 463.4 477.8 463.3 478.2 463.1 478.5 463 478.9 462.9 479.2 462.7 479.6 462.2 479.9 461.7 480.3 461.2 480.6 460.7 481 460.2 481.3 459.8 481.7 459.3 482 458.8 482.4 458.3 482.7 457.9 483.1 457.6 483.4 457.3 483.8 457 484.1 456.7 484.5 456.4 484.8 456.1 485.2 456.1 485.5 456 485.9 455.9 486.2 455.8 486.6 455.7 486.9 455.8 487.3 456.2 487.6 456.5 488 456.8 488.3 457.1 488.7 457.9 489 458.7 489.4 459.5 489.7 460.3 490.1 461.1 490.4 461.9 490.8 462.7 491.1 463.4 491.5 464.1 491.8 464.8 492.2 465.6 492.5 466.3 492.9 467 493.2 467.7 493.6 468.5 493.9 468.9 494.3 469.1 494.6 469.3 495 469.5 495.3 469.7 495.7 469.8 496 470 496.4 470.2 496.7 470.4 504.4 470.4" fill="none" stroke="#eca24a" stroke-width="0.7"/>
<line x1="453.3" y1="470.43" x2="504.4" y2="470.43" stroke="#eca24a" stroke-width="0.7"/>
<path d="M453.3 487.7 L453.3 487.7 463.8 487.7 464.2 486.5 464.5 485.4 464.9 484.2 465.2 483.1 465.6 482.1 465.9 481.2 466.3 480.4 466.6 479.5 467 478.6 467.3 477.7 467.7 477.5 468 477.3 468.4 477 468.7 477 469.1 477.3 469.4 477.5 469.8 477.7 470.1 477.7 470.5 477.6 470.8 477.5 471.2 477.4 471.5 477.4 471.9 477.3 472.6 477.3 472.9 477.2 473.3 477.2 473.6 477.1 474.3 477.1 474.7 477 475 477 475.4 476.9 475.7 476.8 476.1 476.6 476.4 476.4 476.8 476.1 477.1 475.9 477.5 475.6 477.8 475.3 478.2 475 478.5 474.8 478.9 474.5 479.2 474.2 479.6 473.9 479.9 473.6 480.3 473.3 480.6 473.2 481 473.1 481.3 473 481.7 472.9 482 472.8 482.4 472.7 482.7 472.6 483.1 472.5 483.4 472.4 483.8 472.3 484.1 472.7 484.5 473.1 484.8 473.6 485.2 474.5 485.5 475.4 485.9 476.3 486.2 477.2 486.6 478.2 486.9 479.3 487.3 480.3 487.6 481.3 488 482.2 488.3 482.8 488.7 483.5 489 484.1 489.4 484.7 489.7 485.3 490.1 485.5 490.4 485.8 490.8 486 491.1 486.2 491.5 486.5 491.8 486.7 492.2 487 492.5 487.2 492.9 487.5 493.2 487.7 504.4 487.7 L504.4 487.7 Z" fill="#b2d9a6" fill-opacity="0.9"/>
<path d="M453.3 487.7 463.8 487.7 464.2 486.5 464.5 485.4 464.9 484.2 465.2 483.1 465.6 482.1 465.9 481.2 466.3 480.4 466.6 479.5 467 478.6 467.3 477.7 467.7 477.5 468 477.3 468.4 477 468.7 477 469.1 477.3 469.4 477.5 469.8 477.7 470.1 477.7 470.5 477.6 470.8 477.5 471.2 477.4 471.5 477.4 471.9 477.3 472.6 477.3 472.9 477.2 473.3 477.2 473.6 477.1 474.3 477.1 474.7 477 475 477 475.4 476.9 475.7 476.8 476.1 476.6 476.4 476.4 476.8 476.1 477.1 475.9 477.5 475.6 477.8 475.3 478.2 475 478.5 474.8 478.9 474.5 479.2 474.2 479.6 473.9 479.9 473.6 480.3 473.3 480.6 473.2 481 473.1 481.3 473 481.7 472.9 482 472.8 482.4 472.7 482.7 472.6 483.1 472.5 483.4 472.4 483.8 472.3 484.1 472.7 484.5 473.1 484.8 473.6 485.2 474.5 485.5 475.4 485.9 476.3 486.2 477.2 486.6 478.2 486.9 479.3 487.3 480.3 487.6 481.3 488 482.2 488.3 482.8 488.7 483.5 489 484.1 489.4 484.7 489.7 485.3 490.1 485.5 490.4 485.8 490.8 486 491.1 486.2 491.5 486.5 491.8 486.7 492.2 487 492.5 487.2 492.9 487.5 493.2 487.7 504.4 487.7" fill="none" stroke="#58a94c" stroke-width="0.7"/>
<text transform="translate(502.4 432.98) scale(1 0.85)" font-size="6.4" text-anchor="end">485</text>
<text transform="translate(502.4 450.25) scale(1 0.85)" font-size="6.4" text-anchor="end">1750</text>
<text transform="translate(502.4 467.53) scale(1 0.85)" font-size="6.4" text-anchor="end">15502</text>
<text transform="translate(502.4 484.8) scale(1 0.85)" font-size="6.4" text-anchor="end">2323</text>
<rect x="453.3" y="418.6" width="51.1" height="69.1" fill="none" stroke="#231f20" stroke-width="0.9"/>
<line x1="456.3" y1="487.7" x2="456.3" y2="489.2" stroke="#231f20" stroke-width="0.55"/>
<line x1="459.3" y1="487.7" x2="459.3" y2="489.2" stroke="#231f20" stroke-width="0.55"/>
<line x1="461.3" y1="487.7" x2="461.3" y2="489.2" stroke="#231f20" stroke-width="0.55"/>
<line x1="463.3" y1="487.7" x2="463.3" y2="489.2" stroke="#231f20" stroke-width="0.55"/>
<line x1="465.3" y1="487.7" x2="465.3" y2="489.2" stroke="#231f20" stroke-width="0.55"/>
<line x1="466.3" y1="487.7" x2="466.3" y2="489.2" stroke="#231f20" stroke-width="0.55"/>
<line x1="467.3" y1="487.7" x2="467.3" y2="489.2" stroke="#231f20" stroke-width="0.55"/>
<line x1="468.3" y1="487.7" x2="468.3" y2="489.2" stroke="#231f20" stroke-width="0.55"/>
<line x1="469.3" y1="487.7" x2="469.3" y2="489.2" stroke="#231f20" stroke-width="0.55"/>
<line x1="470.8" y1="487.7" x2="470.8" y2="489.2" stroke="#231f20" stroke-width="0.55"/>
<line x1="472.3" y1="487.7" x2="472.3" y2="489.2" stroke="#231f20" stroke-width="0.55"/>
<line x1="475.3" y1="487.7" x2="475.3" y2="489.2" stroke="#231f20" stroke-width="0.55"/>
<line x1="478.3" y1="487.7" x2="478.3" y2="489.2" stroke="#231f20" stroke-width="0.55"/>
<line x1="480.3" y1="487.7" x2="480.3" y2="489.2" stroke="#231f20" stroke-width="0.55"/>
<line x1="481.8" y1="487.7" x2="481.8" y2="489.2" stroke="#231f20" stroke-width="0.55"/>
<line x1="482.8" y1="487.7" x2="482.8" y2="489.2" stroke="#231f20" stroke-width="0.55"/>
<line x1="483.5" y1="487.7" x2="483.5" y2="489.2" stroke="#231f20" stroke-width="0.55"/>
<line x1="486.3" y1="487.7" x2="486.3" y2="489.2" stroke="#231f20" stroke-width="0.55"/>
<line x1="489.3" y1="487.7" x2="489.3" y2="489.2" stroke="#231f20" stroke-width="0.55"/>
<line x1="491.3" y1="487.7" x2="491.3" y2="489.2" stroke="#231f20" stroke-width="0.55"/>
<line x1="492.8" y1="487.7" x2="492.8" y2="489.2" stroke="#231f20" stroke-width="0.55"/>
<line x1="493.8" y1="487.7" x2="493.8" y2="489.2" stroke="#231f20" stroke-width="0.55"/>
<line x1="497.3" y1="487.7" x2="497.3" y2="489.2" stroke="#231f20" stroke-width="0.55"/>
<line x1="500.3" y1="487.7" x2="500.3" y2="489.2" stroke="#231f20" stroke-width="0.55"/>
<line x1="502.3" y1="487.7" x2="502.3" y2="489.2" stroke="#231f20" stroke-width="0.55"/>
<line x1="503.8" y1="487.7" x2="503.8" y2="489.2" stroke="#231f20" stroke-width="0.55"/>
<text transform="translate(449 506.2) rotate(-48)" font-size="6">−10<tspan font-size="4.3" dy="-2.4">4</tspan></text>
<text transform="translate(472.4 497.8) rotate(-48)" font-size="6.6" text-anchor="middle">0</text>
<text transform="translate(477.6 503.5) rotate(-48)" font-size="6.6">10<tspan font-size="4.75" dy="-2.4">4</tspan></text>
<text transform="translate(490.1 503.5) rotate(-48)" font-size="6.6">10<tspan font-size="4.75" dy="-2.4">5</tspan></text>
<text transform="translate(479.1 514.4) scale(1 0.95)" font-size="8.4" class="yl" text-anchor="middle" textLength="18.5" lengthAdjust="spacingAndGlyphs">ICAM-1</text>
<text transform="translate(450.7 430.3)" font-size="6" text-anchor="end">KG-1a</text>
<text transform="translate(450.7 447.1)" font-size="5.95" text-anchor="end">DNT + KG-1a</text>
<text transform="translate(450.7 464.5)" font-size="6" text-anchor="end">KG-1a</text>
<text transform="translate(450.7 481.9)" font-size="5.95" text-anchor="end">DNT + KG-1a</text>
<line x1="411.4" y1="426" x2="411.4" y2="447.3" stroke="#231f20" stroke-width="0.9"/>
<line x1="411.4" y1="459" x2="411.4" y2="480.6" stroke="#231f20" stroke-width="0.9"/>
<text transform="translate(398.1 436.2)" font-size="6" text-anchor="middle" font-weight="bold">Top:</text>
<text transform="translate(397.3 444)" font-size="5.95" text-anchor="middle">MV-411</text>
<text transform="translate(391.6 469.2)" font-size="6" text-anchor="middle" font-weight="bold">Top:</text>
<text transform="translate(391 477)" font-size="5.95" text-anchor="middle">DNT+MV-411</text>
<text transform="translate(7 533.8)" font-size="11" class="pl" font-weight="bold">H</text>
<line x1="50.8" y1="537.5" x2="50.8" y2="596" stroke="#231f20" stroke-width="0.9"/>
<line x1="47.7" y1="595.6" x2="50.8" y2="595.6" stroke="#231f20" stroke-width="0.8"/>
<text transform="translate(44.8 597.83)" font-size="6.2" text-anchor="end">0</text>
<line x1="47.7" y1="584.38" x2="50.8" y2="584.38" stroke="#231f20" stroke-width="0.8"/>
<text transform="translate(44.8 586.61)" font-size="6.2" text-anchor="end">5000</text>
<line x1="47.7" y1="573.16" x2="50.8" y2="573.16" stroke="#231f20" stroke-width="0.8"/>
<text transform="translate(44.8 575.39)" font-size="6.2" text-anchor="end">10000</text>
<line x1="47.7" y1="561.94" x2="50.8" y2="561.94" stroke="#231f20" stroke-width="0.8"/>
<text transform="translate(44.8 564.17)" font-size="6.2" text-anchor="end">15000</text>
<line x1="47.7" y1="550.72" x2="50.8" y2="550.72" stroke="#231f20" stroke-width="0.8"/>
<text transform="translate(44.8 552.95)" font-size="6.2" text-anchor="end">20000</text>
<line x1="47.7" y1="539.5" x2="50.8" y2="539.5" stroke="#231f20" stroke-width="0.8"/>
<text transform="translate(44.8 541.73)" font-size="6.2" text-anchor="end">25000</text>
<line x1="50.35" y1="595.6" x2="98.4" y2="595.6" stroke="#231f20" stroke-width="0.9"/>
<line x1="57.95" y1="595.6" x2="57.95" y2="597.8" stroke="#231f20" stroke-width="0.8"/>
<line x1="69" y1="595.6" x2="69" y2="597.8" stroke="#231f20" stroke-width="0.8"/>
<line x1="80.6" y1="595.6" x2="80.6" y2="597.8" stroke="#231f20" stroke-width="0.8"/>
<line x1="92.25" y1="595.6" x2="92.25" y2="597.8" stroke="#231f20" stroke-width="0.8"/>
<path d="M54.6 595.6 L54.6 594.75 Q54.6 593.9 55.45 593.9 L60.45 593.9 Q61.3 593.9 61.3 594.75 L61.3 595.6 Z" fill="#c8102e"/>
<path d="M65.6 595.6 L65.6 594.9 Q65.6 594.2 66.3 594.2 L71.7 594.2 Q72.4 594.2 72.4 594.9 L72.4 595.6 Z" fill="#1d6a4c"/>
<path d="M77.2 595.6 L77.2 546.6 Q77.2 544.4 79.4 544.4 L81.8 544.4 Q84 544.4 84 546.6 L84 595.6 Z" fill="#0f4d8f"/>
<path d="M88.9 595.6 L88.9 590.8 Q88.9 588.6 91.1 588.6 L93.4 588.6 Q95.6 588.6 95.6 590.8 L95.6 595.6 Z" fill="#3db449"/>
<line x1="56.7" y1="542.3" x2="78.3" y2="542.3" stroke="#231f20" stroke-width="0.8"/>
<text transform="translate(67.5 542.9)" font-size="5.5" text-anchor="middle">***</text>
<line x1="81.4" y1="542.3" x2="93.1" y2="542.3" stroke="#231f20" stroke-width="0.8"/>
<text transform="translate(87.25 542.9)" font-size="5.5" text-anchor="middle">***</text>
<line x1="136.25" y1="537.5" x2="136.25" y2="596" stroke="#231f20" stroke-width="0.9"/>
<line x1="133.15" y1="595.6" x2="136.25" y2="595.6" stroke="#231f20" stroke-width="0.8"/>
<text transform="translate(130.25 597.83)" font-size="6.2" text-anchor="end">0</text>
<line x1="133.15" y1="584.38" x2="136.25" y2="584.38" stroke="#231f20" stroke-width="0.8"/>
<text transform="translate(130.25 586.61)" font-size="6.2" text-anchor="end">5000</text>
<line x1="133.15" y1="573.16" x2="136.25" y2="573.16" stroke="#231f20" stroke-width="0.8"/>
<text transform="translate(130.25 575.39)" font-size="6.2" text-anchor="end">10000</text>
<line x1="133.15" y1="561.94" x2="136.25" y2="561.94" stroke="#231f20" stroke-width="0.8"/>
<text transform="translate(130.25 564.17)" font-size="6.2" text-anchor="end">15000</text>
<line x1="133.15" y1="550.72" x2="136.25" y2="550.72" stroke="#231f20" stroke-width="0.8"/>
<text transform="translate(130.25 552.95)" font-size="6.2" text-anchor="end">20000</text>
<line x1="133.15" y1="539.5" x2="136.25" y2="539.5" stroke="#231f20" stroke-width="0.8"/>
<text transform="translate(130.25 541.73)" font-size="6.2" text-anchor="end">25000</text>
<line x1="135.8" y1="595.6" x2="182" y2="595.6" stroke="#231f20" stroke-width="0.9"/>
<line x1="141.15" y1="595.6" x2="141.15" y2="597.8" stroke="#231f20" stroke-width="0.8"/>
<line x1="152.88" y1="595.6" x2="152.88" y2="597.8" stroke="#231f20" stroke-width="0.8"/>
<line x1="164.62" y1="595.6" x2="164.62" y2="597.8" stroke="#231f20" stroke-width="0.8"/>
<line x1="176.25" y1="595.6" x2="176.25" y2="597.8" stroke="#231f20" stroke-width="0.8"/>
<path d="M137.8 595.6 L137.8 594.7 Q137.8 593.8 138.7 593.8 L143.6 593.8 Q144.5 593.8 144.5 594.7 L144.5 595.6 Z" fill="#c8102e"/>
<path d="M149.5 595.6 L149.5 594.05 Q149.5 592.5 151.05 592.5 L154.7 592.5 Q156.25 592.5 156.25 594.05 L156.25 595.6 Z" fill="#1d6a4c"/>
<path d="M161.25 595.6 L161.25 549.2 Q161.25 547 163.45 547 L165.8 547 Q168 547 168 549.2 L168 595.6 Z" fill="#0f4d8f"/>
<path d="M173 595.6 L173 584.8 Q173 582.6 175.2 582.6 L177.3 582.6 Q179.5 582.6 179.5 584.8 L179.5 595.6 Z" fill="#3db449"/>
<line x1="141.25" y1="542" x2="162" y2="542" stroke="#231f20" stroke-width="0.8"/>
<text transform="translate(151.62 542.6)" font-size="5.5" text-anchor="middle">***</text>
<line x1="165" y1="542" x2="175.5" y2="542" stroke="#231f20" stroke-width="0.8"/>
<text transform="translate(170.25 542.6)" font-size="5.5" text-anchor="middle">***</text>
<text transform="translate(23.41 566.5) rotate(-90)" font-size="6.91" class="yl" text-anchor="middle" textLength="55" lengthAdjust="spacingAndGlyphs">ICAM-1 MFI of KG-1a</text>
<rect x="15.9" y="604.1" width="8.6" height="3" fill="#c8102e"/>
<text transform="translate(27.6 607.7)" font-size="6.1">KG-1a Alone</text>
<rect x="121.4" y="603.9" width="9.2" height="3" fill="#c8102e"/>
<text transform="translate(133.6 607.5)" font-size="6.1">KG-1a Alone</text>
<rect x="15.9" y="615.1" width="8.6" height="3" fill="#1d6a4c"/>
<text transform="translate(27.6 618.7)" font-size="6.1">+ DNT</text>
<rect x="121.4" y="614.5" width="9.2" height="3" fill="#1d6a4c"/>
<text transform="translate(133.6 618.1)" font-size="6.1">+ DNT</text>
<rect x="15.9" y="625.7" width="8.6" height="3" fill="#0f4d8f"/>
<text transform="translate(27.6 629.3)" font-size="6.1">+ MV4-11 + DNT + IgG1</text>
<rect x="121.4" y="625.1" width="9.2" height="3" fill="#0f4d8f"/>
<text transform="translate(133.6 628.7)" font-size="6.1">+ OCI-AML3 + DNT + IgG1</text>
<rect x="15.9" y="636.7" width="8.6" height="3" fill="#3db449"/>
<text transform="translate(27.6 640.3)" font-size="6.1">+ MV4-11 + DNT + anti-TNF</text>
<rect x="121.4" y="635.6" width="9.2" height="3" fill="#3db449"/>
<text transform="translate(133.6 639.2)" font-size="6.1">+ OCI-AML3 + DNT + anti-TNF</text>
<text transform="translate(222.2 534)" font-size="11" class="pl" font-weight="bold">I</text>
<text transform="translate(229.04 594) rotate(-90)" font-size="6.7" class="yl" text-anchor="middle" textLength="63" lengthAdjust="spacingAndGlyphs">ICAM-1 MFI fold change</text>
<text transform="translate(239.14 594) rotate(-90)" font-size="6.7" class="yl" text-anchor="middle" textLength="56" lengthAdjust="spacingAndGlyphs">after rTNFα treatment</text>
<text transform="translate(278.8 554.8)" font-size="8.5" text-anchor="middle" textLength="23.12" lengthAdjust="spacingAndGlyphs">KG-1a</text>
<line x1="256.5" y1="559" x2="256.5" y2="627.4" stroke="#231f20" stroke-width="0.9"/>
<line x1="253.4" y1="627" x2="256.5" y2="627" stroke="#231f20" stroke-width="0.8"/>
<text transform="translate(251.5 629.27)" font-size="6.3" text-anchor="end">0</text>
<line x1="253.4" y1="605.34" x2="256.5" y2="605.34" stroke="#231f20" stroke-width="0.8"/>
<text transform="translate(251.5 607.61)" font-size="6.3" text-anchor="end">20</text>
<line x1="253.4" y1="583.68" x2="256.5" y2="583.68" stroke="#231f20" stroke-width="0.8"/>
<text transform="translate(251.5 585.95)" font-size="6.3" text-anchor="end">40</text>
<line x1="253.4" y1="562.02" x2="256.5" y2="562.02" stroke="#231f20" stroke-width="0.8"/>
<text transform="translate(251.5 564.29)" font-size="6.3" text-anchor="end">60</text>
<line x1="255.8" y1="627" x2="298.75" y2="627" stroke="#231f20" stroke-width="0.9"/>
<line x1="267.9" y1="627" x2="267.9" y2="629.2" stroke="#231f20" stroke-width="0.8"/>
<line x1="289.1" y1="627" x2="289.1" y2="629.2" stroke="#231f20" stroke-width="0.8"/>
<rect x="260.75" y="567" width="14.25" height="60" fill="#c8102e"/>
<line x1="267.88" y1="567.5" x2="267.88" y2="565.4" stroke="#231f20" stroke-width="0.9"/>
<line x1="264.31" y1="565.4" x2="271.44" y2="565.4" stroke="#231f20" stroke-width="1"/>
<rect x="282" y="582" width="14.25" height="45" fill="#f39200"/>
<line x1="289.12" y1="582.5" x2="289.12" y2="578.6" stroke="#231f20" stroke-width="0.9"/>
<line x1="285.56" y1="578.6" x2="292.69" y2="578.6" stroke="#231f20" stroke-width="1"/>
<line x1="267.5" y1="563" x2="290" y2="563" stroke="#231f20" stroke-width="0.8"/>
<text transform="translate(278.75 563.6)" font-size="5.5" text-anchor="middle">***</text>
<text transform="translate(267.9 638.4)" font-size="6" text-anchor="middle">DMSO</text>
<text transform="translate(289.3 638.4)" font-size="6" text-anchor="middle">JAK1i</text>
<text transform="translate(341.3 554.8)" font-size="8.5" text-anchor="middle" textLength="37.78" lengthAdjust="spacingAndGlyphs">OCI-AML2</text>
<line x1="318.5" y1="559" x2="318.5" y2="627.4" stroke="#231f20" stroke-width="0.9"/>
<line x1="315.4" y1="627" x2="318.5" y2="627" stroke="#231f20" stroke-width="0.8"/>
<text transform="translate(312.5 629.27)" font-size="6.3" text-anchor="end">0</text>
<line x1="315.4" y1="610.7" x2="318.5" y2="610.7" stroke="#231f20" stroke-width="0.8"/>
<text transform="translate(312.5 612.97)" font-size="6.3" text-anchor="end">2</text>
<line x1="315.4" y1="594.4" x2="318.5" y2="594.4" stroke="#231f20" stroke-width="0.8"/>
<text transform="translate(312.5 596.67)" font-size="6.3" text-anchor="end">4</text>
<line x1="315.4" y1="578.1" x2="318.5" y2="578.1" stroke="#231f20" stroke-width="0.8"/>
<text transform="translate(312.5 580.37)" font-size="6.3" text-anchor="end">6</text>
<line x1="315.4" y1="561.8" x2="318.5" y2="561.8" stroke="#231f20" stroke-width="0.8"/>
<text transform="translate(312.5 564.07)" font-size="6.3" text-anchor="end">8</text>
<line x1="318.05" y1="627" x2="361.25" y2="627" stroke="#231f20" stroke-width="0.9"/>
<line x1="329.9" y1="627" x2="329.9" y2="629.2" stroke="#231f20" stroke-width="0.8"/>
<line x1="351.25" y1="627" x2="351.25" y2="629.2" stroke="#231f20" stroke-width="0.8"/>
<rect x="323" y="570" width="14" height="57" fill="#c8102e"/>
<line x1="330" y1="570.5" x2="330" y2="568" stroke="#231f20" stroke-width="0.9"/>
<line x1="326.5" y1="568" x2="333.5" y2="568" stroke="#231f20" stroke-width="1"/>
<rect x="344.25" y="581.75" width="14" height="45.25" fill="#f39200"/>
<line x1="351.25" y1="582.25" x2="351.25" y2="579.25" stroke="#231f20" stroke-width="0.9"/>
<line x1="347.75" y1="579.25" x2="354.75" y2="579.25" stroke="#231f20" stroke-width="1"/>
<line x1="329.5" y1="564.5" x2="351.25" y2="564.5" stroke="#231f20" stroke-width="0.8"/>
<text transform="translate(340.38 565.1)" font-size="5.5" text-anchor="middle">***</text>
<text transform="translate(329.9 638.4)" font-size="6" text-anchor="middle">DMSO</text>
<text transform="translate(351.4 638.4)" font-size="6" text-anchor="middle">JAK1i</text>
<text transform="translate(373 534)" font-size="11" class="pl" font-weight="bold">J</text>
<text transform="translate(378.74 586.3) rotate(-90)" font-size="6.7" class="yl" text-anchor="middle" textLength="62" lengthAdjust="spacingAndGlyphs">ICAM-1 MFI fold change</text>
<text transform="translate(389.54 586.7) rotate(-90)" font-size="6.7" class="yl" text-anchor="middle" textLength="58" lengthAdjust="spacingAndGlyphs">after rTNFα treatment</text>
<text transform="translate(425 541.6)" font-size="8.5" text-anchor="middle" textLength="37.78" lengthAdjust="spacingAndGlyphs">OCI-AML2</text>
<line x1="402.6" y1="546.5" x2="402.6" y2="627.4" stroke="#231f20" stroke-width="0.9"/>
<line x1="399.5" y1="627" x2="402.6" y2="627" stroke="#231f20" stroke-width="0.8"/>
<text transform="translate(397.7 629.27)" font-size="6.3" text-anchor="end">1</text>
<line x1="399.5" y1="600.92" x2="402.6" y2="600.92" stroke="#231f20" stroke-width="0.8"/>
<text transform="translate(397.7 603.19)" font-size="6.3" text-anchor="end">2</text>
<line x1="399.5" y1="574.84" x2="402.6" y2="574.84" stroke="#231f20" stroke-width="0.8"/>
<text transform="translate(397.7 577.11)" font-size="6.3" text-anchor="end">3</text>
<line x1="399.5" y1="548.76" x2="402.6" y2="548.76" stroke="#231f20" stroke-width="0.8"/>
<text transform="translate(397.7 551.03)" font-size="6.3" text-anchor="end">4</text>
<line x1="402.55" y1="627" x2="445.5" y2="627" stroke="#231f20" stroke-width="0.9"/>
<line x1="413.9" y1="627" x2="413.9" y2="629.2" stroke="#231f20" stroke-width="0.8"/>
<line x1="435.6" y1="627" x2="435.6" y2="629.2" stroke="#231f20" stroke-width="0.8"/>
<rect x="407" y="574.5" width="13.75" height="52.5" fill="#29a9e1"/>
<line x1="413.88" y1="575" x2="413.88" y2="572.5" stroke="#231f20" stroke-width="0.9"/>
<line x1="410.44" y1="572.5" x2="417.31" y2="572.5" stroke="#231f20" stroke-width="1"/>
<rect x="428.75" y="610.75" width="13.75" height="16.25" fill="#0d4a86"/>
<line x1="435.62" y1="611.25" x2="435.62" y2="610" stroke="#231f20" stroke-width="0.9"/>
<line x1="432.19" y1="610" x2="439.06" y2="610" stroke="#231f20" stroke-width="1"/>
<line x1="414.5" y1="569.5" x2="435.75" y2="569.5" stroke="#231f20" stroke-width="0.8"/>
<text transform="translate(425.12 570.1)" font-size="5.5" text-anchor="middle">**</text>
<text transform="translate(413.9 638.4)" font-size="6" text-anchor="middle">shGFP</text>
<text transform="translate(435.8 638.4)" font-size="6" text-anchor="middle">shJAK1</text>
<text transform="translate(492 541.6)" font-size="8.5" text-anchor="middle" textLength="37.78" lengthAdjust="spacingAndGlyphs">OCI-AML3</text>
<line x1="469.5" y1="546.5" x2="469.5" y2="627.4" stroke="#231f20" stroke-width="0.9"/>
<line x1="466.4" y1="627" x2="469.5" y2="627" stroke="#231f20" stroke-width="0.8"/>
<text transform="translate(463.5 629.27)" font-size="6.3" text-anchor="end">1.0</text>
<line x1="466.4" y1="611.35" x2="469.5" y2="611.35" stroke="#231f20" stroke-width="0.8"/>
<text transform="translate(463.5 613.62)" font-size="6.3" text-anchor="end">1.2</text>
<line x1="466.4" y1="595.7" x2="469.5" y2="595.7" stroke="#231f20" stroke-width="0.8"/>
<text transform="translate(463.5 597.97)" font-size="6.3" text-anchor="end">1.4</text>
<line x1="466.4" y1="580.05" x2="469.5" y2="580.05" stroke="#231f20" stroke-width="0.8"/>
<text transform="translate(463.5 582.32)" font-size="6.3" text-anchor="end">1.6</text>
<line x1="466.4" y1="564.4" x2="469.5" y2="564.4" stroke="#231f20" stroke-width="0.8"/>
<text transform="translate(463.5 566.67)" font-size="6.3" text-anchor="end">1.8</text>
<line x1="466.4" y1="548.75" x2="469.5" y2="548.75" stroke="#231f20" stroke-width="0.8"/>
<text transform="translate(463.5 551.02)" font-size="6.3" text-anchor="end">2.0</text>
<line x1="469.05" y1="627" x2="512.5" y2="627" stroke="#231f20" stroke-width="0.9"/>
<line x1="480.9" y1="627" x2="480.9" y2="629.2" stroke="#231f20" stroke-width="0.8"/>
<line x1="502.5" y1="627" x2="502.5" y2="629.2" stroke="#231f20" stroke-width="0.8"/>
<rect x="473.75" y="579.25" width="14.25" height="47.75" fill="#29a9e1"/>
<line x1="480.88" y1="579.75" x2="480.88" y2="578.3" stroke="#231f20" stroke-width="0.9"/>
<line x1="477.31" y1="578.3" x2="484.44" y2="578.3" stroke="#231f20" stroke-width="1"/>
<rect x="495.5" y="601.75" width="14" height="25.25" fill="#0d4a86"/>
<line x1="502.5" y1="602.25" x2="502.5" y2="601" stroke="#231f20" stroke-width="0.9"/>
<line x1="499" y1="601" x2="506" y2="601" stroke="#231f20" stroke-width="1"/>
<line x1="481.25" y1="572.5" x2="503" y2="572.5" stroke="#231f20" stroke-width="0.8"/>
<text transform="translate(492.12 573.1)" font-size="5.5" text-anchor="middle">**</text>
<text transform="translate(480.9 638.4)" font-size="6" text-anchor="middle">shGFP</text>
<text transform="translate(502.6 638.4)" font-size="6" text-anchor="middle">shJAK1</text>
</svg>
</body></html>
